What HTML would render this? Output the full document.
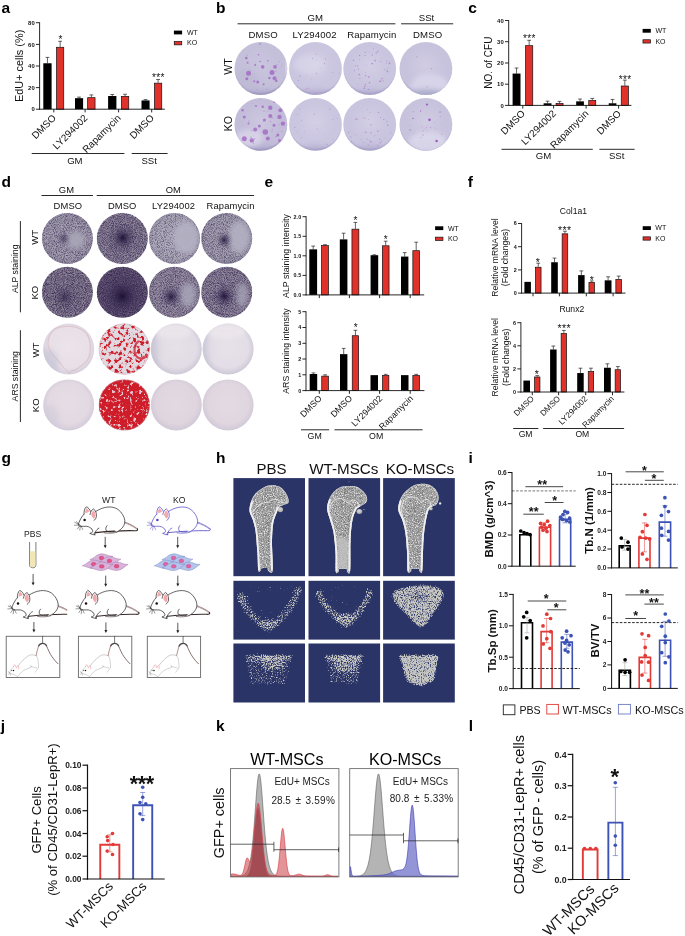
<!DOCTYPE html>
<html><head><meta charset="utf-8"><title>figure</title>
<style>
html,body{margin:0;padding:0;background:#fff;}
svg{display:block;font-family:"Liberation Sans",sans-serif;will-change:transform;opacity:0.9999;}
</style></head><body>
<svg width="685" height="936" viewBox="0 0 685 936" font-family="Liberation Sans, sans-serif">
<defs>
<filter id="bl03" x="-0.5" y="-0.5" width="2" height="2"><feGaussianBlur stdDeviation="0.35"/></filter>
<filter id="bl05" x="-0.2" y="-0.2" width="1.4" height="1.4"><feGaussianBlur stdDeviation="0.6"/></filter>
<filter id="bl1" x="-0.5" y="-0.5" width="2" height="2"><feGaussianBlur stdDeviation="1.2"/></filter>
<filter id="bl2" x="-0.5" y="-0.5" width="2" height="2"><feGaussianBlur stdDeviation="2.4"/></filter>
<filter id="bl3" x="-0.5" y="-0.5" width="2" height="2"><feGaussianBlur stdDeviation="3.5"/></filter>
<clipPath id="cp1"><circle cx="260.90" cy="68.50" r="26.40"/></clipPath>
<radialGradient id="rg2" cx="0.5" cy="0.45" r="0.53" gradientUnits="objectBoundingBox"><stop offset="0" stop-color="#c9c5dd" stop-opacity="1"/><stop offset="0.7" stop-color="#c4c0da" stop-opacity="1"/><stop offset="0.93" stop-color="#c4c0da" stop-opacity="1"/><stop offset="1" stop-color="#aaa4c8" stop-opacity="1"/></radialGradient>
<clipPath id="cp3"><circle cx="260.90" cy="124.40" r="26.40"/></clipPath>
<radialGradient id="rg4" cx="0.5" cy="0.45" r="0.53" gradientUnits="objectBoundingBox"><stop offset="0" stop-color="#cdc8df" stop-opacity="1"/><stop offset="0.7" stop-color="#c3bdda" stop-opacity="1"/><stop offset="0.93" stop-color="#c3bdda" stop-opacity="1"/><stop offset="1" stop-color="#aaa4c8" stop-opacity="1"/></radialGradient>
<clipPath id="cp5"><circle cx="315.50" cy="68.50" r="26.40"/></clipPath>
<radialGradient id="rg6" cx="0.5" cy="0.45" r="0.53" gradientUnits="objectBoundingBox"><stop offset="0" stop-color="#d3cfe5" stop-opacity="1"/><stop offset="0.7" stop-color="#cbc6e0" stop-opacity="1"/><stop offset="0.93" stop-color="#cbc6e0" stop-opacity="1"/><stop offset="1" stop-color="#b9b3d4" stop-opacity="1"/></radialGradient>
<clipPath id="cp7"><circle cx="315.50" cy="124.40" r="26.40"/></clipPath>
<radialGradient id="rg8" cx="0.5" cy="0.45" r="0.53" gradientUnits="objectBoundingBox"><stop offset="0" stop-color="#d3cfe5" stop-opacity="1"/><stop offset="0.7" stop-color="#cbc6e0" stop-opacity="1"/><stop offset="0.93" stop-color="#cbc6e0" stop-opacity="1"/><stop offset="1" stop-color="#b9b3d4" stop-opacity="1"/></radialGradient>
<clipPath id="cp9"><circle cx="369.70" cy="68.50" r="26.40"/></clipPath>
<radialGradient id="rg10" cx="0.5" cy="0.45" r="0.53" gradientUnits="objectBoundingBox"><stop offset="0" stop-color="#d2cee4" stop-opacity="1"/><stop offset="0.7" stop-color="#cac5df" stop-opacity="1"/><stop offset="0.93" stop-color="#cac5df" stop-opacity="1"/><stop offset="1" stop-color="#b8b2d3" stop-opacity="1"/></radialGradient>
<clipPath id="cp11"><circle cx="369.70" cy="124.40" r="26.40"/></clipPath>
<radialGradient id="rg12" cx="0.5" cy="0.45" r="0.53" gradientUnits="objectBoundingBox"><stop offset="0" stop-color="#d2cee4" stop-opacity="1"/><stop offset="0.7" stop-color="#cac5df" stop-opacity="1"/><stop offset="0.93" stop-color="#cac5df" stop-opacity="1"/><stop offset="1" stop-color="#b8b2d3" stop-opacity="1"/></radialGradient>
<clipPath id="cp13"><circle cx="425.90" cy="68.50" r="26.40"/></clipPath>
<radialGradient id="rg14" cx="0.5" cy="0.45" r="0.53" gradientUnits="objectBoundingBox"><stop offset="0" stop-color="#d0cce2" stop-opacity="1"/><stop offset="0.7" stop-color="#c8c3dd" stop-opacity="1"/><stop offset="0.93" stop-color="#c8c3dd" stop-opacity="1"/><stop offset="1" stop-color="#b3add0" stop-opacity="1"/></radialGradient>
<clipPath id="cp15"><circle cx="425.90" cy="124.40" r="26.40"/></clipPath>
<radialGradient id="rg16" cx="0.5" cy="0.45" r="0.53" gradientUnits="objectBoundingBox"><stop offset="0" stop-color="#d0cce2" stop-opacity="1"/><stop offset="0.7" stop-color="#c8c3dd" stop-opacity="1"/><stop offset="0.93" stop-color="#c8c3dd" stop-opacity="1"/><stop offset="1" stop-color="#b3add0" stop-opacity="1"/></radialGradient>
<clipPath id="cp17"><circle cx="67.40" cy="238.50" r="25.50"/></clipPath>
<radialGradient id="rg18" cx="0.5" cy="0.5" r="0.52" gradientUnits="objectBoundingBox"><stop offset="0" stop-color="#a6a1b2" stop-opacity="1"/><stop offset="0.8" stop-color="#a19cae" stop-opacity="1"/><stop offset="1" stop-color="#9690a5" stop-opacity="1"/></radialGradient>
<filter id="nf19" x="0" y="0" width="1" height="1" color-interpolation-filters="sRGB"><feTurbulence type="fractalNoise" baseFrequency="1.1" numOctaves="2" seed="3" result="n"/><feColorMatrix in="n" type="matrix" values="0 0 0 0 0.23  0 0 0 0 0.17  0 0 0 0 0.32  1.656 0 0 0 -0.6239999999999999" result="s"/><feComposite in="s" in2="SourceGraphic" operator="in"/></filter>
<radialGradient id="rg20" cx="0.5" cy="0.5" r="0.5" gradientUnits="objectBoundingBox"><stop offset="0" stop-color="#1c1232" stop-opacity="0.55"/><stop offset="0.3" stop-color="#281b44" stop-opacity="0.341"/><stop offset="0.65" stop-color="#33254f" stop-opacity="0.12100000000000001"/><stop offset="1" stop-color="#3a2a5a" stop-opacity="0"/></radialGradient>
<clipPath id="cp21"><circle cx="122.30" cy="238.50" r="25.50"/></clipPath>
<radialGradient id="rg22" cx="0.5" cy="0.5" r="0.52" gradientUnits="objectBoundingBox"><stop offset="0" stop-color="#8b8398" stop-opacity="1"/><stop offset="0.8" stop-color="#91899e" stop-opacity="1"/><stop offset="1" stop-color="#948ca0" stop-opacity="1"/></radialGradient>
<filter id="nf23" x="0" y="0" width="1" height="1" color-interpolation-filters="sRGB"><feTurbulence type="fractalNoise" baseFrequency="1.1" numOctaves="2" seed="4" result="n"/><feColorMatrix in="n" type="matrix" values="0 0 0 0 0.23  0 0 0 0 0.17  0 0 0 0 0.32  0 1.7999999999999998 0 0 -0.552" result="s"/><feComposite in="s" in2="SourceGraphic" operator="in"/></filter>
<radialGradient id="rg24" cx="0.5" cy="0.5" r="0.5" gradientUnits="objectBoundingBox"><stop offset="0" stop-color="#1c1232" stop-opacity="0.95"/><stop offset="0.3" stop-color="#281b44" stop-opacity="0.589"/><stop offset="0.65" stop-color="#33254f" stop-opacity="0.209"/><stop offset="1" stop-color="#3a2a5a" stop-opacity="0"/></radialGradient>
<clipPath id="cp25"><circle cx="174.50" cy="238.50" r="25.50"/></clipPath>
<radialGradient id="rg26" cx="0.5" cy="0.5" r="0.52" gradientUnits="objectBoundingBox"><stop offset="0" stop-color="#b1aebd" stop-opacity="1"/><stop offset="0.8" stop-color="#aba7b7" stop-opacity="1"/><stop offset="1" stop-color="#9993a8" stop-opacity="1"/></radialGradient>
<filter id="nf27" x="0" y="0" width="1" height="1" color-interpolation-filters="sRGB"><feTurbulence type="fractalNoise" baseFrequency="1.1" numOctaves="2" seed="5" result="n"/><feColorMatrix in="n" type="matrix" values="0 0 0 0 0.23  0 0 0 0 0.17  0 0 0 0 0.32  0 0 1.584 0 -0.6599999999999999" result="s"/><feComposite in="s" in2="SourceGraphic" operator="in"/></filter>
<clipPath id="cp28"><circle cx="226.70" cy="238.50" r="25.50"/></clipPath>
<radialGradient id="rg29" cx="0.5" cy="0.5" r="0.52" gradientUnits="objectBoundingBox"><stop offset="0" stop-color="#a9a5b5" stop-opacity="1"/><stop offset="0.8" stop-color="#a4a0b1" stop-opacity="1"/><stop offset="1" stop-color="#9690a5" stop-opacity="1"/></radialGradient>
<filter id="nf30" x="0" y="0" width="1" height="1" color-interpolation-filters="sRGB"><feTurbulence type="fractalNoise" baseFrequency="1.1" numOctaves="2" seed="6" result="n"/><feColorMatrix in="n" type="matrix" values="0 0 0 0 0.23  0 0 0 0 0.17  0 0 0 0 0.32  1.656 0 0 0 -0.6239999999999999" result="s"/><feComposite in="s" in2="SourceGraphic" operator="in"/></filter>
<radialGradient id="rg31" cx="0.5" cy="0.5" r="0.5" gradientUnits="objectBoundingBox"><stop offset="0" stop-color="#1c1232" stop-opacity="0.85"/><stop offset="0.3" stop-color="#281b44" stop-opacity="0.527"/><stop offset="0.65" stop-color="#33254f" stop-opacity="0.187"/><stop offset="1" stop-color="#3a2a5a" stop-opacity="0"/></radialGradient>
<clipPath id="cp32"><circle cx="67.40" cy="292.20" r="25.50"/></clipPath>
<radialGradient id="rg33" cx="0.5" cy="0.5" r="0.52" gradientUnits="objectBoundingBox"><stop offset="0" stop-color="#887f94" stop-opacity="1"/><stop offset="0.8" stop-color="#8e869a" stop-opacity="1"/><stop offset="1" stop-color="#91899d" stop-opacity="1"/></radialGradient>
<filter id="nf34" x="0" y="0" width="1" height="1" color-interpolation-filters="sRGB"><feTurbulence type="fractalNoise" baseFrequency="1.1" numOctaves="2" seed="7" result="n"/><feColorMatrix in="n" type="matrix" values="0 0 0 0 0.23  0 0 0 0 0.17  0 0 0 0 0.32  0 1.944 0 0 -0.5880000000000001" result="s"/><feComposite in="s" in2="SourceGraphic" operator="in"/></filter>
<radialGradient id="rg35" cx="0.5" cy="0.5" r="0.5" gradientUnits="objectBoundingBox"><stop offset="0" stop-color="#1c1232" stop-opacity="0.6"/><stop offset="0.3" stop-color="#281b44" stop-opacity="0.372"/><stop offset="0.65" stop-color="#33254f" stop-opacity="0.132"/><stop offset="1" stop-color="#3a2a5a" stop-opacity="0"/></radialGradient>
<clipPath id="cp36"><circle cx="122.30" cy="292.20" r="25.50"/></clipPath>
<radialGradient id="rg37" cx="0.5" cy="0.5" r="0.52" gradientUnits="objectBoundingBox"><stop offset="0" stop-color="#635673" stop-opacity="1"/><stop offset="0.8" stop-color="#6c5f7d" stop-opacity="1"/><stop offset="1" stop-color="#766a86" stop-opacity="1"/></radialGradient>
<filter id="nf38" x="0" y="0" width="1" height="1" color-interpolation-filters="sRGB"><feTurbulence type="fractalNoise" baseFrequency="1.1" numOctaves="2" seed="8" result="n"/><feColorMatrix in="n" type="matrix" values="0 0 0 0 0.23  0 0 0 0 0.17  0 0 0 0 0.32  0 0 2.088 0 -0.516" result="s"/><feComposite in="s" in2="SourceGraphic" operator="in"/></filter>
<radialGradient id="rg39" cx="0.5" cy="0.5" r="0.5" gradientUnits="objectBoundingBox"><stop offset="0" stop-color="#1c1232" stop-opacity="1.0"/><stop offset="0.3" stop-color="#281b44" stop-opacity="0.62"/><stop offset="0.65" stop-color="#33254f" stop-opacity="0.22"/><stop offset="1" stop-color="#3a2a5a" stop-opacity="0"/></radialGradient>
<clipPath id="cp40"><circle cx="174.50" cy="292.20" r="25.50"/></clipPath>
<radialGradient id="rg41" cx="0.5" cy="0.5" r="0.52" gradientUnits="objectBoundingBox"><stop offset="0" stop-color="#9991a5" stop-opacity="1"/><stop offset="0.8" stop-color="#9a92a6" stop-opacity="1"/><stop offset="1" stop-color="#938b9f" stop-opacity="1"/></radialGradient>
<filter id="nf42" x="0" y="0" width="1" height="1" color-interpolation-filters="sRGB"><feTurbulence type="fractalNoise" baseFrequency="1.1" numOctaves="2" seed="9" result="n"/><feColorMatrix in="n" type="matrix" values="0 0 0 0 0.23  0 0 0 0 0.17  0 0 0 0 0.32  1.7999999999999998 0 0 0 -0.6239999999999999" result="s"/><feComposite in="s" in2="SourceGraphic" operator="in"/></filter>
<radialGradient id="rg43" cx="0.5" cy="0.5" r="0.5" gradientUnits="objectBoundingBox"><stop offset="0" stop-color="#1c1232" stop-opacity="0.9"/><stop offset="0.3" stop-color="#281b44" stop-opacity="0.558"/><stop offset="0.65" stop-color="#33254f" stop-opacity="0.198"/><stop offset="1" stop-color="#3a2a5a" stop-opacity="0"/></radialGradient>
<clipPath id="cp44"><circle cx="226.70" cy="292.20" r="25.50"/></clipPath>
<radialGradient id="rg45" cx="0.5" cy="0.5" r="0.52" gradientUnits="objectBoundingBox"><stop offset="0" stop-color="#928a9f" stop-opacity="1"/><stop offset="0.8" stop-color="#948ca1" stop-opacity="1"/><stop offset="1" stop-color="#8f879c" stop-opacity="1"/></radialGradient>
<filter id="nf46" x="0" y="0" width="1" height="1" color-interpolation-filters="sRGB"><feTurbulence type="fractalNoise" baseFrequency="1.1" numOctaves="2" seed="10" result="n"/><feColorMatrix in="n" type="matrix" values="0 0 0 0 0.23  0 0 0 0 0.17  0 0 0 0 0.32  0 1.8719999999999999 0 0 -0.6024" result="s"/><feComposite in="s" in2="SourceGraphic" operator="in"/></filter>
<radialGradient id="rg47" cx="0.5" cy="0.5" r="0.5" gradientUnits="objectBoundingBox"><stop offset="0" stop-color="#1c1232" stop-opacity="0.95"/><stop offset="0.3" stop-color="#281b44" stop-opacity="0.589"/><stop offset="0.65" stop-color="#33254f" stop-opacity="0.209"/><stop offset="1" stop-color="#3a2a5a" stop-opacity="0"/></radialGradient>
<clipPath id="cp48"><circle cx="68.70" cy="349.00" r="25.50"/></clipPath>
<radialGradient id="rg49" cx="0.5" cy="0.47" r="0.53" gradientUnits="objectBoundingBox"><stop offset="0" stop-color="#ece4ea" stop-opacity="1"/><stop offset="0.75" stop-color="#e8dfe7" stop-opacity="1"/><stop offset="1" stop-color="#d6cfdc" stop-opacity="1"/></radialGradient>
<clipPath id="cp50"><circle cx="68.70" cy="404.90" r="25.50"/></clipPath>
<radialGradient id="rg51" cx="0.5" cy="0.47" r="0.53" gradientUnits="objectBoundingBox"><stop offset="0" stop-color="#e6dde5" stop-opacity="1"/><stop offset="0.75" stop-color="#e2d9e2" stop-opacity="1"/><stop offset="1" stop-color="#d3cbd9" stop-opacity="1"/></radialGradient>
<clipPath id="cp52"><circle cx="176.30" cy="349.00" r="25.50"/></clipPath>
<radialGradient id="rg53" cx="0.5" cy="0.47" r="0.53" gradientUnits="objectBoundingBox"><stop offset="0" stop-color="#e6e1e8" stop-opacity="1"/><stop offset="0.75" stop-color="#e1dce5" stop-opacity="1"/><stop offset="1" stop-color="#cdc8d6" stop-opacity="1"/></radialGradient>
<clipPath id="cp54"><circle cx="228.10" cy="349.00" r="25.50"/></clipPath>
<radialGradient id="rg55" cx="0.5" cy="0.47" r="0.53" gradientUnits="objectBoundingBox"><stop offset="0" stop-color="#e7e2e9" stop-opacity="1"/><stop offset="0.75" stop-color="#e2dde6" stop-opacity="1"/><stop offset="1" stop-color="#cdc8d6" stop-opacity="1"/></radialGradient>
<clipPath id="cp56"><circle cx="176.30" cy="404.90" r="25.50"/></clipPath>
<radialGradient id="rg57" cx="0.5" cy="0.47" r="0.53" gradientUnits="objectBoundingBox"><stop offset="0" stop-color="#e2d9e2" stop-opacity="1"/><stop offset="0.75" stop-color="#dfd5df" stop-opacity="1"/><stop offset="1" stop-color="#d0c8d6" stop-opacity="1"/></radialGradient>
<clipPath id="cp58"><circle cx="228.10" cy="404.90" r="25.50"/></clipPath>
<radialGradient id="rg59" cx="0.5" cy="0.47" r="0.53" gradientUnits="objectBoundingBox"><stop offset="0" stop-color="#e3dae3" stop-opacity="1"/><stop offset="0.75" stop-color="#e0d6e0" stop-opacity="1"/><stop offset="1" stop-color="#d1c9d7" stop-opacity="1"/></radialGradient>
<clipPath id="cp60"><circle cx="124.30" cy="349.00" r="25.50"/></clipPath>
<filter id="nf61" x="0" y="0" width="1" height="1" color-interpolation-filters="sRGB"><feTurbulence type="fractalNoise" baseFrequency="0.27" numOctaves="3" seed="21" result="n"/><feColorMatrix in="n" type="matrix" values="0 0 0 0 0.81  0 0 0 0 0.11  0 0 0 0 0.16  7 0 0 0 -3.6" result="s"/><feComposite in="s" in2="SourceGraphic" operator="in"/></filter>
<clipPath id="cp62"><circle cx="124.30" cy="404.90" r="25.50"/></clipPath>
<filter id="nf63" x="0" y="0" width="1" height="1" color-interpolation-filters="sRGB"><feTurbulence type="fractalNoise" baseFrequency="0.33" numOctaves="3" seed="33" result="n"/><feColorMatrix in="n" type="matrix" values="0 0 0 0 0.81  0 0 0 0 0.11  0 0 0 0 0.16  7 0 0 0 -2.05" result="s"/><feComposite in="s" in2="SourceGraphic" operator="in"/></filter>
<clipPath id="bc64"><path d="M270.3 485.3 C273.2 485.1 277.5 485.4 280.2 487.0 C282.9 488.6 285.3 492.0 286.7 494.6 C288.1 497.2 289.1 500.9 288.6 502.6 C288.1 504.3 285.0 504.3 283.5 505.0 C282.0 505.7 280.6 505.7 279.5 507.0 C278.4 508.3 277.6 510.3 276.6 513.0 C275.6 515.7 274.1 518.3 273.3 523.1 C272.5 527.9 272.1 533.8 272.0 541.7 C271.9 549.6 273.3 565.6 272.7 570.4 C272.1 575.2 269.1 571.2 268.1 570.7 C267.2 570.2 268.1 568.0 267.0 567.6 C265.9 567.2 262.7 568.0 261.6 568.5 C260.6 569.0 261.2 570.1 260.7 570.4 C260.1 570.7 258.9 573.4 258.3 570.4 C257.8 567.4 257.9 559.2 257.4 552.6 C256.9 546.0 256.3 536.2 255.5 530.7 C254.7 525.2 253.8 523.1 252.8 519.8 C251.8 516.5 249.8 514.1 249.5 511.0 C249.2 507.9 250.2 504.1 251.2 501.2 C252.2 498.3 253.6 495.7 255.5 493.5 C257.4 491.3 260.2 489.4 262.7 488.0 C265.2 486.6 267.4 485.5 270.3 485.3 Z"/></clipPath>
<linearGradient id="lg65" x1="0" y1="0" x2="1" y2="0"><stop offset="0" stop-color="#adadad" stop-opacity="1"/><stop offset="0.45" stop-color="#989898" stop-opacity="1"/><stop offset="1" stop-color="#a6a6a6" stop-opacity="1"/></linearGradient>
<radialGradient id="rg66" cx="0.45" cy="0.4" r="0.7" gradientUnits="objectBoundingBox"><stop offset="0" stop-color="#d8d8d8" stop-opacity="1"/><stop offset="0.7" stop-color="#b0b0b0" stop-opacity="1"/><stop offset="1" stop-color="#858585" stop-opacity="1"/></radialGradient>
<filter id="nu67" filterUnits="userSpaceOnUse" x="246.0" y="482.0" width="46.0" height="92.0" color-interpolation-filters="sRGB"><feTurbulence type="fractalNoise" baseFrequency="0.85" numOctaves="2" seed="2" result="n"/><feColorMatrix in="n" type="matrix" values="0 0 0 0 0.36  0 0 0 0 0.36  0 0 0 0 0.38  2.4 0 0 0 -1.1" result="s"/><feComposite in="s" in2="SourceGraphic" operator="in"/></filter>
<filter id="nu68" filterUnits="userSpaceOnUse" x="246.0" y="482.0" width="46.0" height="92.0" color-interpolation-filters="sRGB"><feTurbulence type="fractalNoise" baseFrequency="0.9" numOctaves="2" seed="7" result="n"/><feColorMatrix in="n" type="matrix" values="0 0 0 0 0.93  0 0 0 0 0.93  0 0 0 0 0.93  0 3.0 0 0 -1.4" result="s"/><feComposite in="s" in2="SourceGraphic" operator="in"/></filter>
<clipPath id="bc69"><path d="M348.6 485.9 C351.4 485.9 354.7 485.7 357.4 487.0 C360.1 488.3 363.4 491.4 365.0 493.5 C366.6 495.6 367.2 497.8 367.2 499.5 C367.2 501.2 366.1 502.5 365.0 503.6 C363.9 504.7 361.9 505.2 360.4 506.3 C358.9 507.4 357.4 507.4 356.0 510.0 C354.6 512.6 353.0 516.7 352.1 522.0 C351.2 527.3 350.8 533.5 350.5 541.7 C350.2 549.9 350.7 566.3 350.1 571.3 C349.5 576.3 347.6 571.9 347.0 571.5 C346.4 571.1 347.7 569.5 346.4 569.1 C345.1 568.7 340.6 568.7 339.3 569.1 C338.0 569.5 339.4 571.3 338.8 571.8 C338.2 572.2 336.4 575.0 335.8 571.8 C335.2 568.6 335.9 559.1 335.5 552.6 C335.1 546.1 334.5 538.4 333.6 532.9 C332.7 527.4 331.1 523.8 330.0 519.8 C328.9 515.8 327.2 512.3 327.1 508.8 C327.0 505.3 328.0 501.9 329.2 499.0 C330.4 496.1 332.4 493.3 334.4 491.3 C336.3 489.3 338.5 487.9 340.9 487.0 C343.3 486.1 345.9 485.9 348.6 485.9 Z"/></clipPath>
<linearGradient id="lg70" x1="0" y1="0" x2="1" y2="0"><stop offset="0" stop-color="#adadad" stop-opacity="1"/><stop offset="0.45" stop-color="#989898" stop-opacity="1"/><stop offset="1" stop-color="#a6a6a6" stop-opacity="1"/></linearGradient>
<radialGradient id="rg71" cx="0.45" cy="0.4" r="0.7" gradientUnits="objectBoundingBox"><stop offset="0" stop-color="#d8d8d8" stop-opacity="1"/><stop offset="0.7" stop-color="#b0b0b0" stop-opacity="1"/><stop offset="1" stop-color="#858585" stop-opacity="1"/></radialGradient>
<filter id="nu72" filterUnits="userSpaceOnUse" x="324.0" y="483.0" width="46.0" height="92.0" color-interpolation-filters="sRGB"><feTurbulence type="fractalNoise" baseFrequency="0.85" numOctaves="2" seed="3" result="n"/><feColorMatrix in="n" type="matrix" values="0 0 0 0 0.36  0 0 0 0 0.36  0 0 0 0 0.38  2.4 0 0 0 -1.1" result="s"/><feComposite in="s" in2="SourceGraphic" operator="in"/></filter>
<filter id="nu73" filterUnits="userSpaceOnUse" x="324.0" y="483.0" width="46.0" height="92.0" color-interpolation-filters="sRGB"><feTurbulence type="fractalNoise" baseFrequency="0.9" numOctaves="2" seed="8" result="n"/><feColorMatrix in="n" type="matrix" values="0 0 0 0 0.93  0 0 0 0 0.93  0 0 0 0 0.93  0 3.0 0 0 -1.4" result="s"/><feComposite in="s" in2="SourceGraphic" operator="in"/></filter>
<clipPath id="bc74"><path d="M421.5 483.7 C424.4 483.6 427.8 484.0 430.3 485.3 C432.9 486.6 435.4 489.0 436.8 491.3 C438.2 493.6 438.8 496.7 438.6 499.0 C438.5 501.3 436.9 503.8 435.9 505.0 C434.9 506.2 433.7 505.5 432.5 506.3 C431.3 507.1 429.8 507.1 428.6 509.9 C427.4 512.7 426.4 517.8 425.5 523.1 C424.6 528.4 423.9 533.8 423.4 541.7 C422.9 549.6 423.0 565.8 422.3 570.7 C421.6 575.6 419.9 571.2 419.3 570.9 C418.7 570.6 420.1 569.4 418.8 569.1 C417.5 568.8 413.0 568.7 411.7 569.1 C410.4 569.5 411.8 570.9 411.1 571.3 C410.4 571.7 408.3 574.4 407.6 571.3 C406.9 568.2 407.5 559.0 407.1 552.6 C406.7 546.2 406.2 538.4 405.4 532.9 C404.6 527.4 403.4 523.6 402.2 519.8 C401.0 516.0 398.7 513.2 398.3 509.9 C397.9 506.6 399.0 503.0 400.0 500.1 C401.0 497.2 402.4 494.8 404.5 492.4 C406.6 490.0 410.0 487.3 412.8 485.9 C415.6 484.4 418.6 483.8 421.5 483.7 Z"/></clipPath>
<linearGradient id="lg75" x1="0" y1="0" x2="1" y2="0"><stop offset="0" stop-color="#adadad" stop-opacity="1"/><stop offset="0.45" stop-color="#989898" stop-opacity="1"/><stop offset="1" stop-color="#a6a6a6" stop-opacity="1"/></linearGradient>
<radialGradient id="rg76" cx="0.45" cy="0.4" r="0.7" gradientUnits="objectBoundingBox"><stop offset="0" stop-color="#d8d8d8" stop-opacity="1"/><stop offset="0.7" stop-color="#b0b0b0" stop-opacity="1"/><stop offset="1" stop-color="#858585" stop-opacity="1"/></radialGradient>
<filter id="nu77" filterUnits="userSpaceOnUse" x="395.0" y="481.0" width="46.0" height="92.0" color-interpolation-filters="sRGB"><feTurbulence type="fractalNoise" baseFrequency="0.85" numOctaves="2" seed="4" result="n"/><feColorMatrix in="n" type="matrix" values="0 0 0 0 0.36  0 0 0 0 0.36  0 0 0 0 0.38  2.4 0 0 0 -1.1" result="s"/><feComposite in="s" in2="SourceGraphic" operator="in"/></filter>
<filter id="nu78" filterUnits="userSpaceOnUse" x="395.0" y="481.0" width="46.0" height="92.0" color-interpolation-filters="sRGB"><feTurbulence type="fractalNoise" baseFrequency="0.9" numOctaves="2" seed="9" result="n"/><feColorMatrix in="n" type="matrix" values="0 0 0 0 0.93  0 0 0 0 0.93  0 0 0 0 0.93  0 3.0 0 0 -1.4" result="s"/><feComposite in="s" in2="SourceGraphic" operator="in"/></filter>
<filter id="sp79" filterUnits="userSpaceOnUse" x="234.0" y="581.0" width="71.0" height="58.5" color-interpolation-filters="sRGB"><feTurbulence type="fractalNoise" baseFrequency="0.8" numOctaves="2" seed="11" result="n"/><feColorMatrix in="n" type="matrix" values="0 0 0 0 0  0 0 0 0 0  0 0 0 0 0  1 0 0 0 0" result="na"/><feGaussianBlur in="SourceGraphic" stdDeviation="1.8" result="m"/><feComposite in="na" in2="m" operator="arithmetic" k1="0" k2="3.5" k3="1.8" k4="-2.95" result="a"/><feFlood flood-color="#cdcdc0" result="f"/><feComposite in="f" in2="a" operator="in"/></filter>
<filter id="sp80" filterUnits="userSpaceOnUse" x="309.0" y="581.0" width="71.0" height="58.5" color-interpolation-filters="sRGB"><feTurbulence type="fractalNoise" baseFrequency="0.8" numOctaves="2" seed="12" result="n"/><feColorMatrix in="n" type="matrix" values="0 0 0 0 0  0 0 0 0 0  0 0 0 0 0  1 0 0 0 0" result="na"/><feGaussianBlur in="SourceGraphic" stdDeviation="1.6" result="m"/><feComposite in="na" in2="m" operator="arithmetic" k1="0" k2="3.5" k3="1.8" k4="-2.95" result="a"/><feFlood flood-color="#cfcfc2" result="f"/><feComposite in="f" in2="a" operator="in"/></filter>
<filter id="sp81" filterUnits="userSpaceOnUse" x="384.0" y="581.0" width="71.0" height="58.5" color-interpolation-filters="sRGB"><feTurbulence type="fractalNoise" baseFrequency="0.85" numOctaves="2" seed="13" result="n"/><feColorMatrix in="n" type="matrix" values="0 0 0 0 0  0 0 0 0 0  0 0 0 0 0  1 0 0 0 0" result="na"/><feGaussianBlur in="SourceGraphic" stdDeviation="1.6" result="m"/><feComposite in="na" in2="m" operator="arithmetic" k1="0" k2="3.5" k3="2.1" k4="-3.0" result="a"/><feFlood flood-color="#c9c9c2" result="f"/><feComposite in="f" in2="a" operator="in"/></filter>
<filter id="sp82" filterUnits="userSpaceOnUse" x="384.0" y="581.0" width="71.0" height="58.5" color-interpolation-filters="sRGB"><feTurbulence type="fractalNoise" baseFrequency="0.8" numOctaves="2" seed="23" result="n"/><feColorMatrix in="n" type="matrix" values="0 0 0 0 0  0 0 0 0 0  0 0 0 0 0  1 0 0 0 0" result="na"/><feGaussianBlur in="SourceGraphic" stdDeviation="2.2" result="m"/><feComposite in="na" in2="m" operator="arithmetic" k1="0" k2="3.5" k3="1.5" k4="-2.95" result="a"/><feFlood flood-color="#2b3467" result="f"/><feComposite in="f" in2="a" operator="in"/></filter>
<filter id="sp83" filterUnits="userSpaceOnUse" x="240.0" y="651.0" width="58.0" height="40.0" color-interpolation-filters="sRGB"><feTurbulence type="fractalNoise" baseFrequency="0.8" numOctaves="2" seed="14" result="n"/><feColorMatrix in="n" type="matrix" values="0 0 0 0 0  0 0 0 0 0  0 0 0 0 0  1 0 0 0 0" result="na"/><feGaussianBlur in="SourceGraphic" stdDeviation="1.2" result="m"/><feComposite in="na" in2="m" operator="arithmetic" k1="0" k2="3.5" k3="2.2" k4="-3.0" result="a"/><feFlood flood-color="#cfcfc8" result="f"/><feComposite in="f" in2="a" operator="in"/></filter>
<filter id="sp84" filterUnits="userSpaceOnUse" x="320.0" y="651.0" width="50.0" height="40.0" color-interpolation-filters="sRGB"><feTurbulence type="fractalNoise" baseFrequency="0.8" numOctaves="2" seed="15" result="n"/><feColorMatrix in="n" type="matrix" values="0 0 0 0 0  0 0 0 0 0  0 0 0 0 0  1 0 0 0 0" result="na"/><feGaussianBlur in="SourceGraphic" stdDeviation="1.2" result="m"/><feComposite in="na" in2="m" operator="arithmetic" k1="0" k2="3.5" k3="2.2" k4="-3.0" result="a"/><feFlood flood-color="#cfcfc8" result="f"/><feComposite in="f" in2="a" operator="in"/></filter>
<filter id="sp85" filterUnits="userSpaceOnUse" x="395.0" y="651.0" width="50.0" height="40.0" color-interpolation-filters="sRGB"><feTurbulence type="fractalNoise" baseFrequency="0.85" numOctaves="2" seed="16" result="n"/><feColorMatrix in="n" type="matrix" values="0 0 0 0 0  0 0 0 0 0  0 0 0 0 0  1 0 0 0 0" result="na"/><feGaussianBlur in="SourceGraphic" stdDeviation="0.9" result="m"/><feComposite in="na" in2="m" operator="arithmetic" k1="0" k2="3.5" k3="2.3" k4="-3.05" result="a"/><feFlood flood-color="#c6c6c2" result="f"/><feComposite in="f" in2="a" operator="in"/></filter>
<clipPath id="m1c"><rect x="0" y="585" width="67.2" height="40"/></clipPath>
<clipPath id="kc1"><rect x="230.5" y="768.6" width="108.4" height="108.3"/></clipPath>
<clipPath id="kc2"><rect x="349.7" y="768.6" width="108.5" height="108.3"/></clipPath>
</defs>
<rect x="0" y="0" width="685" height="936" fill="#fff"/>
<text x="1.60" y="13.00" font-size="15.5" text-anchor="start" font-weight="bold" fill="#000">a</text>
<text x="216.00" y="12.60" font-size="15.5" text-anchor="start" font-weight="bold" fill="#000">b</text>
<text x="468.20" y="12.90" font-size="15.5" text-anchor="start" font-weight="bold" fill="#000">c</text>
<text x="1.40" y="186.80" font-size="15.5" text-anchor="start" font-weight="bold" fill="#000">d</text>
<text x="264.50" y="186.70" font-size="15.5" text-anchor="start" font-weight="bold" fill="#000">e</text>
<text x="467.70" y="186.70" font-size="15.5" text-anchor="start" font-weight="bold" fill="#000">f</text>
<text x="1.60" y="462.80" font-size="15.5" text-anchor="start" font-weight="bold" fill="#000">g</text>
<text x="216.00" y="462.80" font-size="15.5" text-anchor="start" font-weight="bold" fill="#000">h</text>
<text x="468.60" y="462.90" font-size="15.5" text-anchor="start" font-weight="bold" fill="#000">i</text>
<text x="0.80" y="730.80" font-size="15.5" text-anchor="start" font-weight="bold" fill="#000">j</text>
<text x="216.00" y="730.80" font-size="15.5" text-anchor="start" font-weight="bold" fill="#000">k</text>
<text x="468.80" y="730.80" font-size="15.5" text-anchor="start" font-weight="bold" fill="#000">l</text>
<line x1="47.45" y1="63.26" x2="47.45" y2="57.40" stroke="#222" stroke-width="0.7"/>
<line x1="45.55" y1="57.40" x2="49.35" y2="57.40" stroke="#222" stroke-width="0.7"/>
<rect x="43.30" y="63.26" width="8.30" height="45.94" fill="#000" stroke="none" stroke-width="1"/>
<line x1="60.15" y1="46.93" x2="60.15" y2="41.30" stroke="#222" stroke-width="0.7"/>
<line x1="58.25" y1="41.30" x2="62.05" y2="41.30" stroke="#222" stroke-width="0.7"/>
<rect x="56.55" y="47.28" width="7.20" height="61.92" fill="#e0312b" stroke="#111" stroke-width="0.7"/>
<line x1="79.05" y1="98.17" x2="79.05" y2="97.09" stroke="#222" stroke-width="0.7"/>
<line x1="77.15" y1="97.09" x2="80.95" y2="97.09" stroke="#222" stroke-width="0.7"/>
<rect x="75.00" y="98.17" width="8.10" height="11.03" fill="#000" stroke="none" stroke-width="1"/>
<line x1="91.35" y1="97.31" x2="91.35" y2="94.93" stroke="#222" stroke-width="0.7"/>
<line x1="89.45" y1="94.93" x2="93.25" y2="94.93" stroke="#222" stroke-width="0.7"/>
<rect x="87.65" y="97.66" width="7.40" height="11.54" fill="#e0312b" stroke="#111" stroke-width="0.7"/>
<line x1="112.25" y1="96.01" x2="112.25" y2="94.50" stroke="#222" stroke-width="0.7"/>
<line x1="110.35" y1="94.50" x2="114.15" y2="94.50" stroke="#222" stroke-width="0.7"/>
<rect x="108.10" y="96.01" width="8.30" height="13.19" fill="#000" stroke="none" stroke-width="1"/>
<line x1="125.05" y1="96.01" x2="125.05" y2="94.28" stroke="#222" stroke-width="0.7"/>
<line x1="123.15" y1="94.28" x2="126.95" y2="94.28" stroke="#222" stroke-width="0.7"/>
<rect x="121.35" y="96.36" width="7.40" height="12.84" fill="#e0312b" stroke="#111" stroke-width="0.7"/>
<line x1="145.55" y1="100.44" x2="145.55" y2="99.58" stroke="#222" stroke-width="0.7"/>
<line x1="143.65" y1="99.58" x2="147.45" y2="99.58" stroke="#222" stroke-width="0.7"/>
<rect x="141.50" y="100.44" width="8.10" height="8.76" fill="#000" stroke="none" stroke-width="1"/>
<line x1="158.10" y1="82.82" x2="158.10" y2="79.47" stroke="#222" stroke-width="0.7"/>
<line x1="156.20" y1="79.47" x2="160.00" y2="79.47" stroke="#222" stroke-width="0.7"/>
<rect x="154.45" y="83.17" width="7.30" height="26.03" fill="#e0312b" stroke="#111" stroke-width="0.7"/>
<line x1="39.60" y1="22.25" x2="39.60" y2="109.65" stroke="#111" stroke-width="0.9"/>
<line x1="39.15" y1="109.20" x2="164.80" y2="109.20" stroke="#111" stroke-width="0.9"/>
<line x1="35.90" y1="22.70" x2="39.60" y2="22.70" stroke="#111" stroke-width="0.9"/>
<text x="34.90" y="24.82" font-size="5.9" text-anchor="end" font-weight="bold" fill="#111" letter-spacing="0.2">80</text>
<line x1="35.90" y1="44.40" x2="39.60" y2="44.40" stroke="#111" stroke-width="0.9"/>
<text x="34.90" y="46.52" font-size="5.9" text-anchor="end" font-weight="bold" fill="#111" letter-spacing="0.2">60</text>
<line x1="35.90" y1="66.00" x2="39.60" y2="66.00" stroke="#111" stroke-width="0.9"/>
<text x="34.90" y="68.12" font-size="5.9" text-anchor="end" font-weight="bold" fill="#111" letter-spacing="0.2">40</text>
<line x1="35.90" y1="87.60" x2="39.60" y2="87.60" stroke="#111" stroke-width="0.9"/>
<text x="34.90" y="89.72" font-size="5.9" text-anchor="end" font-weight="bold" fill="#111" letter-spacing="0.2">20</text>
<line x1="35.90" y1="109.20" x2="39.60" y2="109.20" stroke="#111" stroke-width="0.9"/>
<text x="34.90" y="111.32" font-size="5.9" text-anchor="end" font-weight="bold" fill="#111" letter-spacing="0.2">0</text>
<line x1="53.80" y1="109.20" x2="53.80" y2="112.40" stroke="#111" stroke-width="0.9"/>
<line x1="85.10" y1="109.20" x2="85.10" y2="112.40" stroke="#111" stroke-width="0.9"/>
<line x1="118.60" y1="109.20" x2="118.60" y2="112.40" stroke="#111" stroke-width="0.9"/>
<line x1="151.70" y1="109.20" x2="151.70" y2="112.40" stroke="#111" stroke-width="0.9"/>
<text x="60.40" y="43.25" font-size="10" text-anchor="middle" font-weight="normal" fill="#111">*</text>
<text x="158.48" y="81.45" font-size="10" text-anchor="middle" font-weight="normal" fill="#111" letter-spacing="0.35">***</text>
<text x="23.12" y="65.90" font-size="10.9" text-anchor="middle" font-weight="normal" fill="#111" transform="rotate(-90 23.12 65.90)">EdU+ cells (%)</text>
<rect x="173.90" y="30.60" width="8.20" height="3.80" fill="#000" stroke="none" stroke-width="1"/>
<text x="187.00" y="34.80" font-size="7.0" text-anchor="start" font-weight="normal" fill="#111">WT</text>
<rect x="174.25" y="41.55" width="7.50" height="3.30" fill="#e0312b" stroke="#111" stroke-width="0.7"/>
<text x="187.00" y="45.40" font-size="7.0" text-anchor="start" font-weight="normal" fill="#111">KO</text>
<text x="56.60" y="118.60" font-size="9.9" text-anchor="end" font-weight="normal" fill="#111" transform="rotate(-45 56.60 118.60)">DMSO</text>
<text x="88.20" y="118.60" font-size="9.9" text-anchor="end" font-weight="normal" fill="#111" transform="rotate(-45 88.20 118.60)">LY294002</text>
<text x="121.50" y="118.60" font-size="9.9" text-anchor="end" font-weight="normal" fill="#111" transform="rotate(-45 121.50 118.60)">Rapamycin</text>
<text x="154.60" y="118.60" font-size="9.9" text-anchor="end" font-weight="normal" fill="#111" transform="rotate(-45 154.60 118.60)">DMSO</text>
<line x1="31.70" y1="153.50" x2="124.40" y2="153.50" stroke="#111" stroke-width="0.9"/>
<line x1="131.70" y1="153.50" x2="167.60" y2="153.50" stroke="#111" stroke-width="0.9"/>
<text x="74.90" y="164.20" font-size="9.6" text-anchor="middle" font-weight="normal" fill="#111">GM</text>
<text x="149.20" y="164.20" font-size="9.6" text-anchor="middle" font-weight="normal" fill="#111">SSt</text>
<line x1="516.55" y1="73.56" x2="516.55" y2="68.00" stroke="#222" stroke-width="0.7"/>
<line x1="514.65" y1="68.00" x2="518.45" y2="68.00" stroke="#222" stroke-width="0.7"/>
<rect x="512.60" y="73.56" width="7.90" height="31.84" fill="#000" stroke="none" stroke-width="1"/>
<line x1="529.15" y1="45.33" x2="529.15" y2="40.30" stroke="#222" stroke-width="0.7"/>
<line x1="527.25" y1="40.30" x2="531.05" y2="40.30" stroke="#222" stroke-width="0.7"/>
<rect x="525.55" y="45.68" width="7.20" height="59.72" fill="#e0312b" stroke="#111" stroke-width="0.7"/>
<line x1="547.55" y1="103.28" x2="547.55" y2="101.16" stroke="#222" stroke-width="0.7"/>
<line x1="545.65" y1="101.16" x2="549.45" y2="101.16" stroke="#222" stroke-width="0.7"/>
<rect x="543.60" y="103.28" width="7.90" height="2.12" fill="#000" stroke="none" stroke-width="1"/>
<line x1="559.55" y1="103.07" x2="559.55" y2="101.37" stroke="#222" stroke-width="0.7"/>
<line x1="557.65" y1="101.37" x2="561.45" y2="101.37" stroke="#222" stroke-width="0.7"/>
<rect x="556.05" y="103.42" width="7.00" height="1.98" fill="#e0312b" stroke="#111" stroke-width="0.7"/>
<line x1="580.05" y1="101.37" x2="580.05" y2="99.03" stroke="#222" stroke-width="0.7"/>
<line x1="578.15" y1="99.03" x2="581.95" y2="99.03" stroke="#222" stroke-width="0.7"/>
<rect x="576.20" y="101.37" width="7.70" height="4.03" fill="#000" stroke="none" stroke-width="1"/>
<line x1="592.25" y1="100.09" x2="592.25" y2="98.40" stroke="#222" stroke-width="0.7"/>
<line x1="590.35" y1="98.40" x2="594.15" y2="98.40" stroke="#222" stroke-width="0.7"/>
<rect x="588.75" y="100.44" width="7.00" height="4.96" fill="#e0312b" stroke="#111" stroke-width="0.7"/>
<line x1="612.55" y1="103.28" x2="612.55" y2="99.46" stroke="#222" stroke-width="0.7"/>
<line x1="610.65" y1="99.46" x2="614.45" y2="99.46" stroke="#222" stroke-width="0.7"/>
<rect x="608.70" y="103.28" width="7.70" height="2.12" fill="#000" stroke="none" stroke-width="1"/>
<line x1="624.85" y1="85.66" x2="624.85" y2="80.14" stroke="#222" stroke-width="0.7"/>
<line x1="622.95" y1="80.14" x2="626.75" y2="80.14" stroke="#222" stroke-width="0.7"/>
<rect x="621.25" y="86.01" width="7.20" height="19.39" fill="#e0312b" stroke="#111" stroke-width="0.7"/>
<line x1="508.70" y1="20.05" x2="508.70" y2="105.85" stroke="#111" stroke-width="0.9"/>
<line x1="508.25" y1="105.40" x2="631.40" y2="105.40" stroke="#111" stroke-width="0.9"/>
<line x1="505.00" y1="20.50" x2="508.70" y2="20.50" stroke="#111" stroke-width="0.9"/>
<text x="504.00" y="22.62" font-size="5.9" text-anchor="end" font-weight="bold" fill="#111" letter-spacing="0.2">40</text>
<line x1="505.00" y1="41.70" x2="508.70" y2="41.70" stroke="#111" stroke-width="0.9"/>
<text x="504.00" y="43.82" font-size="5.9" text-anchor="end" font-weight="bold" fill="#111" letter-spacing="0.2">30</text>
<line x1="505.00" y1="63.00" x2="508.70" y2="63.00" stroke="#111" stroke-width="0.9"/>
<text x="504.00" y="65.12" font-size="5.9" text-anchor="end" font-weight="bold" fill="#111" letter-spacing="0.2">20</text>
<line x1="505.00" y1="84.20" x2="508.70" y2="84.20" stroke="#111" stroke-width="0.9"/>
<text x="504.00" y="86.32" font-size="5.9" text-anchor="end" font-weight="bold" fill="#111" letter-spacing="0.2">10</text>
<line x1="505.00" y1="105.40" x2="508.70" y2="105.40" stroke="#111" stroke-width="0.9"/>
<text x="504.00" y="107.52" font-size="5.9" text-anchor="end" font-weight="bold" fill="#111" letter-spacing="0.2">0</text>
<line x1="522.80" y1="105.40" x2="522.80" y2="108.60" stroke="#111" stroke-width="0.9"/>
<line x1="553.60" y1="105.40" x2="553.60" y2="108.60" stroke="#111" stroke-width="0.9"/>
<line x1="586.10" y1="105.40" x2="586.10" y2="108.60" stroke="#111" stroke-width="0.9"/>
<line x1="618.60" y1="105.40" x2="618.60" y2="108.60" stroke="#111" stroke-width="0.9"/>
<text x="529.38" y="41.55" font-size="10" text-anchor="middle" font-weight="normal" fill="#111" letter-spacing="0.35">***</text>
<text x="625.07" y="82.75" font-size="10" text-anchor="middle" font-weight="normal" fill="#111" letter-spacing="0.35">***</text>
<text x="491.90" y="62.70" font-size="10.0" text-anchor="middle" font-weight="normal" fill="#111" transform="rotate(-90 491.90 62.70)">NO. of CFU</text>
<rect x="642.60" y="28.90" width="8.20" height="3.80" fill="#000" stroke="none" stroke-width="1"/>
<text x="655.40" y="33.10" font-size="7.0" text-anchor="start" font-weight="normal" fill="#111">WT</text>
<rect x="642.95" y="39.75" width="7.50" height="3.30" fill="#e0312b" stroke="#111" stroke-width="0.7"/>
<text x="655.40" y="43.60" font-size="7.0" text-anchor="start" font-weight="normal" fill="#111">KO</text>
<text x="525.80" y="114.20" font-size="9.9" text-anchor="end" font-weight="normal" fill="#111" transform="rotate(-45 525.80 114.20)">DMSO</text>
<text x="556.60" y="114.20" font-size="9.9" text-anchor="end" font-weight="normal" fill="#111" transform="rotate(-45 556.60 114.20)">LY294002</text>
<text x="589.20" y="114.20" font-size="9.9" text-anchor="end" font-weight="normal" fill="#111" transform="rotate(-45 589.20 114.20)">Rapamycin</text>
<text x="621.60" y="114.20" font-size="9.9" text-anchor="end" font-weight="normal" fill="#111" transform="rotate(-45 621.60 114.20)">DMSO</text>
<line x1="501.50" y1="149.30" x2="592.80" y2="149.30" stroke="#111" stroke-width="0.9"/>
<line x1="599.40" y1="149.30" x2="634.60" y2="149.30" stroke="#111" stroke-width="0.9"/>
<text x="543.50" y="159.30" font-size="9.6" text-anchor="middle" font-weight="normal" fill="#111">GM</text>
<text x="616.70" y="159.30" font-size="9.6" text-anchor="middle" font-weight="normal" fill="#111">SSt</text>
<line x1="313.20" y1="249.35" x2="313.20" y2="246.10" stroke="#222" stroke-width="0.7"/>
<line x1="311.30" y1="246.10" x2="315.10" y2="246.10" stroke="#222" stroke-width="0.7"/>
<rect x="309.30" y="249.35" width="7.80" height="45.55" fill="#000" stroke="none" stroke-width="1"/>
<line x1="325.00" y1="245.24" x2="325.00" y2="244.70" stroke="#222" stroke-width="0.7"/>
<line x1="323.10" y1="244.70" x2="326.90" y2="244.70" stroke="#222" stroke-width="0.7"/>
<rect x="321.55" y="245.59" width="6.90" height="49.31" fill="#e0312b" stroke="#111" stroke-width="0.7"/>
<line x1="343.60" y1="239.38" x2="343.60" y2="233.20" stroke="#222" stroke-width="0.7"/>
<line x1="341.70" y1="233.20" x2="345.50" y2="233.20" stroke="#222" stroke-width="0.7"/>
<rect x="339.80" y="239.38" width="7.60" height="55.52" fill="#000" stroke="none" stroke-width="1"/>
<line x1="355.40" y1="228.82" x2="355.40" y2="222.40" stroke="#222" stroke-width="0.7"/>
<line x1="353.50" y1="222.40" x2="357.30" y2="222.40" stroke="#222" stroke-width="0.7"/>
<rect x="351.95" y="229.17" width="6.90" height="65.73" fill="#e0312b" stroke="#111" stroke-width="0.7"/>
<line x1="374.40" y1="255.21" x2="374.40" y2="254.80" stroke="#222" stroke-width="0.7"/>
<line x1="372.50" y1="254.80" x2="376.30" y2="254.80" stroke="#222" stroke-width="0.7"/>
<rect x="370.60" y="255.21" width="7.60" height="39.69" fill="#000" stroke="none" stroke-width="1"/>
<line x1="385.70" y1="245.44" x2="385.70" y2="241.20" stroke="#222" stroke-width="0.7"/>
<line x1="383.80" y1="241.20" x2="387.60" y2="241.20" stroke="#222" stroke-width="0.7"/>
<rect x="382.35" y="245.79" width="6.70" height="49.11" fill="#e0312b" stroke="#111" stroke-width="0.7"/>
<line x1="404.70" y1="256.58" x2="404.70" y2="252.60" stroke="#222" stroke-width="0.7"/>
<line x1="402.80" y1="252.60" x2="406.60" y2="252.60" stroke="#222" stroke-width="0.7"/>
<rect x="401.00" y="256.58" width="7.40" height="38.32" fill="#000" stroke="none" stroke-width="1"/>
<line x1="416.20" y1="250.33" x2="416.20" y2="242.20" stroke="#222" stroke-width="0.7"/>
<line x1="414.30" y1="242.20" x2="418.10" y2="242.20" stroke="#222" stroke-width="0.7"/>
<rect x="412.85" y="250.68" width="6.70" height="44.22" fill="#e0312b" stroke="#111" stroke-width="0.7"/>
<line x1="306.10" y1="216.25" x2="306.10" y2="295.35" stroke="#111" stroke-width="0.9"/>
<line x1="305.65" y1="294.90" x2="424.20" y2="294.90" stroke="#111" stroke-width="0.9"/>
<line x1="302.50" y1="216.70" x2="306.10" y2="216.70" stroke="#111" stroke-width="0.9"/>
<text x="301.50" y="218.64" font-size="5.4" text-anchor="end" font-weight="bold" fill="#111" letter-spacing="0.2">2.0</text>
<line x1="302.50" y1="236.30" x2="306.10" y2="236.30" stroke="#111" stroke-width="0.9"/>
<text x="301.50" y="238.24" font-size="5.4" text-anchor="end" font-weight="bold" fill="#111" letter-spacing="0.2">1.5</text>
<line x1="302.50" y1="255.80" x2="306.10" y2="255.80" stroke="#111" stroke-width="0.9"/>
<text x="301.50" y="257.74" font-size="5.4" text-anchor="end" font-weight="bold" fill="#111" letter-spacing="0.2">1.0</text>
<line x1="302.50" y1="275.40" x2="306.10" y2="275.40" stroke="#111" stroke-width="0.9"/>
<text x="301.50" y="277.34" font-size="5.4" text-anchor="end" font-weight="bold" fill="#111" letter-spacing="0.2">0.5</text>
<line x1="302.50" y1="294.90" x2="306.10" y2="294.90" stroke="#111" stroke-width="0.9"/>
<text x="301.50" y="296.84" font-size="5.4" text-anchor="end" font-weight="bold" fill="#111" letter-spacing="0.2">0.0</text>
<line x1="319.30" y1="294.90" x2="319.30" y2="298.10" stroke="#111" stroke-width="0.9"/>
<line x1="349.40" y1="294.90" x2="349.40" y2="298.10" stroke="#111" stroke-width="0.9"/>
<line x1="379.60" y1="294.90" x2="379.60" y2="298.10" stroke="#111" stroke-width="0.9"/>
<line x1="410.20" y1="294.90" x2="410.20" y2="298.10" stroke="#111" stroke-width="0.9"/>
<text x="355.40" y="224.05" font-size="10" text-anchor="middle" font-weight="normal" fill="#111">*</text>
<text x="385.80" y="243.05" font-size="10" text-anchor="middle" font-weight="normal" fill="#111">*</text>
<text x="289.27" y="256.00" font-size="8.8" text-anchor="middle" font-weight="normal" fill="#111" transform="rotate(-90 289.27 256.00)">ALP staining intensity</text>
<rect x="435.10" y="226.30" width="8.20" height="3.80" fill="#000" stroke="none" stroke-width="1"/>
<text x="447.90" y="230.50" font-size="7.0" text-anchor="start" font-weight="normal" fill="#111">WT</text>
<rect x="435.45" y="237.15" width="7.50" height="3.30" fill="#e0312b" stroke="#111" stroke-width="0.7"/>
<text x="447.90" y="241.00" font-size="7.0" text-anchor="start" font-weight="normal" fill="#111">KO</text>
<line x1="313.45" y1="374.03" x2="313.45" y2="372.93" stroke="#222" stroke-width="0.7"/>
<line x1="311.55" y1="372.93" x2="315.35" y2="372.93" stroke="#222" stroke-width="0.7"/>
<rect x="309.70" y="374.03" width="7.50" height="16.57" fill="#000" stroke="none" stroke-width="1"/>
<line x1="325.10" y1="375.77" x2="325.10" y2="374.82" stroke="#222" stroke-width="0.7"/>
<line x1="323.20" y1="374.82" x2="327.00" y2="374.82" stroke="#222" stroke-width="0.7"/>
<rect x="321.75" y="376.12" width="6.70" height="14.48" fill="#e0312b" stroke="#111" stroke-width="0.7"/>
<line x1="343.70" y1="354.15" x2="343.70" y2="348.40" stroke="#222" stroke-width="0.7"/>
<line x1="341.80" y1="348.40" x2="345.60" y2="348.40" stroke="#222" stroke-width="0.7"/>
<rect x="340.00" y="354.15" width="7.40" height="36.45" fill="#000" stroke="none" stroke-width="1"/>
<line x1="355.45" y1="335.37" x2="355.45" y2="330.30" stroke="#222" stroke-width="0.7"/>
<line x1="353.55" y1="330.30" x2="357.35" y2="330.30" stroke="#222" stroke-width="0.7"/>
<rect x="352.25" y="335.72" width="6.40" height="54.88" fill="#e0312b" stroke="#111" stroke-width="0.7"/>
<rect x="370.50" y="375.14" width="7.50" height="15.46" fill="#000" stroke="none" stroke-width="1"/>
<line x1="385.70" y1="375.14" x2="385.70" y2="374.35" stroke="#222" stroke-width="0.7"/>
<line x1="383.80" y1="374.35" x2="387.60" y2="374.35" stroke="#222" stroke-width="0.7"/>
<rect x="382.55" y="375.49" width="6.30" height="15.11" fill="#e0312b" stroke="#111" stroke-width="0.7"/>
<rect x="401.00" y="375.14" width="7.50" height="15.46" fill="#000" stroke="none" stroke-width="1"/>
<line x1="416.20" y1="375.14" x2="416.20" y2="374.35" stroke="#222" stroke-width="0.7"/>
<line x1="414.30" y1="374.35" x2="418.10" y2="374.35" stroke="#222" stroke-width="0.7"/>
<rect x="412.85" y="375.49" width="6.70" height="15.11" fill="#e0312b" stroke="#111" stroke-width="0.7"/>
<line x1="306.00" y1="311.25" x2="306.00" y2="391.05" stroke="#111" stroke-width="0.9"/>
<line x1="305.55" y1="390.60" x2="424.40" y2="390.60" stroke="#111" stroke-width="0.9"/>
<line x1="302.40" y1="311.70" x2="306.00" y2="311.70" stroke="#111" stroke-width="0.9"/>
<text x="301.40" y="313.64" font-size="5.4" text-anchor="end" font-weight="bold" fill="#111" letter-spacing="0.2">5</text>
<line x1="302.40" y1="327.50" x2="306.00" y2="327.50" stroke="#111" stroke-width="0.9"/>
<text x="301.40" y="329.44" font-size="5.4" text-anchor="end" font-weight="bold" fill="#111" letter-spacing="0.2">4</text>
<line x1="302.40" y1="343.30" x2="306.00" y2="343.30" stroke="#111" stroke-width="0.9"/>
<text x="301.40" y="345.24" font-size="5.4" text-anchor="end" font-weight="bold" fill="#111" letter-spacing="0.2">3</text>
<line x1="302.40" y1="359.00" x2="306.00" y2="359.00" stroke="#111" stroke-width="0.9"/>
<text x="301.40" y="360.94" font-size="5.4" text-anchor="end" font-weight="bold" fill="#111" letter-spacing="0.2">2</text>
<line x1="302.40" y1="374.80" x2="306.00" y2="374.80" stroke="#111" stroke-width="0.9"/>
<text x="301.40" y="376.74" font-size="5.4" text-anchor="end" font-weight="bold" fill="#111" letter-spacing="0.2">1</text>
<line x1="302.40" y1="390.60" x2="306.00" y2="390.60" stroke="#111" stroke-width="0.9"/>
<text x="301.40" y="392.54" font-size="5.4" text-anchor="end" font-weight="bold" fill="#111" letter-spacing="0.2">0</text>
<line x1="319.30" y1="390.60" x2="319.30" y2="393.80" stroke="#111" stroke-width="0.9"/>
<line x1="349.40" y1="390.60" x2="349.40" y2="393.80" stroke="#111" stroke-width="0.9"/>
<line x1="379.60" y1="390.60" x2="379.60" y2="393.80" stroke="#111" stroke-width="0.9"/>
<line x1="410.20" y1="390.60" x2="410.20" y2="393.80" stroke="#111" stroke-width="0.9"/>
<text x="355.60" y="331.45" font-size="10" text-anchor="middle" font-weight="normal" fill="#111">*</text>
<text x="289.27" y="351.00" font-size="8.8" text-anchor="middle" font-weight="normal" fill="#111" transform="rotate(-90 289.27 351.00)">ARS staining intensity</text>
<text x="322.40" y="399.00" font-size="8.8" text-anchor="end" font-weight="normal" fill="#111" transform="rotate(-45 322.40 399.00)">DMSO</text>
<text x="352.80" y="399.00" font-size="8.8" text-anchor="end" font-weight="normal" fill="#111" transform="rotate(-45 352.80 399.00)">DMSO</text>
<text x="383.00" y="399.00" font-size="8.8" text-anchor="end" font-weight="normal" fill="#111" transform="rotate(-45 383.00 399.00)">LY294002</text>
<text x="413.60" y="399.00" font-size="8.8" text-anchor="end" font-weight="normal" fill="#111" transform="rotate(-45 413.60 399.00)">Rapamycin</text>
<line x1="301.00" y1="429.80" x2="329.10" y2="429.80" stroke="#111" stroke-width="0.9"/>
<line x1="334.50" y1="429.80" x2="422.60" y2="429.80" stroke="#111" stroke-width="0.9"/>
<text x="314.70" y="438.60" font-size="8.8" text-anchor="middle" font-weight="normal" fill="#111">GM</text>
<text x="376.20" y="438.60" font-size="8.8" text-anchor="middle" font-weight="normal" fill="#111">OM</text>
<rect x="524.40" y="281.85" width="6.50" height="11.25" fill="#000" stroke="none" stroke-width="1"/>
<line x1="538.25" y1="266.88" x2="538.25" y2="263.20" stroke="#222" stroke-width="0.7"/>
<line x1="536.35" y1="263.20" x2="540.15" y2="263.20" stroke="#222" stroke-width="0.7"/>
<rect x="535.45" y="267.23" width="5.60" height="25.87" fill="#e0312b" stroke="#111" stroke-width="0.7"/>
<line x1="554.50" y1="262.24" x2="554.50" y2="258.10" stroke="#222" stroke-width="0.7"/>
<line x1="552.60" y1="258.10" x2="556.40" y2="258.10" stroke="#222" stroke-width="0.7"/>
<rect x="551.20" y="262.24" width="6.60" height="30.86" fill="#000" stroke="none" stroke-width="1"/>
<line x1="564.95" y1="233.48" x2="564.95" y2="231.20" stroke="#222" stroke-width="0.7"/>
<line x1="563.05" y1="231.20" x2="566.85" y2="231.20" stroke="#222" stroke-width="0.7"/>
<rect x="562.15" y="233.83" width="5.60" height="59.27" fill="#e0312b" stroke="#111" stroke-width="0.7"/>
<line x1="581.35" y1="275.12" x2="581.35" y2="270.90" stroke="#222" stroke-width="0.7"/>
<line x1="579.45" y1="270.90" x2="583.25" y2="270.90" stroke="#222" stroke-width="0.7"/>
<rect x="578.10" y="275.12" width="6.50" height="17.98" fill="#000" stroke="none" stroke-width="1"/>
<line x1="591.75" y1="282.08" x2="591.75" y2="280.92" stroke="#222" stroke-width="0.7"/>
<line x1="589.85" y1="280.92" x2="593.65" y2="280.92" stroke="#222" stroke-width="0.7"/>
<rect x="588.95" y="282.43" width="5.60" height="10.67" fill="#e0312b" stroke="#111" stroke-width="0.7"/>
<line x1="608.10" y1="280.34" x2="608.10" y2="276.80" stroke="#222" stroke-width="0.7"/>
<line x1="606.20" y1="276.80" x2="610.00" y2="276.80" stroke="#222" stroke-width="0.7"/>
<rect x="604.70" y="280.34" width="6.80" height="12.76" fill="#000" stroke="none" stroke-width="1"/>
<line x1="618.65" y1="279.06" x2="618.65" y2="276.10" stroke="#222" stroke-width="0.7"/>
<line x1="616.75" y1="276.10" x2="620.55" y2="276.10" stroke="#222" stroke-width="0.7"/>
<rect x="615.85" y="279.41" width="5.60" height="13.69" fill="#e0312b" stroke="#111" stroke-width="0.7"/>
<line x1="521.60" y1="223.05" x2="521.60" y2="293.55" stroke="#111" stroke-width="0.9"/>
<line x1="521.15" y1="293.10" x2="625.50" y2="293.10" stroke="#111" stroke-width="0.9"/>
<line x1="518.00" y1="223.50" x2="521.60" y2="223.50" stroke="#111" stroke-width="0.9"/>
<text x="517.00" y="225.44" font-size="5.4" text-anchor="end" font-weight="bold" fill="#111" letter-spacing="0.2">6</text>
<line x1="518.00" y1="246.70" x2="521.60" y2="246.70" stroke="#111" stroke-width="0.9"/>
<text x="517.00" y="248.64" font-size="5.4" text-anchor="end" font-weight="bold" fill="#111" letter-spacing="0.2">4</text>
<line x1="518.00" y1="269.90" x2="521.60" y2="269.90" stroke="#111" stroke-width="0.9"/>
<text x="517.00" y="271.84" font-size="5.4" text-anchor="end" font-weight="bold" fill="#111" letter-spacing="0.2">2</text>
<line x1="518.00" y1="293.10" x2="521.60" y2="293.10" stroke="#111" stroke-width="0.9"/>
<text x="517.00" y="295.04" font-size="5.4" text-anchor="end" font-weight="bold" fill="#111" letter-spacing="0.2">0</text>
<line x1="533.00" y1="293.10" x2="533.00" y2="296.30" stroke="#111" stroke-width="0.9"/>
<line x1="559.40" y1="293.10" x2="559.40" y2="296.30" stroke="#111" stroke-width="0.9"/>
<line x1="586.30" y1="293.10" x2="586.30" y2="296.30" stroke="#111" stroke-width="0.9"/>
<line x1="613.10" y1="293.10" x2="613.10" y2="296.30" stroke="#111" stroke-width="0.9"/>
<text x="537.90" y="266.12" font-size="10.5" text-anchor="middle" font-weight="normal" fill="#111">*</text>
<text x="564.77" y="234.12" font-size="10.5" text-anchor="middle" font-weight="normal" fill="#111" letter-spacing="0.35">***</text>
<text x="591.70" y="283.62" font-size="10.5" text-anchor="middle" font-weight="normal" fill="#111">*</text>
<text x="573.40" y="213.70" font-size="8.6" text-anchor="middle" font-weight="normal" fill="#111">Col1a1</text>
<text x="497.60" y="257.50" font-size="8.6" text-anchor="middle" font-weight="normal" fill="#111" transform="rotate(-90 497.60 257.50)">Relative mRNA level</text>
<text x="508.10" y="257.50" font-size="8.6" text-anchor="middle" font-weight="normal" fill="#111" transform="rotate(-90 508.10 257.50)">(Fold changes)</text>
<rect x="642.70" y="226.20" width="8.20" height="3.80" fill="#000" stroke="none" stroke-width="1"/>
<text x="655.30" y="230.40" font-size="7.0" text-anchor="start" font-weight="normal" fill="#111">WT</text>
<rect x="643.05" y="236.85" width="7.50" height="3.30" fill="#e0312b" stroke="#111" stroke-width="0.7"/>
<text x="655.30" y="240.70" font-size="7.0" text-anchor="start" font-weight="normal" fill="#111">KO</text>
<rect x="523.40" y="380.57" width="6.60" height="11.43" fill="#000" stroke="none" stroke-width="1"/>
<line x1="537.25" y1="376.64" x2="537.25" y2="375.60" stroke="#222" stroke-width="0.7"/>
<line x1="535.35" y1="375.60" x2="539.15" y2="375.60" stroke="#222" stroke-width="0.7"/>
<rect x="534.55" y="376.99" width="5.40" height="15.01" fill="#e0312b" stroke="#111" stroke-width="0.7"/>
<line x1="553.35" y1="349.50" x2="553.35" y2="346.00" stroke="#222" stroke-width="0.7"/>
<line x1="551.45" y1="346.00" x2="555.25" y2="346.00" stroke="#222" stroke-width="0.7"/>
<rect x="550.10" y="349.50" width="6.50" height="42.50" fill="#000" stroke="none" stroke-width="1"/>
<line x1="563.85" y1="333.21" x2="563.85" y2="330.40" stroke="#222" stroke-width="0.7"/>
<line x1="561.95" y1="330.40" x2="565.75" y2="330.40" stroke="#222" stroke-width="0.7"/>
<rect x="561.15" y="333.56" width="5.40" height="58.44" fill="#e0312b" stroke="#111" stroke-width="0.7"/>
<line x1="580.45" y1="373.06" x2="580.45" y2="368.20" stroke="#222" stroke-width="0.7"/>
<line x1="578.55" y1="368.20" x2="582.35" y2="368.20" stroke="#222" stroke-width="0.7"/>
<rect x="577.20" y="373.06" width="6.50" height="18.94" fill="#000" stroke="none" stroke-width="1"/>
<line x1="590.95" y1="371.21" x2="590.95" y2="368.20" stroke="#222" stroke-width="0.7"/>
<line x1="589.05" y1="368.20" x2="592.85" y2="368.20" stroke="#222" stroke-width="0.7"/>
<rect x="588.25" y="371.56" width="5.40" height="20.44" fill="#e0312b" stroke="#111" stroke-width="0.7"/>
<line x1="607.40" y1="367.75" x2="607.40" y2="363.80" stroke="#222" stroke-width="0.7"/>
<line x1="605.50" y1="363.80" x2="609.30" y2="363.80" stroke="#222" stroke-width="0.7"/>
<rect x="604.00" y="367.75" width="6.80" height="24.25" fill="#000" stroke="none" stroke-width="1"/>
<line x1="617.85" y1="369.36" x2="617.85" y2="366.60" stroke="#222" stroke-width="0.7"/>
<line x1="615.95" y1="366.60" x2="619.75" y2="366.60" stroke="#222" stroke-width="0.7"/>
<rect x="615.15" y="369.71" width="5.40" height="22.29" fill="#e0312b" stroke="#111" stroke-width="0.7"/>
<line x1="520.90" y1="322.25" x2="520.90" y2="392.45" stroke="#111" stroke-width="0.9"/>
<line x1="520.45" y1="392.00" x2="624.40" y2="392.00" stroke="#111" stroke-width="0.9"/>
<line x1="517.30" y1="322.70" x2="520.90" y2="322.70" stroke="#111" stroke-width="0.9"/>
<text x="516.30" y="324.64" font-size="5.4" text-anchor="end" font-weight="bold" fill="#111" letter-spacing="0.2">6</text>
<line x1="517.30" y1="345.80" x2="520.90" y2="345.80" stroke="#111" stroke-width="0.9"/>
<text x="516.30" y="347.74" font-size="5.4" text-anchor="end" font-weight="bold" fill="#111" letter-spacing="0.2">4</text>
<line x1="517.30" y1="368.90" x2="520.90" y2="368.90" stroke="#111" stroke-width="0.9"/>
<text x="516.30" y="370.84" font-size="5.4" text-anchor="end" font-weight="bold" fill="#111" letter-spacing="0.2">2</text>
<line x1="517.30" y1="392.00" x2="520.90" y2="392.00" stroke="#111" stroke-width="0.9"/>
<text x="516.30" y="393.94" font-size="5.4" text-anchor="end" font-weight="bold" fill="#111" letter-spacing="0.2">0</text>
<line x1="532.30" y1="392.00" x2="532.30" y2="395.20" stroke="#111" stroke-width="0.9"/>
<line x1="558.60" y1="392.00" x2="558.60" y2="395.20" stroke="#111" stroke-width="0.9"/>
<line x1="585.70" y1="392.00" x2="585.70" y2="395.20" stroke="#111" stroke-width="0.9"/>
<line x1="612.50" y1="392.00" x2="612.50" y2="395.20" stroke="#111" stroke-width="0.9"/>
<text x="536.80" y="378.12" font-size="10.5" text-anchor="middle" font-weight="normal" fill="#111">*</text>
<text x="564.27" y="331.92" font-size="10.5" text-anchor="middle" font-weight="normal" fill="#111" letter-spacing="0.35">***</text>
<text x="571.80" y="312.40" font-size="8.6" text-anchor="middle" font-weight="normal" fill="#111">Runx2</text>
<text x="498.30" y="357.20" font-size="8.6" text-anchor="middle" font-weight="normal" fill="#111" transform="rotate(-90 498.30 357.20)">Relative mRNA level</text>
<text x="508.80" y="357.20" font-size="8.6" text-anchor="middle" font-weight="normal" fill="#111" transform="rotate(-90 508.80 357.20)">(Fold changes)</text>
<text x="534.50" y="399.20" font-size="8.2" text-anchor="end" font-weight="normal" fill="#111" transform="rotate(-45 534.50 399.20)">DMSO</text>
<text x="560.80" y="399.20" font-size="8.2" text-anchor="end" font-weight="normal" fill="#111" transform="rotate(-45 560.80 399.20)">DMSO</text>
<text x="588.00" y="399.20" font-size="8.2" text-anchor="end" font-weight="normal" fill="#111" transform="rotate(-45 588.00 399.20)">LY294002</text>
<text x="614.60" y="399.20" font-size="8.2" text-anchor="end" font-weight="normal" fill="#111" transform="rotate(-45 614.60 399.20)">Rapamycin</text>
<line x1="513.20" y1="428.50" x2="538.40" y2="428.50" stroke="#111" stroke-width="0.9"/>
<line x1="543.10" y1="428.50" x2="624.10" y2="428.50" stroke="#111" stroke-width="0.9"/>
<text x="525.60" y="436.70" font-size="8.6" text-anchor="middle" font-weight="normal" fill="#111">GM</text>
<text x="582.30" y="436.70" font-size="8.6" text-anchor="middle" font-weight="normal" fill="#111">OM</text>
<path d="M519.80 566.20 V534.80 H530.80 V566.20" fill="#fff" stroke="#000" stroke-width="1.6"/>
<path d="M539.40 566.20 V527.30 H550.60 V566.20" fill="#fff" stroke="#e23a37" stroke-width="1.6"/>
<path d="M559.50 566.20 V519.40 H570.70 V566.20" fill="#fff" stroke="#3c52b4" stroke-width="1.6"/>
<line x1="512.00" y1="490.90" x2="575.70" y2="490.90" stroke="#666" stroke-width="0.9" stroke-dasharray="2.6 1.5"/>
<circle cx="520.80" cy="531.00" r="1.85" fill="#000"/>
<circle cx="524.00" cy="532.60" r="1.85" fill="#000"/>
<circle cx="527.00" cy="533.60" r="1.85" fill="#000"/>
<circle cx="530.00" cy="534.60" r="1.85" fill="#000"/>
<line x1="545.00" y1="522.60" x2="545.00" y2="530.40" stroke="#e23a37" stroke-width="0.7" stroke-opacity="0.75"/>
<line x1="542.40" y1="522.60" x2="547.60" y2="522.60" stroke="#e23a37" stroke-width="0.7" stroke-opacity="0.75"/>
<line x1="542.40" y1="530.40" x2="547.60" y2="530.40" stroke="#e23a37" stroke-width="0.7" stroke-opacity="0.75"/>
<circle cx="547.60" cy="521.20" r="1.85" fill="#e23a37"/>
<circle cx="540.60" cy="523.40" r="1.85" fill="#e23a37"/>
<circle cx="544.20" cy="524.60" r="1.85" fill="#e23a37"/>
<circle cx="549.80" cy="525.60" r="1.85" fill="#e23a37"/>
<circle cx="541.60" cy="527.20" r="1.85" fill="#e23a37"/>
<circle cx="546.00" cy="528.20" r="1.85" fill="#e23a37"/>
<circle cx="543.00" cy="530.20" r="1.85" fill="#e23a37"/>
<circle cx="547.00" cy="531.60" r="1.85" fill="#e23a37"/>
<line x1="565.10" y1="514.40" x2="565.10" y2="522.80" stroke="#3c52b4" stroke-width="0.7" stroke-opacity="0.75"/>
<line x1="562.50" y1="514.40" x2="567.70" y2="514.40" stroke="#3c52b4" stroke-width="0.7" stroke-opacity="0.75"/>
<line x1="562.50" y1="522.80" x2="567.70" y2="522.80" stroke="#3c52b4" stroke-width="0.7" stroke-opacity="0.75"/>
<circle cx="564.80" cy="511.40" r="1.85" fill="#3c52b4"/>
<circle cx="567.60" cy="512.40" r="1.85" fill="#3c52b4"/>
<circle cx="563.00" cy="514.60" r="1.85" fill="#3c52b4"/>
<circle cx="560.60" cy="517.20" r="1.85" fill="#3c52b4"/>
<circle cx="569.60" cy="518.00" r="1.85" fill="#3c52b4"/>
<circle cx="562.60" cy="519.40" r="1.85" fill="#3c52b4"/>
<circle cx="566.60" cy="520.60" r="1.85" fill="#3c52b4"/>
<circle cx="569.80" cy="522.00" r="1.85" fill="#3c52b4"/>
<line x1="512.00" y1="472.00" x2="512.00" y2="566.70" stroke="#111" stroke-width="1.0"/>
<line x1="511.50" y1="566.20" x2="575.70" y2="566.20" stroke="#111" stroke-width="1.0"/>
<line x1="507.80" y1="472.50" x2="512.00" y2="472.50" stroke="#111" stroke-width="1.0"/>
<text x="506.80" y="474.88" font-size="6.6" text-anchor="end" font-weight="bold" fill="#222">0.6</text>
<line x1="507.80" y1="503.70" x2="512.00" y2="503.70" stroke="#111" stroke-width="1.0"/>
<text x="506.80" y="506.08" font-size="6.6" text-anchor="end" font-weight="bold" fill="#222">0.4</text>
<line x1="507.80" y1="535.00" x2="512.00" y2="535.00" stroke="#111" stroke-width="1.0"/>
<text x="506.80" y="537.38" font-size="6.6" text-anchor="end" font-weight="bold" fill="#222">0.2</text>
<line x1="507.80" y1="566.20" x2="512.00" y2="566.20" stroke="#111" stroke-width="1.0"/>
<text x="506.80" y="568.58" font-size="6.6" text-anchor="end" font-weight="bold" fill="#222">0.0</text>
<line x1="525.40" y1="486.70" x2="563.10" y2="486.70" stroke="#333" stroke-width="0.9"/>
<text x="542.20" y="488.81" font-size="12.5" text-anchor="middle" font-weight="bold" fill="#111" letter-spacing="0.2">**</text>
<line x1="544.70" y1="502.50" x2="563.50" y2="502.50" stroke="#333" stroke-width="0.9"/>
<text x="554.70" y="505.41" font-size="12.5" text-anchor="middle" font-weight="bold" fill="#111">*</text>
<line x1="523.30" y1="514.20" x2="543.80" y2="514.20" stroke="#333" stroke-width="0.9"/>
<text x="533.80" y="516.31" font-size="12.5" text-anchor="middle" font-weight="bold" fill="#111" letter-spacing="0.2">**</text>
<text x="493.44" y="519.00" font-size="11.5" text-anchor="middle" font-weight="bold" fill="#111" transform="rotate(-90 493.44 519.00)">BMD (g/cm^3)</text>
<path d="M619.20 567.90 V545.70 H630.10 V567.90" fill="#fff" stroke="#000" stroke-width="1.6"/>
<path d="M638.90 567.90 V538.10 H650.00 V567.90" fill="#fff" stroke="#e23a37" stroke-width="1.6"/>
<path d="M659.30 567.90 V522.10 H670.60 V567.90" fill="#fff" stroke="#3c52b4" stroke-width="1.6"/>
<line x1="611.60" y1="484.30" x2="677.80" y2="484.30" stroke="#111" stroke-width="0.9" stroke-dasharray="2.6 1.5"/>
<line x1="624.65" y1="539.40" x2="624.65" y2="550.20" stroke="#999" stroke-width="0.7" stroke-opacity="0.75"/>
<line x1="622.05" y1="539.40" x2="627.25" y2="539.40" stroke="#999" stroke-width="0.7" stroke-opacity="0.75"/>
<line x1="622.05" y1="550.20" x2="627.25" y2="550.20" stroke="#999" stroke-width="0.7" stroke-opacity="0.75"/>
<circle cx="621.30" cy="538.10" r="1.85" fill="#000"/>
<circle cx="628.00" cy="542.20" r="1.85" fill="#000"/>
<circle cx="622.00" cy="547.00" r="1.85" fill="#000"/>
<circle cx="628.00" cy="549.10" r="1.85" fill="#000"/>
<line x1="644.45" y1="522.90" x2="644.45" y2="551.80" stroke="#e23a37" stroke-width="0.7" stroke-opacity="0.75"/>
<line x1="641.85" y1="522.90" x2="647.05" y2="522.90" stroke="#e23a37" stroke-width="0.7" stroke-opacity="0.75"/>
<line x1="641.85" y1="551.80" x2="647.05" y2="551.80" stroke="#e23a37" stroke-width="0.7" stroke-opacity="0.75"/>
<circle cx="644.90" cy="514.50" r="1.85" fill="#e23a37"/>
<circle cx="647.00" cy="525.30" r="1.85" fill="#e23a37"/>
<circle cx="642.40" cy="531.70" r="1.85" fill="#e23a37"/>
<circle cx="640.00" cy="537.30" r="1.85" fill="#e23a37"/>
<circle cx="645.70" cy="538.10" r="1.85" fill="#e23a37"/>
<circle cx="649.70" cy="539.00" r="1.85" fill="#e23a37"/>
<circle cx="642.40" cy="553.90" r="1.85" fill="#e23a37"/>
<circle cx="647.00" cy="559.30" r="1.85" fill="#e23a37"/>
<line x1="664.95" y1="505.70" x2="664.95" y2="536.20" stroke="#3c52b4" stroke-width="0.7" stroke-opacity="0.75"/>
<line x1="662.35" y1="505.70" x2="667.55" y2="505.70" stroke="#3c52b4" stroke-width="0.7" stroke-opacity="0.75"/>
<line x1="662.35" y1="536.20" x2="667.55" y2="536.20" stroke="#3c52b4" stroke-width="0.7" stroke-opacity="0.75"/>
<circle cx="664.90" cy="497.70" r="1.85" fill="#3c52b4"/>
<circle cx="664.90" cy="506.50" r="1.85" fill="#3c52b4"/>
<circle cx="668.50" cy="511.60" r="1.85" fill="#3c52b4"/>
<circle cx="661.40" cy="515.30" r="1.85" fill="#3c52b4"/>
<circle cx="661.40" cy="528.20" r="1.85" fill="#3c52b4"/>
<circle cx="668.50" cy="531.40" r="1.85" fill="#3c52b4"/>
<circle cx="661.70" cy="535.30" r="1.85" fill="#3c52b4"/>
<circle cx="668.50" cy="540.10" r="1.85" fill="#3c52b4"/>
<line x1="611.60" y1="473.10" x2="611.60" y2="568.40" stroke="#111" stroke-width="1.0"/>
<line x1="611.10" y1="567.90" x2="677.80" y2="567.90" stroke="#111" stroke-width="1.0"/>
<line x1="607.40" y1="473.60" x2="611.60" y2="473.60" stroke="#111" stroke-width="1.0"/>
<text x="606.40" y="475.98" font-size="6.6" text-anchor="end" font-weight="bold" fill="#222">1.0</text>
<line x1="607.40" y1="492.50" x2="611.60" y2="492.50" stroke="#111" stroke-width="1.0"/>
<text x="606.40" y="494.88" font-size="6.6" text-anchor="end" font-weight="bold" fill="#222">0.8</text>
<line x1="607.40" y1="511.30" x2="611.60" y2="511.30" stroke="#111" stroke-width="1.0"/>
<text x="606.40" y="513.68" font-size="6.6" text-anchor="end" font-weight="bold" fill="#222">0.6</text>
<line x1="607.40" y1="530.20" x2="611.60" y2="530.20" stroke="#111" stroke-width="1.0"/>
<text x="606.40" y="532.58" font-size="6.6" text-anchor="end" font-weight="bold" fill="#222">0.4</text>
<line x1="607.40" y1="549.00" x2="611.60" y2="549.00" stroke="#111" stroke-width="1.0"/>
<text x="606.40" y="551.38" font-size="6.6" text-anchor="end" font-weight="bold" fill="#222">0.2</text>
<line x1="607.40" y1="567.90" x2="611.60" y2="567.90" stroke="#111" stroke-width="1.0"/>
<text x="606.40" y="570.28" font-size="6.6" text-anchor="end" font-weight="bold" fill="#222">0.0</text>
<line x1="625.60" y1="471.80" x2="663.80" y2="471.80" stroke="#333" stroke-width="0.9"/>
<text x="644.40" y="474.91" font-size="12.5" text-anchor="middle" font-weight="bold" fill="#111">*</text>
<line x1="644.90" y1="480.30" x2="663.80" y2="480.30" stroke="#333" stroke-width="0.9"/>
<text x="654.00" y="482.71" font-size="12.5" text-anchor="middle" font-weight="bold" fill="#111">*</text>
<text x="593.24" y="520.50" font-size="11.5" text-anchor="middle" font-weight="bold" fill="#111" transform="rotate(-90 593.24 520.50)">Tb.N (1/mm)</text>
<path d="M521.50 688.60 V622.80 H532.50 V688.60" fill="#fff" stroke="#000" stroke-width="1.6"/>
<path d="M541.10 688.60 V631.60 H552.10 V688.60" fill="#fff" stroke="#e23a37" stroke-width="1.6"/>
<path d="M561.30 688.60 V642.10 H572.30 V688.60" fill="#fff" stroke="#3c52b4" stroke-width="1.6"/>
<line x1="513.20" y1="668.50" x2="579.80" y2="668.50" stroke="#111" stroke-width="0.9" stroke-dasharray="2.6 1.5"/>
<line x1="527.00" y1="617.70" x2="527.00" y2="632.90" stroke="#999" stroke-width="0.7" stroke-opacity="0.75"/>
<line x1="524.40" y1="617.70" x2="529.60" y2="617.70" stroke="#999" stroke-width="0.7" stroke-opacity="0.75"/>
<line x1="524.40" y1="632.90" x2="529.60" y2="632.90" stroke="#999" stroke-width="0.7" stroke-opacity="0.75"/>
<circle cx="526.70" cy="612.40" r="1.85" fill="#000"/>
<circle cx="523.70" cy="616.80" r="1.85" fill="#000"/>
<circle cx="530.20" cy="620.60" r="1.85" fill="#000"/>
<circle cx="526.70" cy="637.80" r="1.85" fill="#000"/>
<line x1="546.60" y1="618.50" x2="546.60" y2="642.70" stroke="#e23a37" stroke-width="0.7" stroke-opacity="0.75"/>
<line x1="544.00" y1="618.50" x2="549.20" y2="618.50" stroke="#e23a37" stroke-width="0.7" stroke-opacity="0.75"/>
<line x1="544.00" y1="642.70" x2="549.20" y2="642.70" stroke="#e23a37" stroke-width="0.7" stroke-opacity="0.75"/>
<circle cx="546.80" cy="614.20" r="1.85" fill="#e23a37"/>
<circle cx="550.50" cy="618.50" r="1.85" fill="#e23a37"/>
<circle cx="543.00" cy="625.90" r="1.85" fill="#e23a37"/>
<circle cx="550.80" cy="631.70" r="1.85" fill="#e23a37"/>
<circle cx="546.80" cy="638.70" r="1.85" fill="#e23a37"/>
<circle cx="543.30" cy="643.90" r="1.85" fill="#e23a37"/>
<circle cx="550.00" cy="648.30" r="1.85" fill="#e23a37"/>
<line x1="566.80" y1="634.30" x2="566.80" y2="648.30" stroke="#3c52b4" stroke-width="0.7" stroke-opacity="0.75"/>
<line x1="564.20" y1="634.30" x2="569.40" y2="634.30" stroke="#3c52b4" stroke-width="0.7" stroke-opacity="0.75"/>
<line x1="564.20" y1="648.30" x2="569.40" y2="648.30" stroke="#3c52b4" stroke-width="0.7" stroke-opacity="0.75"/>
<circle cx="566.60" cy="631.20" r="1.85" fill="#3c52b4"/>
<circle cx="571.00" cy="635.70" r="1.85" fill="#3c52b4"/>
<circle cx="562.20" cy="637.80" r="1.85" fill="#3c52b4"/>
<circle cx="566.60" cy="640.40" r="1.85" fill="#3c52b4"/>
<circle cx="564.90" cy="643.10" r="1.85" fill="#3c52b4"/>
<circle cx="569.20" cy="644.80" r="1.85" fill="#3c52b4"/>
<circle cx="565.20" cy="650.10" r="1.85" fill="#3c52b4"/>
<circle cx="568.00" cy="651.80" r="1.85" fill="#3c52b4"/>
<line x1="513.20" y1="593.90" x2="513.20" y2="689.10" stroke="#111" stroke-width="1.0"/>
<line x1="512.70" y1="688.60" x2="579.80" y2="688.60" stroke="#111" stroke-width="1.0"/>
<line x1="509.00" y1="594.40" x2="513.20" y2="594.40" stroke="#111" stroke-width="1.0"/>
<text x="508.00" y="596.78" font-size="6.6" text-anchor="end" font-weight="bold" fill="#222">1.5</text>
<line x1="509.00" y1="625.80" x2="513.20" y2="625.80" stroke="#111" stroke-width="1.0"/>
<text x="508.00" y="628.18" font-size="6.6" text-anchor="end" font-weight="bold" fill="#222">1.0</text>
<line x1="509.00" y1="657.20" x2="513.20" y2="657.20" stroke="#111" stroke-width="1.0"/>
<text x="508.00" y="659.58" font-size="6.6" text-anchor="end" font-weight="bold" fill="#222">0.5</text>
<line x1="509.00" y1="688.60" x2="513.20" y2="688.60" stroke="#111" stroke-width="1.0"/>
<text x="508.00" y="690.98" font-size="6.6" text-anchor="end" font-weight="bold" fill="#222">0.0</text>
<line x1="527.70" y1="601.00" x2="566.30" y2="601.00" stroke="#333" stroke-width="0.9"/>
<text x="546.10" y="603.11" font-size="12.5" text-anchor="middle" font-weight="bold" fill="#111">*</text>
<line x1="547.30" y1="609.80" x2="566.30" y2="609.80" stroke="#333" stroke-width="0.9"/>
<text x="556.10" y="612.41" font-size="12.5" text-anchor="middle" font-weight="bold" fill="#111">*</text>
<text x="496.34" y="640.90" font-size="11.5" text-anchor="middle" font-weight="bold" fill="#111" transform="rotate(-90 496.34 640.90)">Tb.Sp (mm)</text>
<path d="M619.20 688.40 V670.20 H630.40 V688.40" fill="#fff" stroke="#000" stroke-width="1.6"/>
<path d="M639.20 688.40 V657.40 H650.50 V688.40" fill="#fff" stroke="#e23a37" stroke-width="1.6"/>
<path d="M659.60 688.40 V640.20 H670.60 V688.40" fill="#fff" stroke="#3c52b4" stroke-width="1.6"/>
<line x1="611.60" y1="622.60" x2="677.80" y2="622.60" stroke="#111" stroke-width="0.9" stroke-dasharray="2.6 1.5"/>
<line x1="624.80" y1="662.70" x2="624.80" y2="675.60" stroke="#999" stroke-width="0.7" stroke-opacity="0.75"/>
<line x1="622.20" y1="662.70" x2="627.40" y2="662.70" stroke="#999" stroke-width="0.7" stroke-opacity="0.75"/>
<line x1="622.20" y1="675.60" x2="627.40" y2="675.60" stroke="#999" stroke-width="0.7" stroke-opacity="0.75"/>
<circle cx="625.10" cy="659.80" r="1.85" fill="#000"/>
<circle cx="620.80" cy="671.50" r="1.85" fill="#000"/>
<circle cx="625.10" cy="672.30" r="1.85" fill="#000"/>
<circle cx="629.60" cy="672.30" r="1.85" fill="#000"/>
<line x1="644.85" y1="639.40" x2="644.85" y2="673.10" stroke="#e23a37" stroke-width="0.7" stroke-opacity="0.75"/>
<line x1="642.25" y1="639.40" x2="647.45" y2="639.40" stroke="#e23a37" stroke-width="0.7" stroke-opacity="0.75"/>
<line x1="642.25" y1="673.10" x2="647.45" y2="673.10" stroke="#e23a37" stroke-width="0.7" stroke-opacity="0.75"/>
<circle cx="642.00" cy="633.80" r="1.85" fill="#e23a37"/>
<circle cx="648.60" cy="635.70" r="1.85" fill="#e23a37"/>
<circle cx="645.20" cy="647.40" r="1.85" fill="#e23a37"/>
<circle cx="645.20" cy="655.50" r="1.85" fill="#e23a37"/>
<circle cx="641.60" cy="661.90" r="1.85" fill="#e23a37"/>
<circle cx="648.60" cy="662.20" r="1.85" fill="#e23a37"/>
<circle cx="642.00" cy="675.10" r="1.85" fill="#e23a37"/>
<circle cx="648.60" cy="680.40" r="1.85" fill="#e23a37"/>
<line x1="665.10" y1="621.40" x2="665.10" y2="656.30" stroke="#3c52b4" stroke-width="0.7" stroke-opacity="0.75"/>
<line x1="662.50" y1="621.40" x2="667.70" y2="621.40" stroke="#3c52b4" stroke-width="0.7" stroke-opacity="0.75"/>
<line x1="662.50" y1="656.30" x2="667.70" y2="656.30" stroke="#3c52b4" stroke-width="0.7" stroke-opacity="0.75"/>
<circle cx="665.30" cy="614.00" r="1.85" fill="#3c52b4"/>
<circle cx="668.90" cy="621.00" r="1.85" fill="#3c52b4"/>
<circle cx="661.70" cy="626.30" r="1.85" fill="#3c52b4"/>
<circle cx="665.30" cy="636.20" r="1.85" fill="#3c52b4"/>
<circle cx="665.30" cy="642.60" r="1.85" fill="#3c52b4"/>
<circle cx="661.70" cy="652.70" r="1.85" fill="#3c52b4"/>
<circle cx="668.90" cy="656.80" r="1.85" fill="#3c52b4"/>
<circle cx="665.30" cy="662.70" r="1.85" fill="#3c52b4"/>
<line x1="611.60" y1="594.00" x2="611.60" y2="688.90" stroke="#111" stroke-width="1.0"/>
<line x1="611.10" y1="688.40" x2="677.80" y2="688.40" stroke="#111" stroke-width="1.0"/>
<line x1="607.40" y1="594.50" x2="611.60" y2="594.50" stroke="#111" stroke-width="1.0"/>
<text x="606.40" y="596.88" font-size="6.6" text-anchor="end" font-weight="bold" fill="#222">8</text>
<line x1="607.40" y1="618.00" x2="611.60" y2="618.00" stroke="#111" stroke-width="1.0"/>
<text x="606.40" y="620.38" font-size="6.6" text-anchor="end" font-weight="bold" fill="#222">6</text>
<line x1="607.40" y1="641.50" x2="611.60" y2="641.50" stroke="#111" stroke-width="1.0"/>
<text x="606.40" y="643.88" font-size="6.6" text-anchor="end" font-weight="bold" fill="#222">4</text>
<line x1="607.40" y1="664.90" x2="611.60" y2="664.90" stroke="#111" stroke-width="1.0"/>
<text x="606.40" y="667.28" font-size="6.6" text-anchor="end" font-weight="bold" fill="#222">2</text>
<line x1="607.40" y1="688.40" x2="611.60" y2="688.40" stroke="#111" stroke-width="1.0"/>
<text x="606.40" y="690.78" font-size="6.6" text-anchor="end" font-weight="bold" fill="#222">0</text>
<line x1="625.30" y1="594.90" x2="663.80" y2="594.90" stroke="#333" stroke-width="0.9"/>
<text x="644.50" y="597.71" font-size="12.5" text-anchor="middle" font-weight="bold" fill="#111" letter-spacing="0.2">**</text>
<line x1="644.40" y1="604.10" x2="663.80" y2="604.10" stroke="#333" stroke-width="0.9"/>
<text x="654.10" y="606.51" font-size="12.5" text-anchor="middle" font-weight="bold" fill="#111" letter-spacing="0.2">**</text>
<line x1="625.30" y1="618.50" x2="646.00" y2="618.50" stroke="#333" stroke-width="0.9"/>
<text x="635.70" y="620.31" font-size="12.5" text-anchor="middle" font-weight="bold" fill="#111">*</text>
<text x="599.24" y="640.60" font-size="11.5" text-anchor="middle" font-weight="bold" fill="#111" transform="rotate(-90 599.24 640.60)">BV/TV</text>
<rect x="503.30" y="704.90" width="11.60" height="9.80" fill="#fff" stroke="#222" stroke-width="0.9"/>
<text x="519.40" y="713.70" font-size="10.6" text-anchor="start" font-weight="normal" fill="#111">PBS</text>
<rect x="546.80" y="704.40" width="11.60" height="9.60" fill="#fff" stroke="#e23a37" stroke-width="0.9"/>
<text x="562.40" y="713.70" font-size="10.8" text-anchor="start" font-weight="normal" fill="#111">WT-MSCs</text>
<rect x="618.40" y="704.40" width="12.00" height="9.60" fill="#fff" stroke="#6a7bc8" stroke-width="0.9"/>
<text x="635.10" y="713.70" font-size="10.8" text-anchor="start" font-weight="normal" fill="#111">KO-MSCs</text>
<path d="M100.25 879.00 V844.75 H119.35 V879.00" fill="#fff" stroke="#e23a37" stroke-width="1.9"/>
<path d="M133.15 879.00 V805.25 H152.25 V879.00" fill="#fff" stroke="#3c52b4" stroke-width="1.9"/>
<line x1="109.80" y1="834.80" x2="109.80" y2="851.90" stroke="#e23a37" stroke-width="0.7" stroke-opacity="0.75"/>
<line x1="107.20" y1="834.80" x2="112.40" y2="834.80" stroke="#e23a37" stroke-width="0.7" stroke-opacity="0.75"/>
<line x1="107.20" y1="851.90" x2="112.40" y2="851.90" stroke="#e23a37" stroke-width="0.7" stroke-opacity="0.75"/>
<circle cx="112.50" cy="833.50" r="1.80" fill="#e23a37"/>
<circle cx="107.20" cy="836.70" r="1.80" fill="#e23a37"/>
<circle cx="107.70" cy="840.60" r="1.80" fill="#e23a37"/>
<circle cx="113.00" cy="844.50" r="1.80" fill="#e23a37"/>
<circle cx="107.20" cy="851.10" r="1.80" fill="#e23a37"/>
<circle cx="112.50" cy="854.50" r="1.80" fill="#e23a37"/>
<line x1="142.70" y1="792.50" x2="142.70" y2="815.60" stroke="#3c52b4" stroke-width="0.7" stroke-opacity="0.75"/>
<line x1="140.10" y1="792.50" x2="145.30" y2="792.50" stroke="#3c52b4" stroke-width="0.7" stroke-opacity="0.75"/>
<line x1="140.10" y1="815.60" x2="145.30" y2="815.60" stroke="#3c52b4" stroke-width="0.7" stroke-opacity="0.75"/>
<circle cx="142.70" cy="787.30" r="1.80" fill="#3c52b4"/>
<circle cx="142.70" cy="797.30" r="1.80" fill="#3c52b4"/>
<circle cx="140.00" cy="802.50" r="1.80" fill="#3c52b4"/>
<circle cx="145.80" cy="803.80" r="1.80" fill="#3c52b4"/>
<circle cx="140.00" cy="813.80" r="1.80" fill="#3c52b4"/>
<circle cx="142.70" cy="819.60" r="1.80" fill="#3c52b4"/>
<line x1="87.50" y1="764.60" x2="87.50" y2="879.60" stroke="#111" stroke-width="1.2"/>
<line x1="86.90" y1="879.00" x2="164.70" y2="879.00" stroke="#111" stroke-width="1.2"/>
<line x1="82.50" y1="765.20" x2="87.50" y2="765.20" stroke="#111" stroke-width="1.2"/>
<text x="81.50" y="768.22" font-size="8.4" text-anchor="end" font-weight="bold" fill="#222">0.10</text>
<line x1="82.50" y1="788.00" x2="87.50" y2="788.00" stroke="#111" stroke-width="1.2"/>
<text x="81.50" y="791.02" font-size="8.4" text-anchor="end" font-weight="bold" fill="#222">0.08</text>
<line x1="82.50" y1="810.70" x2="87.50" y2="810.70" stroke="#111" stroke-width="1.2"/>
<text x="81.50" y="813.72" font-size="8.4" text-anchor="end" font-weight="bold" fill="#222">0.06</text>
<line x1="82.50" y1="833.50" x2="87.50" y2="833.50" stroke="#111" stroke-width="1.2"/>
<text x="81.50" y="836.52" font-size="8.4" text-anchor="end" font-weight="bold" fill="#222">0.04</text>
<line x1="82.50" y1="856.20" x2="87.50" y2="856.20" stroke="#111" stroke-width="1.2"/>
<text x="81.50" y="859.22" font-size="8.4" text-anchor="end" font-weight="bold" fill="#222">0.02</text>
<line x1="82.50" y1="879.00" x2="87.50" y2="879.00" stroke="#111" stroke-width="1.2"/>
<text x="81.50" y="882.02" font-size="8.4" text-anchor="end" font-weight="bold" fill="#222">0.00</text>
<text x="141.70" y="791.12" font-size="21.5" text-anchor="middle" font-weight="bold" fill="#111" letter-spacing="-0.4">***</text>
<text x="41.02" y="819.90" font-size="13.1" text-anchor="middle" font-weight="normal" fill="#111" transform="rotate(-90 41.02 819.90)">GFP+ Cells</text>
<text x="56.72" y="819.60" font-size="13.1" text-anchor="middle" font-weight="normal" fill="#111" transform="rotate(-90 56.72 819.60)">(% of CD45/CD31-LepR+)</text>
<text x="113.80" y="887.20" font-size="13.1" text-anchor="end" font-weight="normal" fill="#111" transform="rotate(-45 113.80 887.20)">WT-MSCs</text>
<text x="147.40" y="887.20" font-size="13.1" text-anchor="end" font-weight="normal" fill="#111" transform="rotate(-45 147.40 887.20)">KO-MSCs</text>
<path d="M582.85 879.50 V849.45 H597.55 V879.50" fill="#fff" stroke="#e23a37" stroke-width="1.9"/>
<path d="M608.35 879.50 V822.65 H622.45 V879.50" fill="#fff" stroke="#3c52b4" stroke-width="1.9"/>
<circle cx="584.50" cy="848.50" r="1.80" fill="#e23a37"/>
<circle cx="590.30" cy="848.50" r="1.80" fill="#e23a37"/>
<circle cx="595.80" cy="848.50" r="1.80" fill="#e23a37"/>
<line x1="615.40" y1="787.30" x2="615.40" y2="855.60" stroke="#3c52b4" stroke-width="0.7" stroke-opacity="0.75"/>
<line x1="612.80" y1="787.30" x2="618.00" y2="787.30" stroke="#3c52b4" stroke-width="0.7" stroke-opacity="0.75"/>
<line x1="612.80" y1="855.60" x2="618.00" y2="855.60" stroke="#3c52b4" stroke-width="0.7" stroke-opacity="0.75"/>
<circle cx="615.30" cy="782.80" r="1.80" fill="#3c52b4"/>
<circle cx="615.30" cy="836.10" r="1.80" fill="#3c52b4"/>
<circle cx="615.30" cy="845.30" r="1.80" fill="#3c52b4"/>
<line x1="572.70" y1="753.80" x2="572.70" y2="880.10" stroke="#111" stroke-width="1.2"/>
<line x1="572.10" y1="879.50" x2="630.00" y2="879.50" stroke="#111" stroke-width="1.2"/>
<line x1="567.70" y1="754.40" x2="572.70" y2="754.40" stroke="#111" stroke-width="1.2"/>
<text x="566.70" y="757.57" font-size="8.8" text-anchor="end" font-weight="bold" fill="#222">0.4</text>
<line x1="567.70" y1="785.70" x2="572.70" y2="785.70" stroke="#111" stroke-width="1.2"/>
<text x="566.70" y="788.87" font-size="8.8" text-anchor="end" font-weight="bold" fill="#222">0.3</text>
<line x1="567.70" y1="817.00" x2="572.70" y2="817.00" stroke="#111" stroke-width="1.2"/>
<text x="566.70" y="820.17" font-size="8.8" text-anchor="end" font-weight="bold" fill="#222">0.2</text>
<line x1="567.70" y1="848.20" x2="572.70" y2="848.20" stroke="#111" stroke-width="1.2"/>
<text x="566.70" y="851.37" font-size="8.8" text-anchor="end" font-weight="bold" fill="#222">0.1</text>
<line x1="567.70" y1="879.50" x2="572.70" y2="879.50" stroke="#111" stroke-width="1.2"/>
<text x="566.70" y="882.67" font-size="8.8" text-anchor="end" font-weight="bold" fill="#222">0.0</text>
<text x="614.80" y="783.59" font-size="22" text-anchor="middle" font-weight="bold" fill="#111">*</text>
<text x="524.12" y="814.60" font-size="14.5" text-anchor="middle" font-weight="normal" fill="#111" transform="rotate(-90 524.12 814.60)">CD45/CD31-LepR+ cells</text>
<text x="543.42" y="817.00" font-size="14.5" text-anchor="middle" font-weight="normal" fill="#111" transform="rotate(-90 543.42 817.00)">(% of GFP - cells)</text>
<text x="595.40" y="890.00" font-size="14.5" text-anchor="end" font-weight="normal" fill="#111" transform="rotate(-45 595.40 890.00)">WT-MSCs</text>
<text x="619.60" y="889.00" font-size="14.5" text-anchor="end" font-weight="normal" fill="#111" transform="rotate(-45 619.60 889.00)">KO-MSCs</text>
<text x="315.30" y="21.00" font-size="9.6" text-anchor="middle" font-weight="normal" fill="#111">GM</text>
<text x="426.50" y="21.00" font-size="9.6" text-anchor="middle" font-weight="normal" fill="#111">SSt</text>
<line x1="237.60" y1="23.80" x2="395.40" y2="23.80" stroke="#111" stroke-width="0.9"/>
<line x1="401.10" y1="23.80" x2="453.20" y2="23.80" stroke="#111" stroke-width="0.9"/>
<text x="263.20" y="37.80" font-size="9.6" text-anchor="middle" font-weight="normal" fill="#111" letter-spacing="0.15">DMSO</text>
<text x="314.60" y="37.80" font-size="9.6" text-anchor="middle" font-weight="normal" fill="#111" letter-spacing="0.15">LY294002</text>
<text x="371.90" y="37.80" font-size="9.6" text-anchor="middle" font-weight="normal" fill="#111" letter-spacing="0.15">Rapamycin</text>
<text x="427.70" y="37.80" font-size="9.6" text-anchor="middle" font-weight="normal" fill="#111" letter-spacing="0.15">DMSO</text>
<text x="231.62" y="66.40" font-size="10.6" text-anchor="middle" font-weight="normal" fill="#111" transform="rotate(-90 231.62 66.40)">WT</text>
<text x="231.62" y="123.60" font-size="10.6" text-anchor="middle" font-weight="normal" fill="#111" transform="rotate(-90 231.62 123.60)">KO</text>
<circle cx="260.90" cy="68.50" r="26.40" fill="url(#rg2)"/>
<g clip-path="url(#cp1)">
<ellipse cx="260.90" cy="95.90" rx="23.76" ry="6" fill="#8f8ab8" opacity="0.38" filter="url(#bl2)"/>
<ellipse cx="246.90" cy="80.50" rx="12" ry="12" fill="#b9b6d0" opacity="0.5" filter="url(#bl2)"/>
<ellipse cx="287.40" cy="68.50" rx="1.2" ry="7" fill="#ffffff" opacity="0.9" filter="url(#bl2)"/>
<g filter="url(#bl05)">
<circle cx="246.3" cy="58.1" r="1.3" fill="#a56cc6" opacity="0.85"/>
<circle cx="247.6" cy="62.8" r="1.0" fill="#a56cc6" opacity="0.85"/>
<circle cx="258.5" cy="54.8" r="0.8" fill="#a56cc6" opacity="0.85"/>
<circle cx="255.2" cy="64.9" r="1.0" fill="#a56cc6" opacity="0.85"/>
<circle cx="262.7" cy="66.9" r="1.8" fill="#a56cc6" opacity="0.85"/>
<circle cx="248.5" cy="73.3" r="2.5" fill="#a56cc6" opacity="0.85"/>
<circle cx="246.8" cy="78.8" r="1.5" fill="#a56cc6" opacity="0.85"/>
<circle cx="257.7" cy="82.0" r="1.5" fill="#a56cc6" opacity="0.85"/>
<circle cx="275.0" cy="66.9" r="1.8" fill="#a56cc6" opacity="0.85"/>
<circle cx="272.0" cy="72.4" r="2.5" fill="#a56cc6" opacity="0.85"/>
<circle cx="274.5" cy="78.3" r="2.0" fill="#a56cc6" opacity="0.85"/>
<circle cx="269.4" cy="78.0" r="1.2" fill="#a56cc6" opacity="0.85"/>
<circle cx="276.2" cy="80.8" r="1.3" fill="#a56cc6" opacity="0.85"/>
<circle cx="263.6" cy="84.2" r="1.0" fill="#a56cc6" opacity="0.85"/>
<circle cx="254.3" cy="81.3" r="1.0" fill="#a56cc6" opacity="0.85"/>
<circle cx="259.9" cy="43.9" r="0.8" fill="#a56cc6" opacity="0.85"/>
<circle cx="267.8" cy="60.7" r="0.8" fill="#a56cc6" opacity="0.85"/>
<circle cx="260.2" cy="61.5" r="0.8" fill="#a56cc6" opacity="0.85"/>
<circle cx="247.1" cy="55.0" r="0.63" fill="#b58ad0" opacity="0.7"/>
<circle cx="279.0" cy="61.7" r="0.67" fill="#b58ad0" opacity="0.7"/>
<circle cx="276.0" cy="71.3" r="0.68" fill="#b58ad0" opacity="0.7"/>
<circle cx="248.3" cy="51.3" r="0.39" fill="#b58ad0" opacity="0.7"/>
<circle cx="250.0" cy="70.7" r="0.54" fill="#b58ad0" opacity="0.7"/>
<circle cx="258.6" cy="67.3" r="0.43" fill="#b58ad0" opacity="0.7"/>
<circle cx="256.9" cy="89.6" r="0.62" fill="#b58ad0" opacity="0.7"/>
<circle cx="271.7" cy="85.4" r="0.4" fill="#b58ad0" opacity="0.7"/>
<circle cx="255.0" cy="63.1" r="0.35" fill="#b58ad0" opacity="0.7"/>
<circle cx="268.0" cy="61.1" r="0.43" fill="#b58ad0" opacity="0.7"/>
<circle cx="281.7" cy="66.2" r="0.45" fill="#b58ad0" opacity="0.7"/>
<circle cx="276.9" cy="64.6" r="0.59" fill="#b58ad0" opacity="0.7"/>
<circle cx="267.0" cy="89.4" r="0.59" fill="#b58ad0" opacity="0.7"/>
<circle cx="281.6" cy="64.1" r="0.45" fill="#b58ad0" opacity="0.7"/>
</g></g>
<circle cx="260.90" cy="124.40" r="26.40" fill="url(#rg4)"/>
<g clip-path="url(#cp3)">
<ellipse cx="260.90" cy="151.80" rx="23.76" ry="6" fill="#8f8ab8" opacity="0.38" filter="url(#bl2)"/>
<ellipse cx="248.90" cy="138.40" rx="14" ry="9" fill="#e2dfee" opacity="0.6" filter="url(#bl2)"/>
<g filter="url(#bl05)">
<circle cx="270.3" cy="107.7" r="2.2" fill="#a56cc6" opacity="0.85"/>
<circle cx="262.7" cy="106.8" r="1.2" fill="#a56cc6" opacity="0.85"/>
<circle cx="256.0" cy="106.0" r="1.0" fill="#a56cc6" opacity="0.85"/>
<circle cx="242.6" cy="110.2" r="1.2" fill="#a56cc6" opacity="0.85"/>
<circle cx="244.3" cy="116.9" r="1.5" fill="#a56cc6" opacity="0.85"/>
<circle cx="270.3" cy="116.1" r="2.0" fill="#a56cc6" opacity="0.85"/>
<circle cx="264.4" cy="119.9" r="1.5" fill="#a56cc6" opacity="0.85"/>
<circle cx="280.4" cy="110.2" r="2.0" fill="#a56cc6" opacity="0.85"/>
<circle cx="279.5" cy="116.9" r="2.2" fill="#a56cc6" opacity="0.85"/>
<circle cx="282.9" cy="123.6" r="2.2" fill="#a56cc6" opacity="0.85"/>
<circle cx="274.0" cy="125.3" r="1.5" fill="#a56cc6" opacity="0.85"/>
<circle cx="259.4" cy="126.1" r="1.5" fill="#a56cc6" opacity="0.85"/>
<circle cx="255.2" cy="129.5" r="2.0" fill="#a56cc6" opacity="0.85"/>
<circle cx="265.3" cy="132.0" r="2.8" fill="#a56cc6" opacity="0.85"/>
<circle cx="267.8" cy="138.4" r="2.0" fill="#a56cc6" opacity="0.85"/>
<circle cx="244.3" cy="138.7" r="2.5" fill="#a56cc6" opacity="0.85"/>
<circle cx="251.8" cy="140.4" r="2.2" fill="#a56cc6" opacity="0.85"/>
<circle cx="277.8" cy="135.0" r="1.5" fill="#a56cc6" opacity="0.85"/>
<circle cx="279.5" cy="140.4" r="1.5" fill="#a56cc6" opacity="0.85"/>
<circle cx="248.5" cy="123.6" r="1.0" fill="#a56cc6" opacity="0.85"/>
<circle cx="274.5" cy="101.8" r="1.2" fill="#a56cc6" opacity="0.85"/>
<circle cx="255.0" cy="131.4" r="0.47" fill="#b58ad0" opacity="0.7"/>
<circle cx="272.2" cy="129.3" r="0.7" fill="#b58ad0" opacity="0.7"/>
<circle cx="279.4" cy="124.8" r="0.57" fill="#b58ad0" opacity="0.7"/>
<circle cx="253.4" cy="143.3" r="0.64" fill="#b58ad0" opacity="0.7"/>
<circle cx="254.6" cy="138.7" r="0.75" fill="#b58ad0" opacity="0.7"/>
<circle cx="281.7" cy="132.2" r="0.41" fill="#b58ad0" opacity="0.7"/>
<circle cx="260.9" cy="103.8" r="0.41" fill="#b58ad0" opacity="0.7"/>
<circle cx="264.1" cy="111.2" r="0.69" fill="#b58ad0" opacity="0.7"/>
<circle cx="265.7" cy="124.7" r="0.49" fill="#b58ad0" opacity="0.7"/>
<circle cx="270.5" cy="121.6" r="0.78" fill="#b58ad0" opacity="0.7"/>
<circle cx="280.6" cy="115.1" r="0.57" fill="#b58ad0" opacity="0.7"/>
<circle cx="251.0" cy="137.3" r="0.79" fill="#b58ad0" opacity="0.7"/>
<circle cx="276.0" cy="136.6" r="0.8" fill="#b58ad0" opacity="0.7"/>
<circle cx="263.6" cy="121.1" r="0.87" fill="#b58ad0" opacity="0.7"/>
<circle cx="271.9" cy="131.5" r="0.71" fill="#b58ad0" opacity="0.7"/>
<circle cx="272.3" cy="118.0" r="0.86" fill="#b58ad0" opacity="0.7"/>
<circle cx="248.9" cy="120.9" r="0.56" fill="#b58ad0" opacity="0.7"/>
<circle cx="263.7" cy="130.0" r="0.47" fill="#b58ad0" opacity="0.7"/>
<circle cx="252.5" cy="103.6" r="0.48" fill="#b58ad0" opacity="0.7"/>
<circle cx="282.2" cy="131.1" r="0.67" fill="#b58ad0" opacity="0.7"/>
<circle cx="251.8" cy="130.5" r="0.7" fill="#b58ad0" opacity="0.7"/>
<circle cx="267.9" cy="111.0" r="0.61" fill="#b58ad0" opacity="0.7"/>
</g></g>
<circle cx="315.50" cy="68.50" r="26.40" fill="url(#rg6)"/>
<g clip-path="url(#cp5)">
<ellipse cx="315.50" cy="95.90" rx="23.76" ry="6" fill="#8f8ab8" opacity="0.38" filter="url(#bl2)"/>
<ellipse cx="309.50" cy="64.50" rx="16" ry="10" fill="#dedbec" opacity="0.5" filter="url(#bl2)"/>
<g filter="url(#bl05)">
<circle cx="337.5" cy="81.4" r="0.36" fill="#b58ad0" opacity="0.7"/>
<circle cx="299.2" cy="75.3" r="0.4" fill="#b58ad0" opacity="0.7"/>
<circle cx="316.1" cy="54.1" r="0.57" fill="#b58ad0" opacity="0.7"/>
<circle cx="320.1" cy="67.8" r="0.5" fill="#b58ad0" opacity="0.7"/>
<circle cx="330.0" cy="90.1" r="0.45" fill="#b58ad0" opacity="0.7"/>
<circle cx="298.3" cy="80.6" r="0.65" fill="#b58ad0" opacity="0.7"/>
<circle cx="332.6" cy="72.4" r="0.52" fill="#b58ad0" opacity="0.7"/>
<circle cx="316.6" cy="60.0" r="0.45" fill="#b58ad0" opacity="0.7"/>
<circle cx="311.8" cy="79.1" r="0.48" fill="#b58ad0" opacity="0.7"/>
<circle cx="339.1" cy="73.0" r="0.57" fill="#b58ad0" opacity="0.7"/>
<circle cx="306.2" cy="74.6" r="0.38" fill="#b58ad0" opacity="0.7"/>
<circle cx="315.9" cy="93.0" r="0.65" fill="#b58ad0" opacity="0.7"/>
<circle cx="306.4" cy="88.8" r="0.62" fill="#b58ad0" opacity="0.7"/>
<circle cx="312.6" cy="58.3" r="0.62" fill="#b58ad0" opacity="0.7"/>
<circle cx="306.9" cy="87.9" r="0.45" fill="#b58ad0" opacity="0.7"/>
<circle cx="300.0" cy="76.2" r="0.59" fill="#b58ad0" opacity="0.7"/>
<circle cx="312.9" cy="94.3" r="0.58" fill="#b58ad0" opacity="0.7"/>
<circle cx="316.5" cy="73.4" r="0.54" fill="#b58ad0" opacity="0.7"/>
<circle cx="318.4" cy="91.8" r="0.51" fill="#b58ad0" opacity="0.7"/>
<circle cx="325.4" cy="59.0" r="0.63" fill="#b58ad0" opacity="0.7"/>
<circle cx="308.7" cy="88.3" r="0.61" fill="#b58ad0" opacity="0.7"/>
<circle cx="324.4" cy="63.5" r="0.65" fill="#b58ad0" opacity="0.7"/>
</g></g>
<circle cx="315.50" cy="124.40" r="26.40" fill="url(#rg8)"/>
<g clip-path="url(#cp7)">
<ellipse cx="315.50" cy="151.80" rx="23.76" ry="6" fill="#8f8ab8" opacity="0.38" filter="url(#bl2)"/>
<g filter="url(#bl05)">
<circle cx="329.7" cy="109.2" r="0.69" fill="#b58ad0" opacity="0.7"/>
<circle cx="332.9" cy="119.5" r="0.54" fill="#b58ad0" opacity="0.7"/>
<circle cx="327.0" cy="144.2" r="0.68" fill="#b58ad0" opacity="0.7"/>
<circle cx="294.9" cy="127.4" r="0.6" fill="#b58ad0" opacity="0.7"/>
<circle cx="314.2" cy="114.1" r="0.62" fill="#b58ad0" opacity="0.7"/>
<circle cx="297.6" cy="114.4" r="0.5" fill="#b58ad0" opacity="0.7"/>
<circle cx="299.8" cy="108.9" r="0.57" fill="#b58ad0" opacity="0.7"/>
<circle cx="314.7" cy="120.3" r="0.41" fill="#b58ad0" opacity="0.7"/>
<circle cx="296.6" cy="131.7" r="0.43" fill="#b58ad0" opacity="0.7"/>
<circle cx="307.7" cy="106.1" r="0.36" fill="#b58ad0" opacity="0.7"/>
<circle cx="303.8" cy="126.5" r="0.37" fill="#b58ad0" opacity="0.7"/>
<circle cx="324.9" cy="134.9" r="0.41" fill="#b58ad0" opacity="0.7"/>
<circle cx="317.2" cy="128.8" r="0.51" fill="#b58ad0" opacity="0.7"/>
<circle cx="301.2" cy="137.8" r="0.56" fill="#b58ad0" opacity="0.7"/>
<circle cx="317.3" cy="148.2" r="0.35" fill="#b58ad0" opacity="0.7"/>
<circle cx="304.5" cy="131.8" r="0.49" fill="#b58ad0" opacity="0.7"/>
<circle cx="332.6" cy="139.5" r="0.48" fill="#b58ad0" opacity="0.7"/>
<circle cx="334.6" cy="128.8" r="0.38" fill="#b58ad0" opacity="0.7"/>
<circle cx="301.5" cy="120.3" r="0.55" fill="#b58ad0" opacity="0.7"/>
<circle cx="337.4" cy="118.5" r="0.5" fill="#b58ad0" opacity="0.7"/>
</g></g>
<circle cx="369.70" cy="68.50" r="26.40" fill="url(#rg10)"/>
<g clip-path="url(#cp9)">
<ellipse cx="369.70" cy="95.90" rx="23.76" ry="6" fill="#8f8ab8" opacity="0.38" filter="url(#bl2)"/>
<g filter="url(#bl05)">
<circle cx="376.2" cy="52.9" r="0.57" fill="#ad7fcc" opacity="0.8"/>
<circle cx="379.9" cy="81.2" r="0.65" fill="#ad7fcc" opacity="0.8"/>
<circle cx="389.7" cy="63.0" r="0.67" fill="#ad7fcc" opacity="0.8"/>
<circle cx="357.9" cy="84.6" r="0.4" fill="#ad7fcc" opacity="0.8"/>
<circle cx="382.1" cy="78.5" r="0.68" fill="#ad7fcc" opacity="0.8"/>
<circle cx="380.3" cy="81.5" r="0.8" fill="#ad7fcc" opacity="0.8"/>
<circle cx="359.8" cy="78.3" r="0.5" fill="#ad7fcc" opacity="0.8"/>
<circle cx="364.3" cy="88.6" r="0.57" fill="#ad7fcc" opacity="0.8"/>
<circle cx="389.3" cy="63.6" r="0.67" fill="#ad7fcc" opacity="0.8"/>
<circle cx="368.4" cy="89.4" r="0.62" fill="#ad7fcc" opacity="0.8"/>
<circle cx="359.4" cy="74.5" r="0.84" fill="#ad7fcc" opacity="0.8"/>
<circle cx="358.4" cy="69.1" r="0.61" fill="#ad7fcc" opacity="0.8"/>
<circle cx="381.7" cy="80.0" r="0.6" fill="#ad7fcc" opacity="0.8"/>
<circle cx="364.7" cy="86.5" r="0.77" fill="#ad7fcc" opacity="0.8"/>
<circle cx="385.1" cy="69.8" r="0.52" fill="#ad7fcc" opacity="0.8"/>
<circle cx="386.9" cy="61.1" r="0.51" fill="#ad7fcc" opacity="0.8"/>
<circle cx="368.8" cy="76.8" r="0.84" fill="#ad7fcc" opacity="0.8"/>
<circle cx="365.3" cy="84.4" r="0.61" fill="#ad7fcc" opacity="0.8"/>
<circle cx="359.6" cy="55.5" r="0.73" fill="#ad7fcc" opacity="0.8"/>
<circle cx="383.3" cy="81.0" r="0.54" fill="#ad7fcc" opacity="0.8"/>
<circle cx="357.7" cy="65.9" r="0.53" fill="#ad7fcc" opacity="0.8"/>
<circle cx="355.6" cy="65.8" r="0.56" fill="#ad7fcc" opacity="0.8"/>
<circle cx="369.2" cy="52.3" r="0.42" fill="#ad7fcc" opacity="0.8"/>
<circle cx="369.5" cy="82.8" r="0.81" fill="#ad7fcc" opacity="0.8"/>
<circle cx="381.6" cy="58.4" r="0.41" fill="#ad7fcc" opacity="0.8"/>
<circle cx="372.2" cy="54.9" r="0.66" fill="#ad7fcc" opacity="0.8"/>
<circle cx="365.3" cy="52.3" r="0.62" fill="#ad7fcc" opacity="0.8"/>
<circle cx="380.8" cy="61.6" r="0.58" fill="#ad7fcc" opacity="0.8"/>
<circle cx="375.3" cy="61.0" r="0.53" fill="#ad7fcc" opacity="0.8"/>
<circle cx="372.3" cy="63.7" r="0.78" fill="#ad7fcc" opacity="0.8"/>
<circle cx="365.0" cy="55.4" r="0.53" fill="#ad7fcc" opacity="0.8"/>
<circle cx="373.6" cy="48.7" r="0.46" fill="#ad7fcc" opacity="0.8"/>
<circle cx="354.2" cy="70.6" r="0.62" fill="#ad7fcc" opacity="0.8"/>
<circle cx="365.7" cy="75.7" r="0.66" fill="#ad7fcc" opacity="0.8"/>
<circle cx="371.8" cy="63.4" r="0.5" fill="#ad7fcc" opacity="0.8"/>
<circle cx="377.7" cy="51.5" r="0.7" fill="#ad7fcc" opacity="0.8"/>
<circle cx="387.4" cy="71.4" r="0.84" fill="#ad7fcc" opacity="0.8"/>
<circle cx="387.4" cy="68.3" r="0.42" fill="#ad7fcc" opacity="0.8"/>
<circle cx="375.1" cy="60.2" r="0.69" fill="#ad7fcc" opacity="0.8"/>
<circle cx="386.7" cy="63.2" r="0.46" fill="#ad7fcc" opacity="0.8"/>
<circle cx="364.4" cy="88.0" r="0.47" fill="#ad7fcc" opacity="0.8"/>
<circle cx="359.3" cy="59.8" r="0.47" fill="#ad7fcc" opacity="0.8"/>
<circle cx="366.5" cy="65.4" r="0.45" fill="#ad7fcc" opacity="0.8"/>
<circle cx="365.6" cy="72.4" r="0.43" fill="#ad7fcc" opacity="0.8"/>
<circle cx="353.5" cy="60.2" r="0.8" fill="#ad7fcc" opacity="0.8"/>
</g></g>
<circle cx="369.70" cy="124.40" r="26.40" fill="url(#rg12)"/>
<g clip-path="url(#cp11)">
<ellipse cx="369.70" cy="151.80" rx="23.76" ry="6" fill="#8f8ab8" opacity="0.38" filter="url(#bl2)"/>
<g filter="url(#bl05)">
<circle cx="379.5" cy="139.4" r="0.53" fill="#b083ce" opacity="0.8"/>
<circle cx="357.0" cy="119.2" r="0.78" fill="#b083ce" opacity="0.8"/>
<circle cx="366.0" cy="132.2" r="0.68" fill="#b083ce" opacity="0.8"/>
<circle cx="380.1" cy="142.9" r="0.6" fill="#b083ce" opacity="0.8"/>
<circle cx="383.8" cy="119.5" r="0.65" fill="#b083ce" opacity="0.8"/>
<circle cx="368.3" cy="145.0" r="0.5" fill="#b083ce" opacity="0.8"/>
<circle cx="369.8" cy="112.3" r="0.45" fill="#b083ce" opacity="0.8"/>
<circle cx="371.0" cy="142.0" r="0.69" fill="#b083ce" opacity="0.8"/>
<circle cx="377.8" cy="145.5" r="0.66" fill="#b083ce" opacity="0.8"/>
<circle cx="385.5" cy="137.8" r="0.44" fill="#b083ce" opacity="0.8"/>
<circle cx="381.9" cy="140.6" r="0.5" fill="#b083ce" opacity="0.8"/>
<circle cx="380.8" cy="117.5" r="0.53" fill="#b083ce" opacity="0.8"/>
<circle cx="370.8" cy="124.7" r="0.69" fill="#b083ce" opacity="0.8"/>
<circle cx="377.9" cy="131.3" r="0.78" fill="#b083ce" opacity="0.8"/>
<circle cx="365.3" cy="118.8" r="0.45" fill="#b083ce" opacity="0.8"/>
<circle cx="387.7" cy="125.3" r="0.73" fill="#b083ce" opacity="0.8"/>
<circle cx="381.0" cy="142.1" r="0.54" fill="#b083ce" opacity="0.8"/>
<circle cx="370.9" cy="141.3" r="0.65" fill="#b083ce" opacity="0.8"/>
<circle cx="361.6" cy="139.7" r="0.45" fill="#b083ce" opacity="0.8"/>
<circle cx="378.5" cy="112.6" r="0.72" fill="#b083ce" opacity="0.8"/>
<circle cx="350.8" cy="136.8" r="0.61" fill="#b083ce" opacity="0.8"/>
<circle cx="355.5" cy="119.1" r="0.7" fill="#b083ce" opacity="0.8"/>
<circle cx="364.2" cy="132.7" r="0.41" fill="#b083ce" opacity="0.8"/>
<circle cx="371.0" cy="132.7" r="0.76" fill="#b083ce" opacity="0.8"/>
<circle cx="350.3" cy="130.7" r="0.4" fill="#b083ce" opacity="0.8"/>
<circle cx="348.9" cy="132.3" r="0.65" fill="#b083ce" opacity="0.8"/>
<circle cx="355.9" cy="135.0" r="0.44" fill="#b083ce" opacity="0.8"/>
<circle cx="374.7" cy="135.8" r="0.55" fill="#b083ce" opacity="0.8"/>
<circle cx="353.8" cy="142.3" r="0.46" fill="#b083ce" opacity="0.8"/>
<circle cx="369.4" cy="140.2" r="0.46" fill="#b083ce" opacity="0.8"/>
<circle cx="367.2" cy="139.0" r="0.59" fill="#b083ce" opacity="0.8"/>
<circle cx="390.8" cy="132.7" r="0.55" fill="#b083ce" opacity="0.8"/>
<circle cx="386.9" cy="121.3" r="0.67" fill="#b083ce" opacity="0.8"/>
<circle cx="348.2" cy="132.3" r="0.45" fill="#b083ce" opacity="0.8"/>
<circle cx="363.8" cy="117.8" r="0.67" fill="#b083ce" opacity="0.8"/>
<circle cx="368.5" cy="119.4" r="0.48" fill="#b083ce" opacity="0.8"/>
<circle cx="380.3" cy="130.1" r="0.43" fill="#b083ce" opacity="0.8"/>
<circle cx="351.7" cy="141.3" r="0.55" fill="#b083ce" opacity="0.8"/>
<circle cx="363.9" cy="142.6" r="0.51" fill="#b083ce" opacity="0.8"/>
<circle cx="367.6" cy="109.5" r="0.47" fill="#b083ce" opacity="0.8"/>
</g></g>
<circle cx="425.90" cy="68.50" r="26.40" fill="url(#rg14)"/>
<g clip-path="url(#cp13)">
<ellipse cx="425.90" cy="95.90" rx="23.76" ry="6" fill="#8f8ab8" opacity="0.38" filter="url(#bl2)"/>
<ellipse cx="429.90" cy="86.50" rx="19" ry="13" fill="#d9d6ea" opacity="0.9" filter="url(#bl2)"/>
<ellipse cx="425.90" cy="95.50" rx="22" ry="6" fill="#9a9cc0" opacity="0.7" filter="url(#bl2)"/>
<g filter="url(#bl05)">
<circle cx="427.0" cy="86.9" r="0.68" fill="#b58ad0" opacity="0.7"/>
<circle cx="416.9" cy="56.8" r="0.69" fill="#b58ad0" opacity="0.7"/>
<circle cx="431.4" cy="68.7" r="0.62" fill="#b58ad0" opacity="0.7"/>
</g></g>
<circle cx="425.90" cy="124.40" r="26.40" fill="url(#rg16)"/>
<g clip-path="url(#cp15)">
<ellipse cx="425.90" cy="151.80" rx="23.76" ry="6" fill="#8f8ab8" opacity="0.38" filter="url(#bl2)"/>
<ellipse cx="427.90" cy="142.40" rx="19" ry="11" fill="#dcd9ec" opacity="0.85" filter="url(#bl2)"/>
<g filter="url(#bl05)">
<circle cx="427.0" cy="104.6" r="1.1" fill="#9b55c0" opacity="0.9"/>
<circle cx="429.5" cy="119.8" r="1.4" fill="#9b55c0" opacity="0.9"/>
<circle cx="436.6" cy="141.0" r="1.3" fill="#9b55c0" opacity="0.95"/>
<circle cx="413.0" cy="118.5" r="0.8" fill="#a56cc6" opacity="0.85"/>
<circle cx="420.5" cy="111.0" r="0.7" fill="#a56cc6" opacity="0.85"/>
<circle cx="440.0" cy="112.0" r="0.7" fill="#a56cc6" opacity="0.85"/>
<circle cx="410.0" cy="130.0" r="0.7" fill="#a56cc6" opacity="0.85"/>
<circle cx="423.0" cy="135.0" r="0.6" fill="#a56cc6" opacity="0.85"/>
<circle cx="422.1" cy="126.8" r="0.54" fill="#b58ad0" opacity="0.7"/>
<circle cx="441.1" cy="123.4" r="0.47" fill="#b58ad0" opacity="0.7"/>
<circle cx="430.6" cy="127.5" r="0.66" fill="#b58ad0" opacity="0.7"/>
<circle cx="405.5" cy="125.5" r="0.37" fill="#b58ad0" opacity="0.7"/>
<circle cx="426.1" cy="129.1" r="0.49" fill="#b58ad0" opacity="0.7"/>
<circle cx="435.8" cy="128.3" r="0.49" fill="#b58ad0" opacity="0.7"/>
<circle cx="424.3" cy="128.9" r="0.36" fill="#b58ad0" opacity="0.7"/>
<circle cx="434.7" cy="122.8" r="0.53" fill="#b58ad0" opacity="0.7"/>
<circle cx="413.3" cy="133.3" r="0.38" fill="#b58ad0" opacity="0.7"/>
<circle cx="423.2" cy="130.8" r="0.54" fill="#b58ad0" opacity="0.7"/>
<circle cx="440.3" cy="116.6" r="0.65" fill="#b58ad0" opacity="0.7"/>
<circle cx="426.5" cy="127.1" r="0.54" fill="#b58ad0" opacity="0.7"/>
<circle cx="410.0" cy="125.7" r="0.48" fill="#b58ad0" opacity="0.7"/>
<circle cx="413.2" cy="111.7" r="0.67" fill="#b58ad0" opacity="0.7"/>
<circle cx="420.9" cy="137.6" r="0.64" fill="#b58ad0" opacity="0.7"/>
<circle cx="427.1" cy="131.5" r="0.46" fill="#b58ad0" opacity="0.7"/>
<circle cx="441.7" cy="134.1" r="0.64" fill="#b58ad0" opacity="0.7"/>
<circle cx="423.0" cy="131.4" r="0.38" fill="#b58ad0" opacity="0.7"/>
</g></g>
<text x="66.40" y="193.10" font-size="9.4" text-anchor="middle" font-weight="normal" fill="#111">GM</text>
<text x="173.30" y="193.10" font-size="9.4" text-anchor="middle" font-weight="normal" fill="#111">OM</text>
<line x1="41.50" y1="195.50" x2="93.00" y2="195.50" stroke="#111" stroke-width="0.9"/>
<line x1="96.70" y1="195.50" x2="254.10" y2="195.50" stroke="#111" stroke-width="0.9"/>
<text x="67.90" y="209.20" font-size="9.4" text-anchor="middle" font-weight="normal" fill="#111" letter-spacing="0.12">DMSO</text>
<text x="122.20" y="209.20" font-size="9.4" text-anchor="middle" font-weight="normal" fill="#111" letter-spacing="0.12">DMSO</text>
<text x="173.60" y="209.20" font-size="9.4" text-anchor="middle" font-weight="normal" fill="#111" letter-spacing="0.12">LY294002</text>
<text x="230.60" y="209.20" font-size="9.4" text-anchor="middle" font-weight="normal" fill="#111" letter-spacing="0.12">Rapamycin</text>
<line x1="20.40" y1="221.10" x2="20.40" y2="312.30" stroke="#111" stroke-width="0.9"/>
<line x1="20.40" y1="330.20" x2="20.40" y2="422.00" stroke="#111" stroke-width="0.9"/>
<text x="17.53" y="268.80" font-size="8.7" text-anchor="middle" font-weight="normal" fill="#111" transform="rotate(-90 17.53 268.80)">ALP staining</text>
<text x="17.73" y="376.30" font-size="8.7" text-anchor="middle" font-weight="normal" fill="#111" transform="rotate(-90 17.73 376.30)">ARS staining</text>
<text x="38.36" y="237.40" font-size="9.6" text-anchor="middle" font-weight="normal" fill="#111" transform="rotate(-90 38.36 237.40)">WT</text>
<text x="38.36" y="292.60" font-size="9.6" text-anchor="middle" font-weight="normal" fill="#111" transform="rotate(-90 38.36 292.60)">KO</text>
<text x="39.06" y="350.00" font-size="9.6" text-anchor="middle" font-weight="normal" fill="#111" transform="rotate(-90 39.06 350.00)">WT</text>
<text x="39.06" y="405.30" font-size="9.6" text-anchor="middle" font-weight="normal" fill="#111" transform="rotate(-90 39.06 405.30)">KO</text>
<circle cx="67.40" cy="238.50" r="25.50" fill="url(#rg18)"/>
<g clip-path="url(#cp17)">
<rect x="41.90" y="213.00" width="51.00" height="51.00" fill="#000" filter="url(#nf19)"/>
<ellipse cx="75.90" cy="240.00" rx="9.5" ry="9" fill="#a8a5b7" opacity="0.95" filter="url(#bl2)"/>
<circle cx="63.90" cy="239.00" r="8.00" fill="url(#rg20)"/>
</g>
<circle cx="122.30" cy="238.50" r="25.50" fill="url(#rg22)"/>
<g clip-path="url(#cp21)">
<rect x="96.80" y="213.00" width="51.00" height="51.00" fill="#000" filter="url(#nf23)"/>
<circle cx="122.80" cy="238.00" r="15.00" fill="url(#rg24)"/>
</g>
<circle cx="174.50" cy="238.50" r="25.50" fill="url(#rg26)"/>
<g clip-path="url(#cp25)">
<rect x="149.00" y="213.00" width="51.00" height="51.00" fill="#000" filter="url(#nf27)"/>
<ellipse cx="186.00" cy="237.50" rx="13" ry="16.5" fill="#b2b0c2" opacity="0.97" filter="url(#bl2)"/>
</g>
<circle cx="226.70" cy="238.50" r="25.50" fill="url(#rg29)"/>
<g clip-path="url(#cp28)">
<rect x="201.20" y="213.00" width="51.00" height="51.00" fill="#000" filter="url(#nf30)"/>
<ellipse cx="239.20" cy="237.00" rx="11" ry="16.5" fill="#b0aec0" opacity="0.96" filter="url(#bl2)"/>
<circle cx="224.20" cy="240.00" r="9.50" fill="url(#rg31)"/>
</g>
<circle cx="67.40" cy="292.20" r="25.50" fill="url(#rg33)"/>
<g clip-path="url(#cp32)">
<rect x="41.90" y="266.70" width="51.00" height="51.00" fill="#000" filter="url(#nf34)"/>
<circle cx="64.40" cy="297.20" r="13.00" fill="url(#rg35)"/>
</g>
<circle cx="122.30" cy="292.20" r="25.50" fill="url(#rg37)"/>
<g clip-path="url(#cp36)">
<rect x="96.80" y="266.70" width="51.00" height="51.00" fill="#000" filter="url(#nf38)"/>
<circle cx="122.30" cy="296.20" r="21.00" fill="url(#rg39)"/>
</g>
<circle cx="174.50" cy="292.20" r="25.50" fill="url(#rg41)"/>
<g clip-path="url(#cp40)">
<rect x="149.00" y="266.70" width="51.00" height="51.00" fill="#000" filter="url(#nf42)"/>
<ellipse cx="188.00" cy="294.70" rx="8" ry="12.5" fill="#a9a6b9" opacity="0.85" filter="url(#bl2)"/>
<circle cx="171.00" cy="296.70" r="12.00" fill="url(#rg43)"/>
</g>
<circle cx="226.70" cy="292.20" r="25.50" fill="url(#rg45)"/>
<g clip-path="url(#cp44)">
<rect x="201.20" y="266.70" width="51.00" height="51.00" fill="#000" filter="url(#nf46)"/>
<ellipse cx="242.20" cy="295.20" rx="6" ry="12.5" fill="#a7a4b7" opacity="0.8" filter="url(#bl2)"/>
<circle cx="224.20" cy="296.20" r="12.50" fill="url(#rg47)"/>
</g>
<circle cx="68.70" cy="349.00" r="25.50" fill="url(#rg49)"/>
<g clip-path="url(#cp48)">
<ellipse cx="46.70" cy="365.00" rx="12" ry="16" fill="#c9c8d8" opacity="0.8" filter="url(#bl2)"/>
<path d="M55.5 328.5 C63 326 75 324.5 84 331 C90 336 92 347 89 357 C86 364 80 366 77 369 C74 371.5 72 369 69.5 373 M55.5 328.5 C49 333 47 341 48.5 347 C50 353 56 358 60 363 C63 367 66 371 69.5 373" fill="none" stroke="#c98a86" stroke-width="0.5" opacity="0.6"/>
</g>
<circle cx="68.70" cy="404.90" r="25.50" fill="url(#rg51)"/>
<g clip-path="url(#cp50)">
<ellipse cx="48.70" cy="418.90" rx="10" ry="14" fill="#d0ccda" opacity="0.6" filter="url(#bl2)"/>
</g>
<circle cx="176.30" cy="349.00" r="25.50" fill="url(#rg53)"/>
<g clip-path="url(#cp52)">
<ellipse cx="172.30" cy="331.00" rx="20" ry="8" fill="#ece6ec" opacity="0.8" filter="url(#bl2)"/>
<ellipse cx="152.30" cy="353.00" rx="6" ry="22" fill="#c4c1d2" opacity="0.6" filter="url(#bl2)"/>
</g>
<circle cx="228.10" cy="349.00" r="25.50" fill="url(#rg55)"/>
<g clip-path="url(#cp54)">
<ellipse cx="226.10" cy="331.00" rx="20" ry="8" fill="#ede7ed" opacity="0.8" filter="url(#bl2)"/>
<ellipse cx="204.10" cy="353.00" rx="5" ry="20" fill="#c8c5d5" opacity="0.5" filter="url(#bl2)"/>
</g>
<circle cx="176.30" cy="404.90" r="25.50" fill="url(#rg57)"/>
<g clip-path="url(#cp56)">
</g>
<circle cx="228.10" cy="404.90" r="25.50" fill="url(#rg59)"/>
<g clip-path="url(#cp58)">
</g>
<circle cx="124.30" cy="349.00" r="25.50" fill="#e2d8e0"/>
<g clip-path="url(#cp60)">
<rect x="98.80" y="323.50" width="51.00" height="51.00" fill="#000" filter="url(#nf61)"/>
<path d="M139 341 C134 344 133 352 137 357 C141 360 146 358 147 354" fill="none" stroke="#cc2a3a" stroke-width="2.2" opacity="0.8" filter="url(#bl03)"/>
</g>
<circle cx="124.30" cy="349.00" r="25.20" fill="none" stroke="#c9a9b4" stroke-width="0.6" opacity="0.7"/>
<circle cx="124.30" cy="404.90" r="25.50" fill="#e6c4cf"/>
<g clip-path="url(#cp62)">
<rect x="98.80" y="379.40" width="51.00" height="51.00" fill="#000" filter="url(#nf63)"/>
</g>
<circle cx="124.30" cy="404.90" r="25.20" fill="none" stroke="#c9a9b4" stroke-width="0.6" opacity="0.7"/>
<rect x="233.40" y="478.10" width="71.60" height="98.10" fill="#2b3467" stroke="none" stroke-width="1"/>
<rect x="233.40" y="580.80" width="71.60" height="58.80" fill="#2b3467" stroke="none" stroke-width="1"/>
<rect x="233.40" y="643.50" width="71.60" height="59.00" fill="#2b3467" stroke="none" stroke-width="1"/>
<rect x="308.50" y="478.10" width="71.60" height="98.10" fill="#2b3467" stroke="none" stroke-width="1"/>
<rect x="308.50" y="580.80" width="71.60" height="58.80" fill="#2b3467" stroke="none" stroke-width="1"/>
<rect x="308.50" y="643.50" width="71.60" height="59.00" fill="#2b3467" stroke="none" stroke-width="1"/>
<rect x="383.10" y="478.10" width="71.70" height="98.10" fill="#2b3467" stroke="none" stroke-width="1"/>
<rect x="383.10" y="580.80" width="71.70" height="58.80" fill="#2b3467" stroke="none" stroke-width="1"/>
<rect x="383.10" y="643.50" width="71.70" height="59.00" fill="#2b3467" stroke="none" stroke-width="1"/>
<text x="271.40" y="473.70" font-size="15.0" text-anchor="middle" font-weight="normal" fill="#111">PBS</text>
<text x="343.80" y="473.60" font-size="15.2" text-anchor="middle" font-weight="normal" fill="#111">WT-MSCs</text>
<text x="419.80" y="473.60" font-size="15.2" text-anchor="middle" font-weight="normal" fill="#111">KO-MSCs</text>
<ellipse cx="280.4" cy="509.6" rx="2.7" ry="2.6" fill="url(#rg66)"/>
<path d="M270.3 485.3 C273.2 485.1 277.5 485.4 280.2 487.0 C282.9 488.6 285.3 492.0 286.7 494.6 C288.1 497.2 289.1 500.9 288.6 502.6 C288.1 504.3 285.0 504.3 283.5 505.0 C282.0 505.7 280.6 505.7 279.5 507.0 C278.4 508.3 277.6 510.3 276.6 513.0 C275.6 515.7 274.1 518.3 273.3 523.1 C272.5 527.9 272.1 533.8 272.0 541.7 C271.9 549.6 273.3 565.6 272.7 570.4 C272.1 575.2 269.1 571.2 268.1 570.7 C267.2 570.2 268.1 568.0 267.0 567.6 C265.9 567.2 262.7 568.0 261.6 568.5 C260.6 569.0 261.2 570.1 260.7 570.4 C260.1 570.7 258.9 573.4 258.3 570.4 C257.8 567.4 257.9 559.2 257.4 552.6 C256.9 546.0 256.3 536.2 255.5 530.7 C254.7 525.2 253.8 523.1 252.8 519.8 C251.8 516.5 249.8 514.1 249.5 511.0 C249.2 507.9 250.2 504.1 251.2 501.2 C252.2 498.3 253.6 495.7 255.5 493.5 C257.4 491.3 260.2 489.4 262.7 488.0 C265.2 486.6 267.4 485.5 270.3 485.3 Z" fill="url(#lg65)"/>
<g clip-path="url(#bc64)">
<rect x="246" y="482" width="46" height="92" fill="#000" filter="url(#nu67)"/>
<rect x="246" y="482" width="46" height="92" fill="#000" filter="url(#nu68)"/>
<path d="M270.3 485.3 C273.2 485.1 277.5 485.4 280.2 487.0 C282.9 488.6 285.3 492.0 286.7 494.6 C288.1 497.2 289.1 500.9 288.6 502.6 C288.1 504.3 285.0 504.3 283.5 505.0 C282.0 505.7 280.6 505.7 279.5 507.0 C278.4 508.3 277.6 510.3 276.6 513.0 C275.6 515.7 274.1 518.3 273.3 523.1 C272.5 527.9 272.1 533.8 272.0 541.7 C271.9 549.6 273.3 565.6 272.7 570.4 C272.1 575.2 269.1 571.2 268.1 570.7 C267.2 570.2 268.1 568.0 267.0 567.6 C265.9 567.2 262.7 568.0 261.6 568.5 C260.6 569.0 261.2 570.1 260.7 570.4 C260.1 570.7 258.9 573.4 258.3 570.4 C257.8 567.4 257.9 559.2 257.4 552.6 C256.9 546.0 256.3 536.2 255.5 530.7 C254.7 525.2 253.8 523.1 252.8 519.8 C251.8 516.5 249.8 514.1 249.5 511.0 C249.2 507.9 250.2 504.1 251.2 501.2 C252.2 498.3 253.6 495.7 255.5 493.5 C257.4 491.3 260.2 489.4 262.7 488.0 C265.2 486.6 267.4 485.5 270.3 485.3 Z" fill="none" stroke="#e4e4e4" stroke-width="1.6" opacity="0.6"/>
<path d="M279.5 507.0 C279.0 508.0 277.6 510.3 276.6 513.0 C275.6 515.7 274.1 518.3 273.3 523.1 C272.5 527.9 272.1 533.8 272.0 541.7 C271.9 549.6 272.6 565.6 272.7 570.4" fill="none" stroke="#f2f2f2" stroke-width="3.6" opacity="0.95"/>
<path d="M258.3 570.4 C258.1 567.4 257.9 559.2 257.4 552.6 C256.9 546.0 256.3 536.2 255.5 530.7 C254.7 525.2 253.8 523.1 252.8 519.8 C251.8 516.5 249.8 514.1 249.5 511.0 C249.2 507.9 250.9 502.8 251.2 501.2" fill="none" stroke="#f2f2f2" stroke-width="3.6" opacity="0.95"/>
<path d="M252.5 512 C257 506 262 502 268 502.5 C271 499.5 276 498 279.5 501 C283 503.5 286 503 288 501.5" fill="none" stroke="#e9e9e9" stroke-width="1.0" opacity="0.85"/>
</g>
<ellipse cx="359.4" cy="511.4" rx="2.9" ry="2.5" fill="url(#rg71)"/>
<path d="M348.6 485.9 C351.4 485.9 354.7 485.7 357.4 487.0 C360.1 488.3 363.4 491.4 365.0 493.5 C366.6 495.6 367.2 497.8 367.2 499.5 C367.2 501.2 366.1 502.5 365.0 503.6 C363.9 504.7 361.9 505.2 360.4 506.3 C358.9 507.4 357.4 507.4 356.0 510.0 C354.6 512.6 353.0 516.7 352.1 522.0 C351.2 527.3 350.8 533.5 350.5 541.7 C350.2 549.9 350.7 566.3 350.1 571.3 C349.5 576.3 347.6 571.9 347.0 571.5 C346.4 571.1 347.7 569.5 346.4 569.1 C345.1 568.7 340.6 568.7 339.3 569.1 C338.0 569.5 339.4 571.3 338.8 571.8 C338.2 572.2 336.4 575.0 335.8 571.8 C335.2 568.6 335.9 559.1 335.5 552.6 C335.1 546.1 334.5 538.4 333.6 532.9 C332.7 527.4 331.1 523.8 330.0 519.8 C328.9 515.8 327.2 512.3 327.1 508.8 C327.0 505.3 328.0 501.9 329.2 499.0 C330.4 496.1 332.4 493.3 334.4 491.3 C336.3 489.3 338.5 487.9 340.9 487.0 C343.3 486.1 345.9 485.9 348.6 485.9 Z" fill="url(#lg70)"/>
<g clip-path="url(#bc69)">
<rect x="324" y="483" width="46" height="92" fill="#000" filter="url(#nu72)"/>
<rect x="324" y="483" width="46" height="92" fill="#000" filter="url(#nu73)"/>
<path d="M337.5 536 L348.8 540 L348.3 569 L337.8 569 Z" fill="#c2c2c2" opacity="0.8" filter="url(#bl1)"/>
<path d="M348.6 485.9 C351.4 485.9 354.7 485.7 357.4 487.0 C360.1 488.3 363.4 491.4 365.0 493.5 C366.6 495.6 367.2 497.8 367.2 499.5 C367.2 501.2 366.1 502.5 365.0 503.6 C363.9 504.7 361.9 505.2 360.4 506.3 C358.9 507.4 357.4 507.4 356.0 510.0 C354.6 512.6 353.0 516.7 352.1 522.0 C351.2 527.3 350.8 533.5 350.5 541.7 C350.2 549.9 350.7 566.3 350.1 571.3 C349.5 576.3 347.6 571.9 347.0 571.5 C346.4 571.1 347.7 569.5 346.4 569.1 C345.1 568.7 340.6 568.7 339.3 569.1 C338.0 569.5 339.4 571.3 338.8 571.8 C338.2 572.2 336.4 575.0 335.8 571.8 C335.2 568.6 335.9 559.1 335.5 552.6 C335.1 546.1 334.5 538.4 333.6 532.9 C332.7 527.4 331.1 523.8 330.0 519.8 C328.9 515.8 327.2 512.3 327.1 508.8 C327.0 505.3 328.0 501.9 329.2 499.0 C330.4 496.1 332.4 493.3 334.4 491.3 C336.3 489.3 338.5 487.9 340.9 487.0 C343.3 486.1 345.9 485.9 348.6 485.9 Z" fill="none" stroke="#e4e4e4" stroke-width="1.6" opacity="0.6"/>
<path d="M360.4 506.3 C359.7 506.9 357.4 507.4 356.0 510.0 C354.6 512.6 353.0 516.7 352.1 522.0 C351.2 527.3 350.8 533.5 350.5 541.7 C350.2 549.9 350.2 566.4 350.1 571.3" fill="none" stroke="#f2f2f2" stroke-width="3.6" opacity="0.95"/>
<path d="M335.8 571.8 C335.8 568.6 335.9 559.1 335.5 552.6 C335.1 546.1 334.5 538.4 333.6 532.9 C332.7 527.4 331.1 523.8 330.0 519.8 C328.9 515.8 327.2 512.3 327.1 508.8 C327.0 505.3 328.9 500.6 329.2 499.0" fill="none" stroke="#f2f2f2" stroke-width="3.6" opacity="0.95"/>
<path d="M330 512 C329.5 504 333 499.5 339 498.5 C344 498 347 501 348.5 503.5 C350 500 354 499 357 501.5 C359 503.5 359.5 506 358 508" fill="none" stroke="#e9e9e9" stroke-width="1.0" opacity="0.85"/>
</g>
<circle cx="364.00" cy="509.60" r="0.50" fill="#e8e8e8"/>
<circle cx="349.00" cy="481.40" r="0.40" fill="#e8e8e8"/>
<ellipse cx="430.9" cy="508.7" rx="1.9" ry="1.7" fill="url(#rg76)"/>
<path d="M421.5 483.7 C424.4 483.6 427.8 484.0 430.3 485.3 C432.9 486.6 435.4 489.0 436.8 491.3 C438.2 493.6 438.8 496.7 438.6 499.0 C438.5 501.3 436.9 503.8 435.9 505.0 C434.9 506.2 433.7 505.5 432.5 506.3 C431.3 507.1 429.8 507.1 428.6 509.9 C427.4 512.7 426.4 517.8 425.5 523.1 C424.6 528.4 423.9 533.8 423.4 541.7 C422.9 549.6 423.0 565.8 422.3 570.7 C421.6 575.6 419.9 571.2 419.3 570.9 C418.7 570.6 420.1 569.4 418.8 569.1 C417.5 568.8 413.0 568.7 411.7 569.1 C410.4 569.5 411.8 570.9 411.1 571.3 C410.4 571.7 408.3 574.4 407.6 571.3 C406.9 568.2 407.5 559.0 407.1 552.6 C406.7 546.2 406.2 538.4 405.4 532.9 C404.6 527.4 403.4 523.6 402.2 519.8 C401.0 516.0 398.7 513.2 398.3 509.9 C397.9 506.6 399.0 503.0 400.0 500.1 C401.0 497.2 402.4 494.8 404.5 492.4 C406.6 490.0 410.0 487.3 412.8 485.9 C415.6 484.4 418.6 483.8 421.5 483.7 Z" fill="url(#lg75)"/>
<g clip-path="url(#bc74)">
<rect x="395" y="481" width="46" height="92" fill="#000" filter="url(#nu77)"/>
<rect x="395" y="481" width="46" height="92" fill="#000" filter="url(#nu78)"/>
<path d="M421.5 483.7 C424.4 483.6 427.8 484.0 430.3 485.3 C432.9 486.6 435.4 489.0 436.8 491.3 C438.2 493.6 438.8 496.7 438.6 499.0 C438.5 501.3 436.9 503.8 435.9 505.0 C434.9 506.2 433.7 505.5 432.5 506.3 C431.3 507.1 429.8 507.1 428.6 509.9 C427.4 512.7 426.4 517.8 425.5 523.1 C424.6 528.4 423.9 533.8 423.4 541.7 C422.9 549.6 423.0 565.8 422.3 570.7 C421.6 575.6 419.9 571.2 419.3 570.9 C418.7 570.6 420.1 569.4 418.8 569.1 C417.5 568.8 413.0 568.7 411.7 569.1 C410.4 569.5 411.8 570.9 411.1 571.3 C410.4 571.7 408.3 574.4 407.6 571.3 C406.9 568.2 407.5 559.0 407.1 552.6 C406.7 546.2 406.2 538.4 405.4 532.9 C404.6 527.4 403.4 523.6 402.2 519.8 C401.0 516.0 398.7 513.2 398.3 509.9 C397.9 506.6 399.0 503.0 400.0 500.1 C401.0 497.2 402.4 494.8 404.5 492.4 C406.6 490.0 410.0 487.3 412.8 485.9 C415.6 484.4 418.6 483.8 421.5 483.7 Z" fill="none" stroke="#e4e4e4" stroke-width="1.6" opacity="0.6"/>
<path d="M432.5 506.3 C431.9 506.9 429.8 507.1 428.6 509.9 C427.4 512.7 426.4 517.8 425.5 523.1 C424.6 528.4 423.9 533.8 423.4 541.7 C422.9 549.6 422.5 565.9 422.3 570.7" fill="none" stroke="#f2f2f2" stroke-width="3.6" opacity="0.95"/>
<path d="M407.6 571.3 C407.5 568.2 407.5 559.0 407.1 552.6 C406.7 546.2 406.2 538.4 405.4 532.9 C404.6 527.4 403.4 523.6 402.2 519.8 C401.0 516.0 398.7 513.2 398.3 509.9 C397.9 506.6 399.7 501.7 400.0 500.1" fill="none" stroke="#f2f2f2" stroke-width="3.6" opacity="0.95"/>
<path d="M401.5 513 C401 504 404 498.5 410 497 C415 496.5 419.5 499 421.5 503 C423 499.5 426.5 498.5 429 500.5 C431 502.5 431 505 430 507" fill="none" stroke="#e9e9e9" stroke-width="1.0" opacity="0.85"/>
</g>
<circle cx="440.10" cy="503.40" r="1.20" fill="#e8e8e8"/>
<g filter="url(#sp79)"><path d="M240 596 C246 611 257 623 268.5 628 C281 621 292 606 299 590" fill="none" stroke="#000" stroke-opacity="0.8" stroke-width="9" stroke-linecap="round"/><path d="M244 597 C256 590 284 586 297 590" fill="none" stroke="#000" stroke-opacity="0.35" stroke-width="6"/><path d="M252 604 C262 600 278 598 290 598 L270 622 Z" fill="#000" fill-opacity="0.18"/><ellipse cx="268" cy="623.5" rx="9" ry="5" fill="#000" fill-opacity="0.9"/><ellipse cx="243" cy="600" rx="5" ry="6" fill="#000" fill-opacity="0.5"/></g>
<g filter="url(#sp80)"><path d="M318 593 C325 607 335 618 346 624.5 C356 617 365 605 370 592" fill="none" stroke="#000" stroke-opacity="0.85" stroke-width="8.5" stroke-linecap="round"/><path d="M322 592 C335 586 358 585 368 590" fill="none" stroke="#000" stroke-opacity="0.35" stroke-width="5"/><path d="M328 598 L352 606 M326 604 L340 612" fill="none" stroke="#000" stroke-opacity="0.5" stroke-width="2.5"/><ellipse cx="345.5" cy="619" rx="10.5" ry="6.5" fill="#000"/></g>
<g filter="url(#sp81)"><path d="M391.5 594.3 C392.1 591.4 395.4 589.6 400.0 588.0 C404.6 586.4 413.1 584.8 419.3 584.6 C425.5 584.4 433.0 585.4 437.0 586.6 C441.0 587.8 442.5 589.2 443.4 591.6 C444.3 594.0 444.2 597.3 442.6 601.0 C441.0 604.7 437.4 609.5 434.0 614.0 C430.6 618.5 426.2 627.5 422.0 628.2 C417.8 628.9 413.3 621.9 409.0 618.0 C404.7 614.1 399.2 609.1 396.3 605.1 C393.4 601.1 390.9 597.1 391.5 594.3 Z" fill="#000"/><ellipse cx="419" cy="596" rx="11" ry="6.5" fill="#2b3467" fill-opacity="0"/></g>
<g filter="url(#sp82)"><ellipse cx="419.5" cy="596.5" rx="10" ry="5.5" fill="#000"/></g>
<g filter="url(#sp83)"><path d="M244 654.2 L293 654.2 L286 685 L250.5 685 Z" fill="#000" fill-opacity="0.55"/><path d="M246 654.2 L292 654.2 L290 661 L248 661 Z" fill="#000" fill-opacity="0.5"/><path d="M259 655 L285 655 L283 669 L263 669 Z" fill="#000" fill-opacity="0.55"/></g>
<g filter="url(#sp84)"><path d="M323.5 654.2 L364.6 654.2 L358.5 684 L330.5 684 Z" fill="#000" fill-opacity="0.55"/><path d="M325 654.2 L363.5 654.2 L362 661 L327 661 Z" fill="#000" fill-opacity="0.5"/><path d="M331 655 L360 655 L357 672 L336 672 Z" fill="#000" fill-opacity="0.6"/></g>
<g filter="url(#sp85)"><path d="M398.3 654.6 L439.2 654.2 L434.4 681.0 L421 687 L407.0 682.4 Z" fill="#000"/></g>
<text x="32.70" y="537.10" font-size="8.6" text-anchor="middle" font-weight="normal" fill="#222">PBS</text>
<text x="108.80" y="503.10" font-size="8.6" text-anchor="middle" font-weight="normal" fill="#222">WT</text>
<text x="179.30" y="503.10" font-size="8.6" text-anchor="middle" font-weight="normal" fill="#222">KO</text>
<path d="M29.6 542 V565.2 C29.6 568.6 35.9 568.6 35.9 565.2 V542" fill="#fff" stroke="#444" stroke-width="0.7"/>
<path d="M30.1 551.2 H35.4 V565.1 C35.4 568 30.1 568 30.1 565.1 Z" fill="#f2e7b4"/>
<line x1="33.10" y1="574.00" x2="33.10" y2="584.00" stroke="#222" stroke-width="0.75"/>
<path d="M31.60 582.60 L33.10 585.60 L34.60 582.60 Z" fill="#222"/>
<line x1="105.20" y1="536.80" x2="105.20" y2="546.60" stroke="#222" stroke-width="0.75"/>
<path d="M103.70 545.20 L105.20 548.20 L106.70 545.20 Z" fill="#222"/>
<line x1="177.70" y1="536.80" x2="177.70" y2="546.60" stroke="#222" stroke-width="0.75"/>
<path d="M176.20 545.20 L177.70 548.20 L179.20 545.20 Z" fill="#222"/>
<line x1="105.70" y1="575.60" x2="105.70" y2="585.20" stroke="#222" stroke-width="0.75"/>
<path d="M104.20 583.80 L105.70 586.80 L107.20 583.80 Z" fill="#222"/>
<line x1="177.80" y1="575.60" x2="177.80" y2="584.80" stroke="#222" stroke-width="0.75"/>
<path d="M176.30 583.40 L177.80 586.40 L179.30 583.40 Z" fill="#222"/>
<line x1="33.90" y1="622.00" x2="33.90" y2="631.00" stroke="#222" stroke-width="0.75"/>
<path d="M32.40 629.60 L33.90 632.60 L35.40 629.60 Z" fill="#222"/>
<line x1="105.90" y1="622.40" x2="105.90" y2="631.40" stroke="#222" stroke-width="0.75"/>
<path d="M104.40 630.00 L105.90 633.00 L107.40 630.00 Z" fill="#222"/>
<line x1="177.80" y1="622.80" x2="177.80" y2="631.60" stroke="#222" stroke-width="0.75"/>
<path d="M176.30 630.20 L177.80 633.20 L179.30 630.20 Z" fill="#222"/>
<g transform="translate(78.20 525.00)" fill="none" stroke="#222" stroke-width="0.7" stroke-linecap="round" stroke-linejoin="round">
<path d="M45.6 -3.3 C50 -1.7 56 0.9 59.2 3.8" stroke="#3a2a2a" stroke-width="0.55"/>
<path d="M46.2 -2.2 C50.5 -0.8 55.2 1.4 58.2 3.8" stroke="#b78d8d" stroke-width="0.9"/>
<path d="M59.2 3.8 C60 5.4 58.4 5.8 56.5 5.7 C46 5.4 30 6.4 17.5 7.6" stroke="#3a2a2a" stroke-width="1.15"/>
<path d="M26 7.9 C31 8.6 36 8.2 39 7.1" stroke="#3a2a2a" stroke-width="0.6"/>
<path d="M17.6 -13.6 C21 -15.8 25 -17.4 29 -17.9 C33 -18.4 37 -17.6 40 -15.4 C43.5 -12.8 46 -8.6 46.6 -4.6 C47 -1 45 2.6 42 4.8 C40.8 5.8 39.6 6.5 38.4 6.9" fill="#fff"/>
<path d="M5.8 -10.9 C3.6 -8.6 1.6 -5 0.3 -1.2 C-0.2 0.2 0.6 1 2.2 1.3 C4.6 1.7 6.6 1 8.6 1.3 C10.6 1.7 12.4 2.6 13.6 4" fill="#fff"/>
<path d="M13.6 4 C14.6 5.2 14.8 6.4 14.2 7.2 C13.6 8 12.4 8 11.6 8.4 C13 9.2 15 9.6 16.6 9.9 C16.8 8 17.6 5.8 18.8 4.6 C19.4 3.9 20.2 3.4 20.8 3.1"/>
<path d="M16.6 9.9 C15.6 8.8 15.8 7.6 17 7.2"/>
<path d="M28.8 0.6 C27.4 2.2 27.2 4.6 28.2 5.8 C30 7.2 33.4 7.2 36 6.8"/>
<path d="M5.8 -10.9 C5.6 -13.6 6.4 -16.8 8.2 -18.2 C10.2 -17.4 11.8 -15.4 12.3 -13.6" fill="#fff"/>
<path d="M6.9 -12.2 C7 -14.2 7.6 -15.9 8.5 -16.8 C9.7 -15.9 10.7 -14.6 11.1 -13.3 C9.8 -12.4 8.2 -11.9 6.9 -12.2 Z" fill="#f2a9ad" stroke="none"/>
<path d="M11.8 -10.4 C12.2 -12.8 13.4 -15.2 15.3 -16.1 C17.4 -14.8 18.6 -11.4 18.2 -8.6 C17.9 -6.8 17 -5.2 15.8 -4.5" fill="#fff"/>
<path d="M13 -10.2 C13.4 -12 14.2 -13.8 15.4 -14.6 C16.8 -13.4 17.5 -11 17.2 -9 C17 -7.8 16.4 -6.8 15.8 -6.2 C14.6 -7.2 13.4 -8.6 13 -10.2 Z" fill="#f2a9ad" stroke="none"/>
<circle cx="6.4" cy="-5.1" r="1.25" fill="#111" stroke="none"/>
<path d="M1.2 -0.4 L-3.4 -2.6 M1 0 L-3.8 0.3 M1.6 0.6 L-0.8 4 M2.2 0.8 L1.6 5.2 M2.8 0.9 L4.6 4.6 M1 -0.2 L-1.6 -3.4" stroke-width="0.45"/>
</g>
<g transform="translate(151.00 525.00)" fill="none" stroke="#4a3fc0" stroke-width="0.7" stroke-linecap="round" stroke-linejoin="round">
<path d="M45.6 -3.3 C50 -1.7 56 0.9 59.2 3.8" stroke="#4c44bc" stroke-width="0.55"/>
<path d="M46.2 -2.2 C50.5 -0.8 55.2 1.4 58.2 3.8" stroke="#8a80e0" stroke-width="0.9"/>
<path d="M59.2 3.8 C60 5.4 58.4 5.8 56.5 5.7 C46 5.4 30 6.4 17.5 7.6" stroke="#4c44bc" stroke-width="0.8"/>
<path d="M26 7.9 C31 8.6 36 8.2 39 7.1" stroke="#4c44bc" stroke-width="0.6"/>
<path d="M17.6 -13.6 C21 -15.8 25 -17.4 29 -17.9 C33 -18.4 37 -17.6 40 -15.4 C43.5 -12.8 46 -8.6 46.6 -4.6 C47 -1 45 2.6 42 4.8 C40.8 5.8 39.6 6.5 38.4 6.9" fill="#fff"/>
<path d="M5.8 -10.9 C3.6 -8.6 1.6 -5 0.3 -1.2 C-0.2 0.2 0.6 1 2.2 1.3 C4.6 1.7 6.6 1 8.6 1.3 C10.6 1.7 12.4 2.6 13.6 4" fill="#fff"/>
<path d="M13.6 4 C14.6 5.2 14.8 6.4 14.2 7.2 C13.6 8 12.4 8 11.6 8.4 C13 9.2 15 9.6 16.6 9.9 C16.8 8 17.6 5.8 18.8 4.6 C19.4 3.9 20.2 3.4 20.8 3.1"/>
<path d="M16.6 9.9 C15.6 8.8 15.8 7.6 17 7.2"/>
<path d="M28.8 0.6 C27.4 2.2 27.2 4.6 28.2 5.8 C30 7.2 33.4 7.2 36 6.8"/>
<path d="M5.8 -10.9 C5.6 -13.6 6.4 -16.8 8.2 -18.2 C10.2 -17.4 11.8 -15.4 12.3 -13.6" fill="#fff"/>
<path d="M6.9 -12.2 C7 -14.2 7.6 -15.9 8.5 -16.8 C9.7 -15.9 10.7 -14.6 11.1 -13.3 C9.8 -12.4 8.2 -11.9 6.9 -12.2 Z" fill="#f2a9ad" stroke="none"/>
<path d="M11.8 -10.4 C12.2 -12.8 13.4 -15.2 15.3 -16.1 C17.4 -14.8 18.6 -11.4 18.2 -8.6 C17.9 -6.8 17 -5.2 15.8 -4.5" fill="#fff"/>
<path d="M13 -10.2 C13.4 -12 14.2 -13.8 15.4 -14.6 C16.8 -13.4 17.5 -11 17.2 -9 C17 -7.8 16.4 -6.8 15.8 -6.2 C14.6 -7.2 13.4 -8.6 13 -10.2 Z" fill="#f2a9ad" stroke="none"/>
<circle cx="6.4" cy="-5.1" r="1.25" fill="#4a3fc0" stroke="none"/>
<path d="M1.2 -0.4 L-3.4 -2.6 M1 0 L-3.8 0.3 M1.6 0.6 L-0.8 4 M2.2 0.8 L1.6 5.2 M2.8 0.9 L4.6 4.6 M1 -0.2 L-1.6 -3.4" stroke-width="0.45"/>
</g>
<g clip-path="url(#m1c)">
<g transform="translate(11.60 608.60)" fill="none" stroke="#222" stroke-width="0.7" stroke-linecap="round" stroke-linejoin="round">
<path d="M45.6 -3.3 C50 -1.7 56 0.9 59.2 3.8" stroke="#3a2a2a" stroke-width="0.55"/>
<path d="M46.2 -2.2 C50.5 -0.8 55.2 1.4 58.2 3.8" stroke="#b78d8d" stroke-width="0.9"/>
<path d="M59.2 3.8 C60 5.4 58.4 5.8 56.5 5.7 C46 5.4 30 6.4 17.5 7.6" stroke="#3a2a2a" stroke-width="1.15"/>
<path d="M26 7.9 C31 8.6 36 8.2 39 7.1" stroke="#3a2a2a" stroke-width="0.6"/>
<path d="M17.6 -13.6 C21 -15.8 25 -17.4 29 -17.9 C33 -18.4 37 -17.6 40 -15.4 C43.5 -12.8 46 -8.6 46.6 -4.6 C47 -1 45 2.6 42 4.8 C40.8 5.8 39.6 6.5 38.4 6.9" fill="#fff"/>
<path d="M5.8 -10.9 C3.6 -8.6 1.6 -5 0.3 -1.2 C-0.2 0.2 0.6 1 2.2 1.3 C4.6 1.7 6.6 1 8.6 1.3 C10.6 1.7 12.4 2.6 13.6 4" fill="#fff"/>
<path d="M13.6 4 C14.6 5.2 14.8 6.4 14.2 7.2 C13.6 8 12.4 8 11.6 8.4 C13 9.2 15 9.6 16.6 9.9 C16.8 8 17.6 5.8 18.8 4.6 C19.4 3.9 20.2 3.4 20.8 3.1"/>
<path d="M16.6 9.9 C15.6 8.8 15.8 7.6 17 7.2"/>
<path d="M28.8 0.6 C27.4 2.2 27.2 4.6 28.2 5.8 C30 7.2 33.4 7.2 36 6.8"/>
<path d="M5.8 -10.9 C5.6 -13.6 6.4 -16.8 8.2 -18.2 C10.2 -17.4 11.8 -15.4 12.3 -13.6" fill="#fff"/>
<path d="M6.9 -12.2 C7 -14.2 7.6 -15.9 8.5 -16.8 C9.7 -15.9 10.7 -14.6 11.1 -13.3 C9.8 -12.4 8.2 -11.9 6.9 -12.2 Z" fill="#f2a9ad" stroke="none"/>
<path d="M11.8 -10.4 C12.2 -12.8 13.4 -15.2 15.3 -16.1 C17.4 -14.8 18.6 -11.4 18.2 -8.6 C17.9 -6.8 17 -5.2 15.8 -4.5" fill="#fff"/>
<path d="M13 -10.2 C13.4 -12 14.2 -13.8 15.4 -14.6 C16.8 -13.4 17.5 -11 17.2 -9 C17 -7.8 16.4 -6.8 15.8 -6.2 C14.6 -7.2 13.4 -8.6 13 -10.2 Z" fill="#f2a9ad" stroke="none"/>
<circle cx="6.4" cy="-5.1" r="1.25" fill="#111" stroke="none"/>
<path d="M1.2 -0.4 L-3.4 -2.6 M1 0 L-3.8 0.3 M1.6 0.6 L-0.8 4 M2.2 0.8 L1.6 5.2 M2.8 0.9 L4.6 4.6 M1 -0.2 L-1.6 -3.4" stroke-width="0.45"/>
</g>
</g>
<g transform="translate(79.60 608.60)" fill="none" stroke="#222" stroke-width="0.7" stroke-linecap="round" stroke-linejoin="round">
<path d="M45.6 -3.3 C50 -1.7 56 0.9 59.2 3.8" stroke="#3a2a2a" stroke-width="0.55"/>
<path d="M46.2 -2.2 C50.5 -0.8 55.2 1.4 58.2 3.8" stroke="#b78d8d" stroke-width="0.9"/>
<path d="M59.2 3.8 C60 5.4 58.4 5.8 56.5 5.7 C46 5.4 30 6.4 17.5 7.6" stroke="#3a2a2a" stroke-width="1.15"/>
<path d="M26 7.9 C31 8.6 36 8.2 39 7.1" stroke="#3a2a2a" stroke-width="0.6"/>
<path d="M17.6 -13.6 C21 -15.8 25 -17.4 29 -17.9 C33 -18.4 37 -17.6 40 -15.4 C43.5 -12.8 46 -8.6 46.6 -4.6 C47 -1 45 2.6 42 4.8 C40.8 5.8 39.6 6.5 38.4 6.9" fill="#fff"/>
<path d="M5.8 -10.9 C3.6 -8.6 1.6 -5 0.3 -1.2 C-0.2 0.2 0.6 1 2.2 1.3 C4.6 1.7 6.6 1 8.6 1.3 C10.6 1.7 12.4 2.6 13.6 4" fill="#fff"/>
<path d="M13.6 4 C14.6 5.2 14.8 6.4 14.2 7.2 C13.6 8 12.4 8 11.6 8.4 C13 9.2 15 9.6 16.6 9.9 C16.8 8 17.6 5.8 18.8 4.6 C19.4 3.9 20.2 3.4 20.8 3.1"/>
<path d="M16.6 9.9 C15.6 8.8 15.8 7.6 17 7.2"/>
<path d="M28.8 0.6 C27.4 2.2 27.2 4.6 28.2 5.8 C30 7.2 33.4 7.2 36 6.8"/>
<path d="M5.8 -10.9 C5.6 -13.6 6.4 -16.8 8.2 -18.2 C10.2 -17.4 11.8 -15.4 12.3 -13.6" fill="#fff"/>
<path d="M6.9 -12.2 C7 -14.2 7.6 -15.9 8.5 -16.8 C9.7 -15.9 10.7 -14.6 11.1 -13.3 C9.8 -12.4 8.2 -11.9 6.9 -12.2 Z" fill="#f2a9ad" stroke="none"/>
<path d="M11.8 -10.4 C12.2 -12.8 13.4 -15.2 15.3 -16.1 C17.4 -14.8 18.6 -11.4 18.2 -8.6 C17.9 -6.8 17 -5.2 15.8 -4.5" fill="#fff"/>
<path d="M13 -10.2 C13.4 -12 14.2 -13.8 15.4 -14.6 C16.8 -13.4 17.5 -11 17.2 -9 C17 -7.8 16.4 -6.8 15.8 -6.2 C14.6 -7.2 13.4 -8.6 13 -10.2 Z" fill="#f2a9ad" stroke="none"/>
<circle cx="6.4" cy="-5.1" r="1.25" fill="#111" stroke="none"/>
<path d="M1.2 -0.4 L-3.4 -2.6 M1 0 L-3.8 0.3 M1.6 0.6 L-0.8 4 M2.2 0.8 L1.6 5.2 M2.8 0.9 L4.6 4.6 M1 -0.2 L-1.6 -3.4" stroke-width="0.45"/>
</g>
<g transform="translate(150.30 608.60)" fill="none" stroke="#222" stroke-width="0.7" stroke-linecap="round" stroke-linejoin="round">
<path d="M45.6 -3.3 C50 -1.7 56 0.9 59.2 3.8" stroke="#3a2a2a" stroke-width="0.55"/>
<path d="M46.2 -2.2 C50.5 -0.8 55.2 1.4 58.2 3.8" stroke="#b78d8d" stroke-width="0.9"/>
<path d="M59.2 3.8 C60 5.4 58.4 5.8 56.5 5.7 C46 5.4 30 6.4 17.5 7.6" stroke="#3a2a2a" stroke-width="1.15"/>
<path d="M26 7.9 C31 8.6 36 8.2 39 7.1" stroke="#3a2a2a" stroke-width="0.6"/>
<path d="M17.6 -13.6 C21 -15.8 25 -17.4 29 -17.9 C33 -18.4 37 -17.6 40 -15.4 C43.5 -12.8 46 -8.6 46.6 -4.6 C47 -1 45 2.6 42 4.8 C40.8 5.8 39.6 6.5 38.4 6.9" fill="#fff"/>
<path d="M5.8 -10.9 C3.6 -8.6 1.6 -5 0.3 -1.2 C-0.2 0.2 0.6 1 2.2 1.3 C4.6 1.7 6.6 1 8.6 1.3 C10.6 1.7 12.4 2.6 13.6 4" fill="#fff"/>
<path d="M13.6 4 C14.6 5.2 14.8 6.4 14.2 7.2 C13.6 8 12.4 8 11.6 8.4 C13 9.2 15 9.6 16.6 9.9 C16.8 8 17.6 5.8 18.8 4.6 C19.4 3.9 20.2 3.4 20.8 3.1"/>
<path d="M16.6 9.9 C15.6 8.8 15.8 7.6 17 7.2"/>
<path d="M28.8 0.6 C27.4 2.2 27.2 4.6 28.2 5.8 C30 7.2 33.4 7.2 36 6.8"/>
<path d="M5.8 -10.9 C5.6 -13.6 6.4 -16.8 8.2 -18.2 C10.2 -17.4 11.8 -15.4 12.3 -13.6" fill="#fff"/>
<path d="M6.9 -12.2 C7 -14.2 7.6 -15.9 8.5 -16.8 C9.7 -15.9 10.7 -14.6 11.1 -13.3 C9.8 -12.4 8.2 -11.9 6.9 -12.2 Z" fill="#f2a9ad" stroke="none"/>
<path d="M11.8 -10.4 C12.2 -12.8 13.4 -15.2 15.3 -16.1 C17.4 -14.8 18.6 -11.4 18.2 -8.6 C17.9 -6.8 17 -5.2 15.8 -4.5" fill="#fff"/>
<path d="M13 -10.2 C13.4 -12 14.2 -13.8 15.4 -14.6 C16.8 -13.4 17.5 -11 17.2 -9 C17 -7.8 16.4 -6.8 15.8 -6.2 C14.6 -7.2 13.4 -8.6 13 -10.2 Z" fill="#f2a9ad" stroke="none"/>
<circle cx="6.4" cy="-5.1" r="1.25" fill="#111" stroke="none"/>
<path d="M1.2 -0.4 L-3.4 -2.6 M1 0 L-3.8 0.3 M1.6 0.6 L-0.8 4 M2.2 0.8 L1.6 5.2 M2.8 0.9 L4.6 4.6 M1 -0.2 L-1.6 -3.4" stroke-width="0.45"/>
</g>
<g transform="translate(0.00 0)">
<path d="M90.0 559.6 C94.5 558.5 96.5 553.8 101.5 553.8 C106.5 553.8 108.5 556.8 113.0 556.2 C109.5 558.2 106.5 562.2 101.5 562.2 C96.5 562.2 93.5 560.0 90.0 559.6 Z" fill="#d9b3da" stroke="#9c6fa8" stroke-width="0.45"/>
<ellipse cx="101.5" cy="558.0" rx="2.4" ry="1.9" fill="#e4528c" stroke="#b43a6e" stroke-width="0.35"/>
<path d="M97.9 562.5 C102.4 561.4 104.4 556.7 109.4 556.7 C114.4 556.7 116.4 559.7 120.9 559.1 C117.4 561.1 114.4 565.1 109.4 565.1 C104.4 565.1 101.4 562.9 97.9 562.5 Z" fill="#d9b3da" stroke="#9c6fa8" stroke-width="0.45"/>
<ellipse cx="109.4" cy="560.9" rx="2.4" ry="1.9" fill="#e4528c" stroke="#b43a6e" stroke-width="0.35"/>
<path d="M82.2 565.8 C86.7 564.7 88.7 560.0 93.7 560.0 C98.7 560.0 100.7 563.0 105.2 562.4 C101.7 564.4 98.7 568.4 93.7 568.4 C88.7 568.4 85.7 566.2 82.2 565.8 Z" fill="#d9b3da" stroke="#9c6fa8" stroke-width="0.45"/>
<ellipse cx="93.7" cy="564.2" rx="2.4" ry="1.9" fill="#e4528c" stroke="#b43a6e" stroke-width="0.35"/>
<path d="M105.1 567.8 C109.6 566.7 111.6 562.0 116.6 562.0 C121.6 562.0 123.6 565.0 128.1 564.4 C124.6 566.4 121.6 570.4 116.6 570.4 C111.6 570.4 108.6 568.2 105.1 567.8 Z" fill="#d9b3da" stroke="#9c6fa8" stroke-width="0.45"/>
<ellipse cx="116.6" cy="566.2" rx="2.4" ry="1.9" fill="#e4528c" stroke="#b43a6e" stroke-width="0.35"/>
<path d="M90.2 567.9 C94.7 566.8 96.7 562.1 101.7 562.1 C106.7 562.1 108.7 565.1 113.2 564.5 C109.7 566.5 106.7 570.5 101.7 570.5 C96.7 570.5 93.7 568.3 90.2 567.9 Z" fill="#d9b3da" stroke="#9c6fa8" stroke-width="0.45"/>
<ellipse cx="101.7" cy="566.3" rx="2.4" ry="1.9" fill="#e4528c" stroke="#b43a6e" stroke-width="0.35"/>
</g>
<g transform="translate(72.00 0)">
<path d="M90.0 559.6 C94.5 558.5 96.5 553.8 101.5 553.8 C106.5 553.8 108.5 556.8 113.0 556.2 C109.5 558.2 106.5 562.2 101.5 562.2 C96.5 562.2 93.5 560.0 90.0 559.6 Z" fill="#b4c4ea" stroke="#6f86c4" stroke-width="0.45"/>
<ellipse cx="101.5" cy="558.0" rx="2.4" ry="1.9" fill="#e064a4" stroke="#a84a90" stroke-width="0.35"/>
<path d="M97.9 562.5 C102.4 561.4 104.4 556.7 109.4 556.7 C114.4 556.7 116.4 559.7 120.9 559.1 C117.4 561.1 114.4 565.1 109.4 565.1 C104.4 565.1 101.4 562.9 97.9 562.5 Z" fill="#b4c4ea" stroke="#6f86c4" stroke-width="0.45"/>
<ellipse cx="109.4" cy="560.9" rx="2.4" ry="1.9" fill="#e064a4" stroke="#a84a90" stroke-width="0.35"/>
<path d="M82.2 565.8 C86.7 564.7 88.7 560.0 93.7 560.0 C98.7 560.0 100.7 563.0 105.2 562.4 C101.7 564.4 98.7 568.4 93.7 568.4 C88.7 568.4 85.7 566.2 82.2 565.8 Z" fill="#b4c4ea" stroke="#6f86c4" stroke-width="0.45"/>
<ellipse cx="93.7" cy="564.2" rx="2.4" ry="1.9" fill="#e064a4" stroke="#a84a90" stroke-width="0.35"/>
<path d="M105.1 567.8 C109.6 566.7 111.6 562.0 116.6 562.0 C121.6 562.0 123.6 565.0 128.1 564.4 C124.6 566.4 121.6 570.4 116.6 570.4 C111.6 570.4 108.6 568.2 105.1 567.8 Z" fill="#b4c4ea" stroke="#6f86c4" stroke-width="0.45"/>
<ellipse cx="116.6" cy="566.2" rx="2.4" ry="1.9" fill="#e064a4" stroke="#a84a90" stroke-width="0.35"/>
<path d="M90.2 567.9 C94.7 566.8 96.7 562.1 101.7 562.1 C106.7 562.1 108.7 565.1 113.2 564.5 C109.7 566.5 106.7 570.5 101.7 570.5 C96.7 570.5 93.7 568.3 90.2 567.9 Z" fill="#b4c4ea" stroke="#6f86c4" stroke-width="0.45"/>
<ellipse cx="101.7" cy="566.3" rx="2.4" ry="1.9" fill="#e064a4" stroke="#a84a90" stroke-width="0.35"/>
</g>
<rect x="6.20" y="636.30" width="53.60" height="41.20" fill="#fff" stroke="#666" stroke-width="0.9"/>
<g transform="translate(0.00 0)" fill="none" stroke-linecap="round">
<path d="M42.6 636.3 V643.4" stroke="#444" stroke-width="0.7"/>
<path d="M38.5 646.2 C39.4 644.2 41 643.3 42.6 643.3 C44.4 643.3 45.8 644.3 46.5 645.8" stroke="#4a4a4a" stroke-width="1.3"/>
<path d="M38.5 646.2 C37.6 649 36.8 652.4 36.1 655.6" stroke="#a88484" stroke-width="0.9"/>
<path d="M46.5 645.8 C48.2 650 50 654 52.2 657 C54 659.6 56 662 58 663.8" stroke="#7a5f5f" stroke-width="0.9"/>
<path d="M36.1 655.6 C33.6 654.6 31 654.6 29.3 655.3 C26.8 656.6 24.6 658.6 23 660.2 C21 662.2 19.6 664 18.2 665.8" stroke="#999" stroke-width="0.5"/>
<path d="M36.1 655.6 C37.6 657.4 38.2 659.6 38.2 662 C38.4 664.4 38.8 666.4 38.4 668 C37.6 669.4 36.2 670.6 35.2 672.2 M36.8 668 C34.8 667.4 32.8 666.8 31 666.6 M30.6 665.2 C31.2 666 31.6 666.8 31 667.4 C28.4 668.2 25.4 669.4 23 670.8 C21 672.4 19.2 674.6 17.4 676.8" stroke="#aaa" stroke-width="0.5"/>
<path d="M13.4 666.6 C13.6 665.4 14.2 664.8 14.8 664.8 C15.6 665.4 16 666.4 16 667.2 M16.4 667.6 C16.8 666.4 17.4 665.8 18 665.8 C18.8 666.6 19 667.8 18.6 669" stroke="#e89aa0" stroke-width="0.6"/>
<path d="M13.4 666.8 C11.8 668.4 10.4 670.4 9.4 672.4 C10 673.6 11.6 674 13 674.2 C14.6 674.6 16 675.6 17.4 676.8" stroke="#aaa" stroke-width="0.5"/>
<circle cx="13.5" cy="670.5" r="0.75" fill="#111"/><circle cx="11.6" cy="670.3" r="0.5" fill="#222"/>
<path d="M9.6 672.6 L8.2 671.8 M9.8 673.2 L8.4 674.2 M10.4 673.6 L10.2 675.2" stroke="#666" stroke-width="0.35"/>
</g>
<rect x="78.40" y="636.30" width="53.40" height="41.20" fill="#fff" stroke="#666" stroke-width="0.9"/>
<g transform="translate(72.00 0)" fill="none" stroke-linecap="round">
<path d="M42.6 636.3 V643.4" stroke="#444" stroke-width="0.7"/>
<path d="M38.5 646.2 C39.4 644.2 41 643.3 42.6 643.3 C44.4 643.3 45.8 644.3 46.5 645.8" stroke="#4a4a4a" stroke-width="1.3"/>
<path d="M38.5 646.2 C37.6 649 36.8 652.4 36.1 655.6" stroke="#a88484" stroke-width="0.9"/>
<path d="M46.5 645.8 C48.2 650 50 654 52.2 657 C54 659.6 56 662 58 663.8" stroke="#7a5f5f" stroke-width="0.9"/>
<path d="M36.1 655.6 C33.6 654.6 31 654.6 29.3 655.3 C26.8 656.6 24.6 658.6 23 660.2 C21 662.2 19.6 664 18.2 665.8" stroke="#999" stroke-width="0.5"/>
<path d="M36.1 655.6 C37.6 657.4 38.2 659.6 38.2 662 C38.4 664.4 38.8 666.4 38.4 668 C37.6 669.4 36.2 670.6 35.2 672.2 M36.8 668 C34.8 667.4 32.8 666.8 31 666.6 M30.6 665.2 C31.2 666 31.6 666.8 31 667.4 C28.4 668.2 25.4 669.4 23 670.8 C21 672.4 19.2 674.6 17.4 676.8" stroke="#aaa" stroke-width="0.5"/>
<path d="M13.4 666.6 C13.6 665.4 14.2 664.8 14.8 664.8 C15.6 665.4 16 666.4 16 667.2 M16.4 667.6 C16.8 666.4 17.4 665.8 18 665.8 C18.8 666.6 19 667.8 18.6 669" stroke="#e89aa0" stroke-width="0.6"/>
<path d="M13.4 666.8 C11.8 668.4 10.4 670.4 9.4 672.4 C10 673.6 11.6 674 13 674.2 C14.6 674.6 16 675.6 17.4 676.8" stroke="#aaa" stroke-width="0.5"/>
<circle cx="13.5" cy="670.5" r="0.75" fill="#111"/><circle cx="11.6" cy="670.3" r="0.5" fill="#222"/>
<path d="M9.6 672.6 L8.2 671.8 M9.8 673.2 L8.4 674.2 M10.4 673.6 L10.2 675.2" stroke="#666" stroke-width="0.35"/>
</g>
<rect x="147.30" y="636.30" width="53.30" height="41.20" fill="#fff" stroke="#666" stroke-width="0.9"/>
<g transform="translate(140.50 0)" fill="none" stroke-linecap="round">
<path d="M42.6 636.3 V643.4" stroke="#444" stroke-width="0.7"/>
<path d="M38.5 646.2 C39.4 644.2 41 643.3 42.6 643.3 C44.4 643.3 45.8 644.3 46.5 645.8" stroke="#4a4a4a" stroke-width="1.3"/>
<path d="M38.5 646.2 C37.6 649 36.8 652.4 36.1 655.6" stroke="#a88484" stroke-width="0.9"/>
<path d="M46.5 645.8 C48.2 650 50 654 52.2 657 C54 659.6 56 662 58 663.8" stroke="#7a5f5f" stroke-width="0.9"/>
<path d="M36.1 655.6 C33.6 654.6 31 654.6 29.3 655.3 C26.8 656.6 24.6 658.6 23 660.2 C21 662.2 19.6 664 18.2 665.8" stroke="#999" stroke-width="0.5"/>
<path d="M36.1 655.6 C37.6 657.4 38.2 659.6 38.2 662 C38.4 664.4 38.8 666.4 38.4 668 C37.6 669.4 36.2 670.6 35.2 672.2 M36.8 668 C34.8 667.4 32.8 666.8 31 666.6 M30.6 665.2 C31.2 666 31.6 666.8 31 667.4 C28.4 668.2 25.4 669.4 23 670.8 C21 672.4 19.2 674.6 17.4 676.8" stroke="#aaa" stroke-width="0.5"/>
<path d="M13.4 666.6 C13.6 665.4 14.2 664.8 14.8 664.8 C15.6 665.4 16 666.4 16 667.2 M16.4 667.6 C16.8 666.4 17.4 665.8 18 665.8 C18.8 666.6 19 667.8 18.6 669" stroke="#e89aa0" stroke-width="0.6"/>
<path d="M13.4 666.8 C11.8 668.4 10.4 670.4 9.4 672.4 C10 673.6 11.6 674 13 674.2 C14.6 674.6 16 675.6 17.4 676.8" stroke="#aaa" stroke-width="0.5"/>
<circle cx="13.5" cy="670.5" r="0.75" fill="#111"/><circle cx="11.6" cy="670.3" r="0.5" fill="#222"/>
<path d="M9.6 672.6 L8.2 671.8 M9.8 673.2 L8.4 674.2 M10.4 673.6 L10.2 675.2" stroke="#666" stroke-width="0.35"/>
</g>
<text x="286.80" y="764.50" font-size="16.1" text-anchor="middle" font-weight="normal" fill="#000">WT-MSCs</text>
<text x="405.20" y="764.50" font-size="16.1" text-anchor="middle" font-weight="normal" fill="#000">KO-MSCs</text>
<text x="223.78" y="822.80" font-size="14.4" text-anchor="middle" font-weight="normal" fill="#111" transform="rotate(-90 223.78 822.80)">GFP+ cells</text>
<g clip-path="url(#kc1)">
<path d="M231.0 876.4 L231.0 876.40 L231.5 876.40 L232.0 876.40 L232.5 876.40 L233.0 876.40 L233.5 876.40 L234.0 876.40 L234.5 876.39 L235.0 876.39 L235.5 876.39 L236.0 876.38 L236.5 876.38 L237.0 876.37 L237.5 876.35 L238.0 876.34 L238.5 876.31 L239.0 876.28 L239.5 876.25 L240.0 876.20 L240.5 876.13 L241.0 876.05 L241.5 875.95 L242.0 875.82 L242.5 875.66 L243.0 875.46 L243.5 875.22 L244.0 874.93 L244.5 874.57 L245.0 874.14 L245.5 873.62 L246.0 873.01 L246.5 872.28 L247.0 871.43 L247.5 870.42 L248.0 869.23 L248.5 867.83 L249.0 866.19 L249.5 864.27 L250.0 862.02 L250.5 859.40 L251.0 856.35 L251.5 852.82 L252.0 848.78 L252.5 844.18 L253.0 839.01 L253.5 833.30 L254.0 827.09 L254.5 820.47 L255.0 813.57 L255.5 806.57 L256.0 799.67 L256.5 793.13 L257.0 787.18 L257.5 782.09 L258.0 778.08 L258.5 775.35 L259.0 774.02 L259.5 774.17 L260.0 775.78 L260.5 778.78 L261.0 783.03 L261.5 788.31 L262.0 794.40 L262.5 801.03 L263.0 807.97 L263.5 814.97 L264.0 821.82 L264.5 828.37 L265.0 834.49 L265.5 840.09 L266.0 845.14 L266.5 849.63 L267.0 853.57 L267.5 857.00 L268.0 859.96 L268.5 862.50 L269.0 864.68 L269.5 866.54 L270.0 868.13 L270.5 869.48 L271.0 870.63 L271.5 871.61 L272.0 872.44 L272.5 873.14 L273.0 873.73 L273.5 874.23 L274.0 874.64 L274.5 874.99 L275.0 875.27 L275.5 875.51 L276.0 875.70 L276.5 875.85 L277.0 875.97 L277.5 876.07 L278.0 876.15 L278.5 876.21 L279.0 876.25 L279.5 876.29 L280.0 876.32 L280.5 876.34 L281.0 876.36 L281.5 876.37 L282.0 876.38 L282.5 876.38 L283.0 876.39 L283.5 876.39 L284.0 876.39 L284.5 876.40 L285.0 876.40 L285.5 876.40 L286.0 876.40 L286.5 876.40 L287.0 876.40 L287.5 876.40 L288.0 876.40 L288.5 876.40 L289.0 876.40 L289.5 876.40 L290.0 876.40 L290.5 876.40 L291.0 876.40 L291.5 876.40 L292.0 876.40 L292.5 876.40 L293.0 876.40 L293.5 876.40 L294.0 876.40 L294.5 876.40 L295.0 876.40 L295.5 876.40 L296.0 876.40 L296.5 876.40 L297.0 876.40 L297.5 876.40 L298.0 876.40 L298.5 876.40 L299.0 876.40 L299.5 876.40 L300.0 876.40 L300.5 876.40 L301.0 876.40 L301.5 876.40 L302.0 876.40 L302.5 876.40 L303.0 876.40 L303.5 876.40 L304.0 876.40 L304.5 876.40 L305.0 876.40 L305.5 876.40 L306.0 876.40 L306.5 876.40 L307.0 876.40 L307.5 876.40 L308.0 876.40 L308.5 876.40 L309.0 876.40 L309.5 876.40 L310.0 876.40 L310.5 876.40 L311.0 876.40 L311.5 876.40 L312.0 876.40 L312.5 876.40 L313.0 876.40 L313.5 876.40 L314.0 876.40 L314.5 876.40 L315.0 876.40 L315.5 876.40 L316.0 876.40 L316.5 876.40 L317.0 876.40 L317.5 876.40 L318.0 876.40 L318.5 876.40 L319.0 876.40 L319.5 876.40 L320.0 876.40 L320.5 876.40 L321.0 876.40 L321.5 876.40 L322.0 876.40 L322.5 876.40 L323.0 876.40 L323.5 876.40 L324.0 876.40 L324.5 876.40 L325.0 876.40 L325.5 876.40 L326.0 876.40 L326.5 876.40 L327.0 876.40 L327.5 876.40 L328.0 876.40 L328.5 876.40 L329.0 876.40 L329.5 876.40 L330.0 876.40 L330.5 876.40 L331.0 876.40 L331.5 876.40 L332.0 876.40 L332.5 876.40 L333.0 876.40 L333.5 876.40 L334.0 876.40 L334.5 876.40 L335.0 876.40 L335.5 876.40 L336.0 876.40 L336.5 876.40 L337.0 876.40 L337.5 876.40 L338.0 876.40 L338.0 876.4 Z" fill="#b4b4b4" stroke="#555" stroke-width="0.55"/>
<path d="M231.0 876.4 L231.0 874.16 L231.5 874.04 L232.0 873.95 L232.5 873.90 L233.0 873.87 L233.5 873.88 L234.0 873.92 L234.5 874.00 L235.0 874.10 L235.5 874.22 L236.0 874.36 L236.5 874.52 L237.0 874.67 L237.5 874.83 L238.0 874.97 L238.5 875.11 L239.0 875.22 L239.5 875.31 L240.0 875.34 L240.5 875.32 L241.0 875.18 L241.5 874.90 L242.0 874.40 L242.5 873.62 L243.0 872.49 L243.5 870.97 L244.0 869.07 L244.5 866.86 L245.0 864.50 L245.5 862.20 L246.0 860.21 L246.5 858.76 L247.0 857.99 L247.5 857.94 L248.0 858.51 L248.5 859.48 L249.0 860.55 L249.5 861.40 L250.0 861.75 L250.5 861.37 L251.0 860.13 L251.5 857.97 L252.0 854.92 L252.5 851.04 L253.0 846.45 L253.5 841.29 L254.0 835.74 L254.5 829.99 L255.0 824.26 L255.5 818.80 L256.0 813.84 L256.5 809.62 L257.0 806.36 L257.5 804.21 L258.0 803.29 L258.5 803.65 L259.0 805.28 L259.5 808.07 L260.0 811.89 L260.5 816.55 L261.0 821.81 L261.5 827.45 L262.0 833.23 L262.5 838.95 L263.0 844.42 L263.5 849.50 L264.0 854.10 L264.5 858.15 L265.0 861.65 L265.5 864.59 L266.0 867.02 L266.5 868.99 L267.0 870.55 L267.5 871.77 L268.0 872.71 L268.5 873.42 L269.0 873.96 L269.5 874.36 L270.0 874.66 L270.5 874.89 L271.0 875.05 L271.5 875.18 L272.0 875.28 L272.5 875.35 L273.0 875.41 L273.5 875.43 L274.0 875.43 L274.5 875.38 L275.0 875.24 L275.5 874.98 L276.0 874.50 L276.5 873.72 L277.0 872.49 L277.5 870.68 L278.0 868.15 L278.5 864.77 L279.0 860.52 L279.5 855.48 L280.0 849.84 L280.5 843.99 L281.0 838.40 L281.5 833.61 L282.0 830.15 L282.5 828.41 L283.0 828.61 L283.5 830.73 L284.0 834.51 L284.5 839.51 L285.0 845.21 L285.5 851.07 L286.0 856.62 L286.5 861.53 L287.0 865.62 L287.5 868.84 L288.0 871.24 L288.5 872.93 L289.0 874.08 L289.5 874.81 L290.0 875.26 L290.5 875.51 L291.0 875.65 L291.5 875.70 L292.0 875.71 L292.5 875.68 L293.0 875.63 L293.5 875.55 L294.0 875.44 L294.5 875.31 L295.0 875.17 L295.5 875.00 L296.0 874.83 L296.5 874.65 L297.0 874.49 L297.5 874.35 L298.0 874.24 L298.5 874.18 L299.0 874.16 L299.5 874.19 L300.0 874.27 L300.5 874.39 L301.0 874.55 L301.5 874.72 L302.0 874.91 L302.5 875.10 L303.0 875.28 L303.5 875.44 L304.0 875.58 L304.5 875.70 L305.0 875.80 L305.5 875.88 L306.0 875.94 L306.5 875.99 L307.0 876.02 L307.5 876.05 L308.0 876.07 L308.5 876.08 L309.0 876.09 L309.5 876.10 L310.0 876.11 L310.5 876.12 L311.0 876.12 L311.5 876.13 L312.0 876.14 L312.5 876.14 L313.0 876.15 L313.5 876.16 L314.0 876.16 L314.5 876.17 L315.0 876.17 L315.5 876.18 L316.0 876.18 L316.5 876.19 L317.0 876.19 L317.5 876.20 L318.0 876.21 L318.5 876.21 L319.0 876.21 L319.5 876.22 L320.0 876.22 L320.5 876.22 L321.0 876.21 L321.5 876.20 L322.0 876.17 L322.5 876.13 L323.0 876.06 L323.5 875.95 L324.0 875.81 L324.5 875.63 L325.0 875.43 L325.5 875.22 L326.0 875.01 L326.5 874.84 L327.0 874.73 L327.5 874.69 L328.0 874.73 L328.5 874.85 L329.0 875.03 L329.5 875.24 L330.0 875.47 L330.5 875.68 L331.0 875.86 L331.5 876.01 L332.0 876.12 L332.5 876.20 L333.0 876.25 L333.5 876.29 L334.0 876.31 L334.5 876.32 L335.0 876.33 L335.5 876.33 L336.0 876.34 L336.5 876.34 L337.0 876.34 L337.5 876.34 L338.0 876.35 L338.0 876.4 Z" fill="#c8323c" fill-opacity="0.52" stroke="#d8323a" stroke-width="0.6"/>
<path d="M246.0 876.4 L246.0 876.07 L246.5 875.90 L247.0 875.64 L247.5 875.27 L248.0 874.75 L248.5 874.03 L249.0 873.07 L249.5 871.80 L250.0 870.16 L250.5 868.09 L251.0 865.53 L251.5 862.44 L252.0 858.80 L252.5 854.61 L253.0 849.91 L253.5 844.77 L254.0 839.33 L254.5 833.73 L255.0 828.18 L255.5 822.89 L256.0 818.09 L256.5 814.01 L257.0 810.86 L257.5 808.79 L258.0 807.93 L258.5 808.30 L259.0 809.90 L259.5 812.63 L260.0 816.36 L260.5 820.90 L261.0 826.02 L261.5 831.49 L262.0 837.10 L262.5 842.62 L263.0 847.90 L263.5 852.79 L264.0 857.19 L264.5 861.05 L265.0 864.36 L265.5 867.13 L266.0 869.39 L266.5 871.19 L267.0 872.60 L267.5 873.68 L268.0 874.49 L268.5 875.08 L269.0 875.51 L269.5 875.81 L270.0 876.01 L270.5 876.15 L271.0 876.24 L271.0 876.4 Z" fill="#8c3038" fill-opacity="0.55" stroke="none"/>
</g>
<rect x="230.50" y="768.60" width="108.40" height="108.30" fill="none" stroke="#6e6e6e" stroke-width="0.9"/>
<line x1="230.50" y1="844.20" x2="273.90" y2="844.20" stroke="#222" stroke-width="0.7"/>
<line x1="273.90" y1="841.80" x2="273.90" y2="851.80" stroke="#222" stroke-width="0.7"/>
<line x1="273.90" y1="849.70" x2="338.90" y2="849.70" stroke="#222" stroke-width="0.7"/>
<line x1="338.60" y1="847.40" x2="338.60" y2="852.00" stroke="#222" stroke-width="0.7"/>
<text x="302.10" y="785.00" font-size="10.0" text-anchor="middle" font-weight="normal" fill="#222">EdU+ MSCs</text>
<text x="271.40" y="803.80" font-size="10.0" text-anchor="start" font-weight="normal" fill="#222">28.5</text>
<text x="295.60" y="803.80" font-size="10.0" text-anchor="start" font-weight="normal" fill="#222">±</text>
<text x="305.60" y="803.80" font-size="10.0" text-anchor="start" font-weight="normal" fill="#222" letter-spacing="0.2">3.59</text>
<text x="326.00" y="803.80" font-size="10.0" text-anchor="start" font-weight="normal" fill="#222">%</text>
<g clip-path="url(#kc2)">
<path d="M350.0 876.4 L350.0 876.40 L350.5 876.40 L351.0 876.40 L351.5 876.40 L352.0 876.39 L352.5 876.39 L353.0 876.39 L353.5 876.38 L354.0 876.38 L354.5 876.37 L355.0 876.36 L355.5 876.35 L356.0 876.33 L356.5 876.31 L357.0 876.28 L357.5 876.24 L358.0 876.20 L358.5 876.14 L359.0 876.06 L359.5 875.97 L360.0 875.86 L360.5 875.72 L361.0 875.54 L361.5 875.33 L362.0 875.08 L362.5 874.78 L363.0 874.42 L363.5 873.99 L364.0 873.49 L364.5 872.90 L365.0 872.21 L365.5 871.40 L366.0 870.47 L366.5 869.38 L367.0 868.11 L367.5 866.64 L368.0 864.94 L368.5 862.97 L369.0 860.68 L369.5 858.05 L370.0 855.02 L370.5 851.56 L371.0 847.62 L371.5 843.19 L372.0 838.26 L372.5 832.84 L373.0 826.98 L373.5 820.75 L374.0 814.27 L374.5 807.67 L375.0 801.12 L375.5 794.84 L376.0 789.03 L376.5 783.91 L377.0 779.68 L377.5 776.52 L378.0 774.56 L378.5 773.90 L379.0 774.56 L379.5 776.52 L380.0 779.68 L380.5 783.91 L381.0 789.03 L381.5 794.84 L382.0 801.12 L382.5 807.67 L383.0 814.27 L383.5 820.75 L384.0 826.98 L384.5 832.84 L385.0 838.26 L385.5 843.19 L386.0 847.62 L386.5 851.56 L387.0 855.02 L387.5 858.05 L388.0 860.68 L388.5 862.97 L389.0 864.94 L389.5 866.64 L390.0 868.11 L390.5 869.38 L391.0 870.47 L391.5 871.40 L392.0 872.21 L392.5 872.90 L393.0 873.49 L393.5 873.99 L394.0 874.42 L394.5 874.78 L395.0 875.08 L395.5 875.33 L396.0 875.54 L396.5 875.72 L397.0 875.86 L397.5 875.97 L398.0 876.06 L398.5 876.14 L399.0 876.20 L399.5 876.24 L400.0 876.28 L400.5 876.31 L401.0 876.33 L401.5 876.35 L402.0 876.36 L402.5 876.37 L403.0 876.38 L403.5 876.38 L404.0 876.39 L404.5 876.39 L405.0 876.39 L405.5 876.40 L406.0 876.40 L406.5 876.40 L407.0 876.40 L407.5 876.40 L408.0 876.40 L408.5 876.40 L409.0 876.40 L409.5 876.40 L410.0 876.40 L410.5 876.40 L411.0 876.40 L411.5 876.40 L412.0 876.40 L412.5 876.40 L413.0 876.40 L413.5 876.40 L414.0 876.40 L414.5 876.40 L415.0 876.40 L415.5 876.40 L416.0 876.40 L416.5 876.40 L417.0 876.40 L417.5 876.40 L418.0 876.40 L418.5 876.40 L419.0 876.40 L419.5 876.40 L420.0 876.40 L420.5 876.40 L421.0 876.40 L421.5 876.40 L422.0 876.40 L422.5 876.40 L423.0 876.40 L423.5 876.40 L424.0 876.40 L424.5 876.40 L425.0 876.40 L425.5 876.40 L426.0 876.40 L426.5 876.40 L427.0 876.40 L427.5 876.40 L428.0 876.40 L428.5 876.40 L429.0 876.40 L429.5 876.40 L430.0 876.40 L430.5 876.40 L431.0 876.40 L431.5 876.40 L432.0 876.40 L432.5 876.40 L433.0 876.40 L433.5 876.40 L434.0 876.40 L434.5 876.40 L435.0 876.40 L435.5 876.40 L436.0 876.40 L436.5 876.40 L437.0 876.40 L437.5 876.40 L438.0 876.40 L438.5 876.40 L439.0 876.40 L439.5 876.40 L440.0 876.40 L440.5 876.40 L441.0 876.40 L441.5 876.40 L442.0 876.40 L442.5 876.40 L443.0 876.40 L443.5 876.40 L444.0 876.40 L444.5 876.40 L445.0 876.40 L445.5 876.40 L446.0 876.40 L446.5 876.40 L447.0 876.40 L447.5 876.40 L448.0 876.40 L448.5 876.40 L449.0 876.40 L449.5 876.40 L450.0 876.40 L450.5 876.40 L451.0 876.40 L451.5 876.40 L452.0 876.40 L452.5 876.40 L453.0 876.40 L453.5 876.40 L454.0 876.40 L454.5 876.40 L455.0 876.40 L455.5 876.40 L456.0 876.40 L456.5 876.40 L457.0 876.40 L457.5 876.40 L458.0 876.40 L458.0 876.4 Z" fill="#b4b4b4" stroke="#555" stroke-width="0.55"/>
<path d="M350.0 876.4 L350.0 866.61 L350.5 866.91 L351.0 869.63 L351.5 872.84 L352.0 875.00 L352.5 875.97 L353.0 876.27 L353.5 876.33 L354.0 876.34 L354.5 876.33 L355.0 876.32 L355.5 876.32 L356.0 876.31 L356.5 876.30 L357.0 876.30 L357.5 876.29 L358.0 876.28 L358.5 876.27 L359.0 876.26 L359.5 876.25 L360.0 876.24 L360.5 876.22 L361.0 876.21 L361.5 876.20 L362.0 876.18 L362.5 876.17 L363.0 876.15 L363.5 876.14 L364.0 876.12 L364.5 876.10 L365.0 876.09 L365.5 876.07 L366.0 876.05 L366.5 876.03 L367.0 876.01 L367.5 875.99 L368.0 875.96 L368.5 875.94 L369.0 875.92 L369.5 875.89 L370.0 875.87 L370.5 875.84 L371.0 875.82 L371.5 875.79 L372.0 875.77 L372.5 875.74 L373.0 875.71 L373.5 875.69 L374.0 875.66 L374.5 875.63 L375.0 875.61 L375.5 875.58 L376.0 875.55 L376.5 875.52 L377.0 875.49 L377.5 875.46 L378.0 875.44 L378.5 875.41 L379.0 875.37 L379.5 875.34 L380.0 875.31 L380.5 875.27 L381.0 875.23 L381.5 875.19 L382.0 875.15 L382.5 875.10 L383.0 875.04 L383.5 874.98 L384.0 874.91 L384.5 874.83 L385.0 874.75 L385.5 874.65 L386.0 874.55 L386.5 874.43 L387.0 874.30 L387.5 874.15 L388.0 874.00 L388.5 873.83 L389.0 873.65 L389.5 873.45 L390.0 873.25 L390.5 873.04 L391.0 872.82 L391.5 872.59 L392.0 872.37 L392.5 872.14 L393.0 871.91 L393.5 871.69 L394.0 871.48 L394.5 871.29 L395.0 871.10 L395.5 870.93 L396.0 870.78 L396.5 870.64 L397.0 870.52 L397.5 870.42 L398.0 870.34 L398.5 870.26 L399.0 870.19 L399.5 870.13 L400.0 870.06 L400.5 869.99 L401.0 869.90 L401.5 869.78 L402.0 869.64 L402.5 869.44 L403.0 869.19 L403.5 868.84 L404.0 868.35 L404.5 867.68 L405.0 866.75 L405.5 865.45 L406.0 863.66 L406.5 861.26 L407.0 858.10 L407.5 854.08 L408.0 849.16 L408.5 843.38 L409.0 836.88 L409.5 829.97 L410.0 823.04 L410.5 816.59 L411.0 811.16 L411.5 807.26 L412.0 805.27 L412.5 805.41 L413.0 807.71 L413.5 811.97 L414.0 817.80 L414.5 824.70 L415.0 832.14 L415.5 839.60 L416.0 846.64 L416.5 852.94 L417.0 858.33 L417.5 862.75 L418.0 866.24 L418.5 868.91 L419.0 870.88 L419.5 872.31 L420.0 873.32 L420.5 874.03 L421.0 874.53 L421.5 874.89 L422.0 875.14 L422.5 875.32 L423.0 875.46 L423.5 875.56 L424.0 875.64 L424.5 875.70 L425.0 875.74 L425.5 875.78 L426.0 875.81 L426.5 875.83 L427.0 875.84 L427.5 875.85 L428.0 875.86 L428.5 875.87 L429.0 875.87 L429.5 875.88 L430.0 875.88 L430.5 875.89 L431.0 875.89 L431.5 875.89 L432.0 875.89 L432.5 875.90 L433.0 875.90 L433.5 875.90 L434.0 875.90 L434.5 875.91 L435.0 875.91 L435.5 875.91 L436.0 875.92 L436.5 875.92 L437.0 875.93 L437.5 875.93 L438.0 875.94 L438.5 875.94 L439.0 875.95 L439.5 875.95 L440.0 875.96 L440.5 875.96 L441.0 875.97 L441.5 875.98 L442.0 875.98 L442.5 875.99 L443.0 875.99 L443.5 876.00 L444.0 876.01 L444.5 876.02 L445.0 876.02 L445.5 876.03 L446.0 876.04 L446.5 876.04 L447.0 876.05 L447.5 876.06 L448.0 876.07 L448.5 876.07 L449.0 876.08 L449.5 876.09 L450.0 876.10 L450.5 876.10 L451.0 876.11 L451.5 876.12 L452.0 876.13 L452.5 876.13 L453.0 876.14 L453.5 876.15 L454.0 876.16 L454.5 876.16 L455.0 876.17 L455.5 876.18 L456.0 876.19 L456.5 876.19 L457.0 876.20 L457.5 876.21 L458.0 876.21 L458.0 876.4 Z" fill="#6a6cc8" fill-opacity="0.72" stroke="#3a36b4" stroke-width="0.6"/>
</g>
<rect x="349.70" y="768.60" width="108.50" height="108.30" fill="none" stroke="#6e6e6e" stroke-width="0.9"/>
<line x1="349.70" y1="835.00" x2="403.50" y2="835.00" stroke="#222" stroke-width="0.7"/>
<line x1="403.50" y1="832.80" x2="403.50" y2="843.20" stroke="#222" stroke-width="0.7"/>
<line x1="403.50" y1="840.80" x2="458.20" y2="840.80" stroke="#222" stroke-width="0.7"/>
<line x1="457.90" y1="838.40" x2="457.90" y2="843.20" stroke="#222" stroke-width="0.7"/>
<text x="420.40" y="785.00" font-size="10.0" text-anchor="middle" font-weight="normal" fill="#222">EdU+ MSCs</text>
<text x="389.80" y="802.30" font-size="10.0" text-anchor="start" font-weight="normal" fill="#222">80.8</text>
<text x="414.00" y="802.30" font-size="10.0" text-anchor="start" font-weight="normal" fill="#222">±</text>
<text x="424.00" y="802.30" font-size="10.0" text-anchor="start" font-weight="normal" fill="#222" letter-spacing="0.2">5.33%</text>
</svg>
</body></html>
